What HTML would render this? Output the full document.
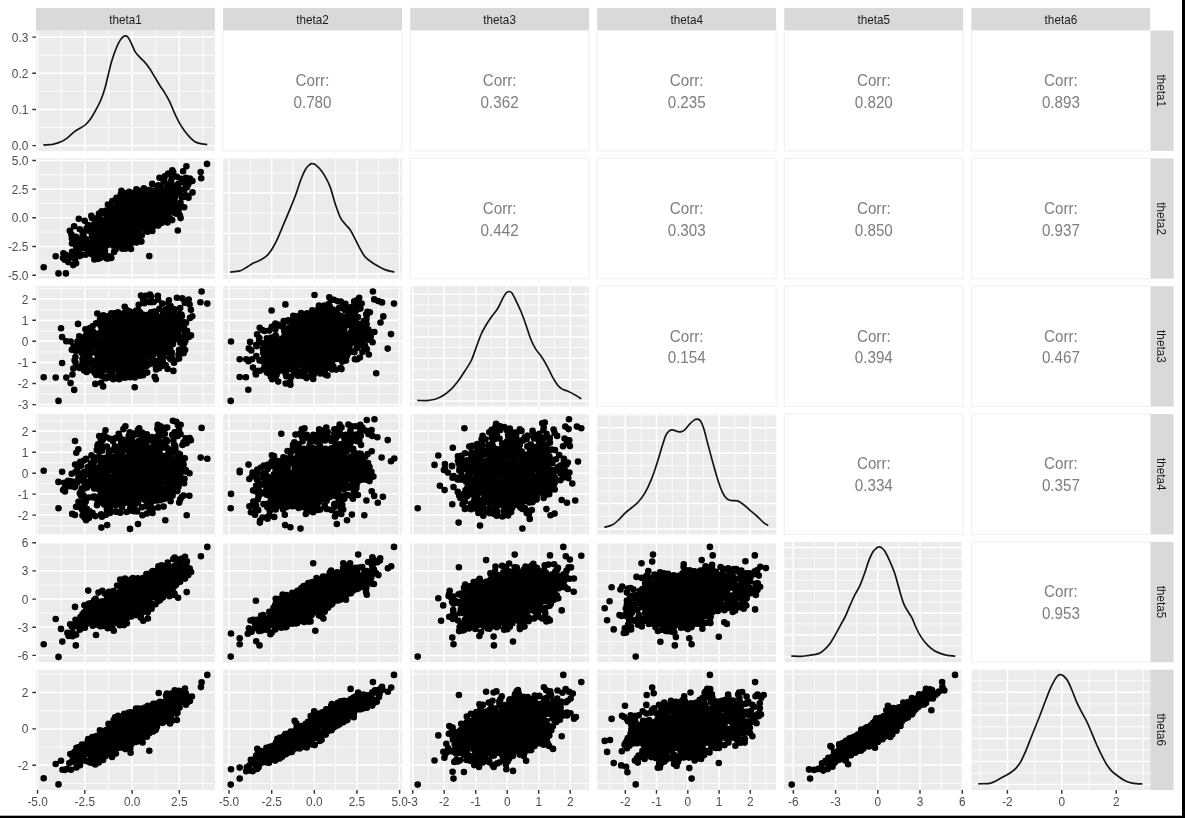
<!DOCTYPE html>
<html><head><meta charset="utf-8"><title>ggpairs theta</title>
<style>html,body{margin:0;padding:0;background:#fff;overflow:hidden}svg{display:block}</style></head>
<body>
<svg width="1185" height="818" viewBox="0 0 1185 818" font-family="'Liberation Sans', sans-serif">
<rect width="1185" height="818" fill="#fff"/>
<defs>
<filter id="soft" x="0" y="0" width="1185" height="818" filterUnits="userSpaceOnUse" color-interpolation-filters="sRGB"><feGaussianBlur stdDeviation="0.5"/></filter>
<clipPath id="c00"><rect x="36" y="30.6" width="178.9" height="120.3"/></clipPath>
<clipPath id="c01"><rect x="223.1" y="30.6" width="178.9" height="120.3"/></clipPath>
<clipPath id="c02"><rect x="410.2" y="30.6" width="178.9" height="120.3"/></clipPath>
<clipPath id="c03"><rect x="597.2" y="30.6" width="178.9" height="120.3"/></clipPath>
<clipPath id="c04"><rect x="784.3" y="30.6" width="178.9" height="120.3"/></clipPath>
<clipPath id="c05"><rect x="971.4" y="30.6" width="178.9" height="120.3"/></clipPath>
<clipPath id="c10"><rect x="36" y="158.4" width="178.9" height="120.3"/></clipPath>
<clipPath id="c11"><rect x="223.1" y="158.4" width="178.9" height="120.3"/></clipPath>
<clipPath id="c12"><rect x="410.2" y="158.4" width="178.9" height="120.3"/></clipPath>
<clipPath id="c13"><rect x="597.2" y="158.4" width="178.9" height="120.3"/></clipPath>
<clipPath id="c14"><rect x="784.3" y="158.4" width="178.9" height="120.3"/></clipPath>
<clipPath id="c15"><rect x="971.4" y="158.4" width="178.9" height="120.3"/></clipPath>
<clipPath id="c20"><rect x="36" y="286.2" width="178.9" height="120.3"/></clipPath>
<clipPath id="c21"><rect x="223.1" y="286.2" width="178.9" height="120.3"/></clipPath>
<clipPath id="c22"><rect x="410.2" y="286.2" width="178.9" height="120.3"/></clipPath>
<clipPath id="c23"><rect x="597.2" y="286.2" width="178.9" height="120.3"/></clipPath>
<clipPath id="c24"><rect x="784.3" y="286.2" width="178.9" height="120.3"/></clipPath>
<clipPath id="c25"><rect x="971.4" y="286.2" width="178.9" height="120.3"/></clipPath>
<clipPath id="c30"><rect x="36" y="414.1" width="178.9" height="120.3"/></clipPath>
<clipPath id="c31"><rect x="223.1" y="414.1" width="178.9" height="120.3"/></clipPath>
<clipPath id="c32"><rect x="410.2" y="414.1" width="178.9" height="120.3"/></clipPath>
<clipPath id="c33"><rect x="597.2" y="414.1" width="178.9" height="120.3"/></clipPath>
<clipPath id="c34"><rect x="784.3" y="414.1" width="178.9" height="120.3"/></clipPath>
<clipPath id="c35"><rect x="971.4" y="414.1" width="178.9" height="120.3"/></clipPath>
<clipPath id="c40"><rect x="36" y="541.9" width="178.9" height="120.3"/></clipPath>
<clipPath id="c41"><rect x="223.1" y="541.9" width="178.9" height="120.3"/></clipPath>
<clipPath id="c42"><rect x="410.2" y="541.9" width="178.9" height="120.3"/></clipPath>
<clipPath id="c43"><rect x="597.2" y="541.9" width="178.9" height="120.3"/></clipPath>
<clipPath id="c44"><rect x="784.3" y="541.9" width="178.9" height="120.3"/></clipPath>
<clipPath id="c45"><rect x="971.4" y="541.9" width="178.9" height="120.3"/></clipPath>
<clipPath id="c50"><rect x="36" y="669.7" width="178.9" height="120.3"/></clipPath>
<clipPath id="c51"><rect x="223.1" y="669.7" width="178.9" height="120.3"/></clipPath>
<clipPath id="c52"><rect x="410.2" y="669.7" width="178.9" height="120.3"/></clipPath>
<clipPath id="c53"><rect x="597.2" y="669.7" width="178.9" height="120.3"/></clipPath>
<clipPath id="c54"><rect x="784.3" y="669.7" width="178.9" height="120.3"/></clipPath>
<clipPath id="c55"><rect x="971.4" y="669.7" width="178.9" height="120.3"/></clipPath>
</defs>
<g filter="url(#soft)">
<rect width="1185" height="818" fill="#fff"/>
<rect x="36" y="7.9" width="178.9" height="22.7" fill="#d9d9d9"/>
<text transform="translate(125.5 23.7) scale(1 1.04)" font-size="11.73" fill="#1a1a1a" text-anchor="middle">theta1</text>
<rect x="223.1" y="7.9" width="178.9" height="22.7" fill="#d9d9d9"/>
<text transform="translate(312.5 23.7) scale(1 1.04)" font-size="11.73" fill="#1a1a1a" text-anchor="middle">theta2</text>
<rect x="410.2" y="7.9" width="178.9" height="22.7" fill="#d9d9d9"/>
<text transform="translate(499.6 23.7) scale(1 1.04)" font-size="11.73" fill="#1a1a1a" text-anchor="middle">theta3</text>
<rect x="597.2" y="7.9" width="178.9" height="22.7" fill="#d9d9d9"/>
<text transform="translate(686.7 23.7) scale(1 1.04)" font-size="11.73" fill="#1a1a1a" text-anchor="middle">theta4</text>
<rect x="784.3" y="7.9" width="178.9" height="22.7" fill="#d9d9d9"/>
<text transform="translate(873.8 23.7) scale(1 1.04)" font-size="11.73" fill="#1a1a1a" text-anchor="middle">theta5</text>
<rect x="971.4" y="7.9" width="178.9" height="22.7" fill="#d9d9d9"/>
<text transform="translate(1060.9 23.7) scale(1 1.04)" font-size="11.73" fill="#1a1a1a" text-anchor="middle">theta6</text>
<rect x="1150.3" y="30.6" width="23.3" height="120.3" fill="#d9d9d9"/>
<text transform="translate(1157 90.8) rotate(90) scale(1 1.04)" font-size="11.73" fill="#1a1a1a" text-anchor="middle">theta1</text>
<rect x="1150.3" y="158.4" width="23.3" height="120.3" fill="#d9d9d9"/>
<text transform="translate(1157 218.6) rotate(90) scale(1 1.04)" font-size="11.73" fill="#1a1a1a" text-anchor="middle">theta2</text>
<rect x="1150.3" y="286.2" width="23.3" height="120.3" fill="#d9d9d9"/>
<text transform="translate(1157 346.4) rotate(90) scale(1 1.04)" font-size="11.73" fill="#1a1a1a" text-anchor="middle">theta3</text>
<rect x="1150.3" y="414.1" width="23.3" height="120.3" fill="#d9d9d9"/>
<text transform="translate(1157 474.2) rotate(90) scale(1 1.04)" font-size="11.73" fill="#1a1a1a" text-anchor="middle">theta4</text>
<rect x="1150.3" y="541.9" width="23.3" height="120.3" fill="#d9d9d9"/>
<text transform="translate(1157 602) rotate(90) scale(1 1.04)" font-size="11.73" fill="#1a1a1a" text-anchor="middle">theta5</text>
<rect x="1150.3" y="669.7" width="23.3" height="120.3" fill="#d9d9d9"/>
<text transform="translate(1157 729.8) rotate(90) scale(1 1.04)" font-size="11.73" fill="#1a1a1a" text-anchor="middle">theta6</text>
<rect x="36" y="30.6" width="178.9" height="120.3" fill="#ebebeb"/>
<g clip-path="url(#c00)">
<path d="M61.2 30.6v120.3M108.5 30.6v120.3M155.7 30.6v120.3M203 30.6v120.3M36 127.5h178.9M36 91.4h178.9M36 55.2h178.9" stroke="#fff" stroke-width="0.8"/>
<path d="M37.6 30.6v120.3M84.8 30.6v120.3M132.1 30.6v120.3M179.3 30.6v120.3M36 145.6h178.9M36 109.5h178.9M36 73.3h178.9M36 37.1h178.9" stroke="#fff" stroke-width="1.5"/>
<path d="M43.3 145.1C44.9 144.9 49.8 144.8 52.7 144.3C55.7 143.7 58.5 142.9 61 141.8C63.5 140.7 65.4 139.3 67.6 137.7C69.8 136 72 133.5 74.2 131.9C76.4 130.2 78.9 129 80.8 127.8C82.7 126.5 84.1 126 85.7 124.5C87.4 122.9 89 121 90.7 118.7C92.3 116.3 94 113.5 95.6 110.4C97.3 107.4 99.1 104.1 100.6 100.5C102.1 97 103.5 93.1 104.7 89C106 84.9 106.9 80.2 108 75.8C109.1 71.4 110.1 66.9 111.3 62.6C112.5 58.3 114.1 53.8 115.4 50.2C116.8 46.6 118.3 43.3 119.6 41.1C120.8 38.9 121.9 37.9 122.9 37C123.8 36.1 124.5 35.9 125.3 35.9C126.2 35.9 126.8 35.9 127.8 37C128.8 38.2 129.9 40.3 131.1 42.8C132.3 45.3 133.7 49.4 135.2 51.9C136.7 54.3 138.5 55.9 140.2 57.6C141.8 59.4 143.5 60.7 145.1 62.6C146.8 64.5 148.4 66.7 150.1 69.2C151.7 71.7 153.4 74.7 155 77.4C156.7 80.2 158.3 83.1 160 85.7C161.6 88.3 163.3 90.4 164.9 93.1C166.6 95.9 168.2 98.8 169.9 102.2C171.5 105.6 173.2 110.2 174.8 113.7C176.5 117.3 178.1 120.7 179.8 123.6C181.4 126.5 183.1 128.8 184.7 131.1C186.4 133.3 188 135.4 189.7 137.2C191.3 138.9 193 140.4 194.6 141.5C196.3 142.5 197.5 142.9 199.6 143.4C201.7 144 206 144.4 207.3 144.6" fill="none" stroke="#141414" stroke-width="1.7" stroke-linejoin="round"/>
</g>
<rect x="223.1" y="30.6" width="178.9" height="120.3" fill="#fff" stroke="#f0f0f0" stroke-width="1.1"/>
<g font-size="15.2" fill="#7d7d7d" text-anchor="middle"><text transform="translate(312.5 85.8) scale(1 1.04)">Corr:</text><text transform="translate(312.5 107.8) scale(1 1.04)">0.780</text></g>
<rect x="410.2" y="30.6" width="178.9" height="120.3" fill="#fff" stroke="#f0f0f0" stroke-width="1.1"/>
<g font-size="15.2" fill="#7d7d7d" text-anchor="middle"><text transform="translate(499.6 85.8) scale(1 1.04)">Corr:</text><text transform="translate(499.6 107.8) scale(1 1.04)">0.362</text></g>
<rect x="597.2" y="30.6" width="178.9" height="120.3" fill="#fff" stroke="#f0f0f0" stroke-width="1.1"/>
<g font-size="15.2" fill="#7d7d7d" text-anchor="middle"><text transform="translate(686.7 85.8) scale(1 1.04)">Corr:</text><text transform="translate(686.7 107.8) scale(1 1.04)">0.235</text></g>
<rect x="784.3" y="30.6" width="178.9" height="120.3" fill="#fff" stroke="#f0f0f0" stroke-width="1.1"/>
<g font-size="15.2" fill="#7d7d7d" text-anchor="middle"><text transform="translate(873.8 85.8) scale(1 1.04)">Corr:</text><text transform="translate(873.8 107.8) scale(1 1.04)">0.820</text></g>
<rect x="971.4" y="30.6" width="178.9" height="120.3" fill="#fff" stroke="#f0f0f0" stroke-width="1.1"/>
<g font-size="15.2" fill="#7d7d7d" text-anchor="middle"><text transform="translate(1060.9 85.8) scale(1 1.04)">Corr:</text><text transform="translate(1060.9 107.8) scale(1 1.04)">0.893</text></g>
<rect x="36" y="158.4" width="178.9" height="120.3" fill="#ebebeb"/>
<g clip-path="url(#c10)">
<path d="M61.2 158.4v120.3M108.5 158.4v120.3M155.7 158.4v120.3M203 158.4v120.3M36 260.8h178.9M36 232.1h178.9M36 203.5h178.9M36 174.8h178.9" stroke="#fff" stroke-width="0.8"/>
<path d="M37.6 158.4v120.3M84.8 158.4v120.3M132.1 158.4v120.3M179.3 158.4v120.3M36 275.2h178.9M36 246.5h178.9M36 217.8h178.9M36 189.1h178.9M36 160.5h178.9" stroke="#fff" stroke-width="1.5"/>
<path d="M43.7 267.3h.01M58.5 273.4h.01M65.9 273.4h.01M55.7 256.3h.01M149.3 256.1h.01M177.8 230.5h.01M180.6 218.1h.01M201.2 178.2h.01M200.7 172.1h.01M207 163.9h.01M186.4 166.2h.01M183.1 171.3h.01M167.5 206.2h.01M151.1 207.5h.01M89.2 230.9h.01M130.3 217.1h.01M148.4 228.4h.01M112.9 227.8h.01M138 214.4h.01M133.5 212.1h.01M130.6 212.3h.01M126.1 230h.01M142.9 212.7h.01M164.4 193.1h.01M106.8 222.4h.01M159.8 214h.01M136.9 222.8h.01M143.3 209.1h.01M102 237.4h.01M134.2 219.1h.01M171.1 186.7h.01M103.7 230.6h.01M75.9 238.5h.01M82.7 234.8h.01M138 225.6h.01M162.4 202.7h.01M175.2 212.7h.01M133.2 213.9h.01M169.1 194.8h.01M123.7 217.6h.01M148.2 215.1h.01M123.8 210.7h.01M117 233.7h.01M134.2 220.2h.01M118.8 212.5h.01M167 193.2h.01M135.9 212.7h.01M142 192h.01M122.1 224.7h.01M165.7 220.8h.01M112.6 225.1h.01M149.5 213.2h.01M121.8 226.1h.01M107.5 240.8h.01M118.5 235.7h.01M110.9 235.7h.01M125.1 216.5h.01M122.1 235.2h.01M139.4 208.2h.01M146.8 216.1h.01M126.7 218.1h.01M129.8 201.2h.01M138.7 219h.01M117.2 222.7h.01M150.9 209.7h.01M154.7 194.1h.01M136.2 231.2h.01M189.9 178.6h.01M156.8 210.8h.01M127.6 234h.01M121.5 232.7h.01M124.6 226.5h.01M118.2 222.7h.01M162.5 198.5h.01M113.5 218.5h.01M128.4 228.2h.01M117.5 225.6h.01M160.3 201.6h.01M93.3 228.7h.01M127.4 221h.01M139.6 229.5h.01M143.8 214.8h.01M158.8 213.7h.01M90.4 247.8h.01M148.4 194.1h.01M104.6 221.8h.01M111 228.9h.01M181.9 197.2h.01M176.8 186.1h.01M79.3 250.3h.01M124.9 222.5h.01M128.8 213.2h.01M72.1 251.9h.01M129.2 243.7h.01M136.6 201.5h.01M75.5 241.8h.01M162 209.8h.01M137.4 195.7h.01M128.9 232.1h.01M112.1 211.1h.01M151 212.6h.01M156.8 220.5h.01M118.6 217.8h.01M132.9 208.2h.01M154.3 202.2h.01M76.5 237.9h.01M133.7 204h.01M77.8 239.5h.01M107.9 217.3h.01M144 206.1h.01M126.8 211.2h.01M120.6 227.7h.01M154.9 217h.01M150.9 199.5h.01M111.3 234.6h.01M138.8 217.3h.01M118.9 226.8h.01M122.7 234.8h.01M121.8 217.9h.01M119.7 243.8h.01M134.4 202.2h.01M138.2 209.1h.01M86.7 247h.01M116.5 226.6h.01M96.4 237.1h.01M165.2 191.9h.01M168.8 184.8h.01M140.4 194.5h.01M159.7 189.8h.01M174.9 188.1h.01M149.8 208.3h.01M124.7 214.4h.01M114.9 244.9h.01M99.3 229h.01M124.9 203.8h.01M167.7 185.8h.01M131.3 223.9h.01M181.9 195.8h.01M170.2 193.7h.01M123.3 220.8h.01M95.2 250.5h.01M129.3 237.2h.01M141.3 202h.01M174 212.8h.01M102.4 233.2h.01M120.9 198h.01M140 220.2h.01M162.7 200.9h.01M145.2 209.3h.01M142.4 194.8h.01M167.8 205.4h.01M144.7 222h.01M124.5 201.6h.01M132.1 211.1h.01M113.2 240.7h.01M146.3 216.3h.01M157.5 214.2h.01M164.8 214.3h.01M129 208.4h.01M143.8 196.8h.01M149.6 202.7h.01M68.3 262.1h.01M100.2 235.9h.01M122.2 203.8h.01M117.8 207.7h.01M83.7 248.1h.01M148.2 198.8h.01M146.8 197.7h.01M146.3 219h.01M147.9 202h.01M159.3 204.7h.01M123.1 240.3h.01M93.2 233h.01M113.9 238h.01M145.9 205.9h.01M186.6 195.6h.01M126 224.4h.01M120.5 211.7h.01M153 196h.01M103.7 243.9h.01M127.3 203.6h.01M165.7 190.4h.01M157.6 208.2h.01M105.3 237.9h.01M163.5 215.4h.01M116.5 229.3h.01M134.2 204h.01M164.4 204.1h.01M105.2 223.8h.01M134.9 192.4h.01M102.2 222.5h.01M76.9 247.3h.01M131.3 222.3h.01M110.5 238.7h.01M87.8 250.2h.01M167.8 207.5h.01M121.2 199h.01M114.1 221.8h.01M89.1 243h.01M167.9 213.8h.01M145 198.9h.01M164.2 179.7h.01M116.7 211.4h.01M155.1 212.4h.01M134.6 207.8h.01M139.5 224.7h.01M105.8 230.6h.01M147.6 214.6h.01M136.9 234.1h.01M137.5 225.5h.01M143.4 194.4h.01M123.3 196.8h.01M109.5 223.8h.01M112.4 218.3h.01M74.9 259.3h.01M92.6 248h.01M87.1 244.6h.01M105.7 219.8h.01M151.6 207.6h.01M84.1 238.7h.01M175.3 208.3h.01M163.4 201.4h.01M107.1 231.5h.01M169.4 185.4h.01M113.7 217.9h.01M109.8 231.5h.01M148.4 223.5h.01M104 229.4h.01M112.9 212h.01M132.8 227.3h.01M116.2 232.8h.01M135.9 202.2h.01M126.3 196.9h.01M101.7 234.2h.01M110.1 208.4h.01M106.7 242.1h.01M164.8 218.3h.01M98 253.1h.01M138 190.2h.01M188.4 197.6h.01M139.3 217.8h.01M156.1 193.1h.01M158.5 191.1h.01M109.6 221.5h.01M161.4 222.9h.01M154.4 222h.01M152.3 191.8h.01M155.8 198.4h.01M113.5 213.6h.01M140.5 223.5h.01M173.9 212.2h.01M103 246.1h.01M178.4 206.5h.01M157.9 206.6h.01M154 192.4h.01M126.3 205.7h.01M129.1 207.5h.01M161.8 197.9h.01M108.9 224.5h.01M163.3 221.4h.01M100 230.8h.01M119.1 217.2h.01M90.2 230.5h.01M117.3 203.7h.01M164.7 204.3h.01M163.7 181.9h.01M179.3 192.3h.01M75.7 236.8h.01M163.2 211.3h.01M148.1 218.3h.01M141.9 202.9h.01M171.1 201.3h.01M164 218.6h.01M86.2 239.8h.01M98.3 234.1h.01M84.3 247h.01M166 190.6h.01M169.1 206.8h.01M131.7 228.4h.01M153.4 218h.01M98.2 227.4h.01M136 197.8h.01M124.1 206.2h.01M71 257.1h.01M106.7 226.2h.01M142.3 215.4h.01M115.2 237.4h.01M121.5 210.1h.01M152.4 228.6h.01M129.6 238.9h.01M141.2 204.9h.01M136.9 238.2h.01M153.6 207.5h.01M105 250.9h.01M95.3 224.5h.01M123.8 241.7h.01M99.5 216.9h.01M86.2 239.4h.01M169.1 190.2h.01M137.1 201.9h.01M105.7 241.9h.01M146 227.7h.01M168.2 173.5h.01M145.3 229.6h.01M189.7 179.6h.01M145.8 231h.01M84.7 240.4h.01M150 190.4h.01M102.9 235.2h.01M125 234.9h.01M109.1 233.1h.01M93.4 245.2h.01M170.6 205.4h.01M115 237.9h.01M162 192h.01M106.1 211.6h.01M113.8 242.9h.01M172 197.7h.01M152.2 219.6h.01M157.5 215.2h.01M172.4 199.5h.01M113.6 210.9h.01M72.9 252.2h.01M159.8 191.9h.01M110.9 240.4h.01M94.8 236.9h.01M114.1 240.8h.01M187 187.2h.01M111.9 216.9h.01M170 218.6h.01M156.9 198.2h.01M166.2 201.9h.01M122.3 248.7h.01M113.3 245.7h.01M100.8 225.3h.01M126.7 239.5h.01M124.8 193.2h.01M143.5 222.7h.01M138.8 199.7h.01M112.2 209.3h.01M118.9 244h.01M92.9 226.9h.01M98.2 258.1h.01M98.9 246.6h.01M102.1 256.8h.01M124 241.7h.01M95.6 241.7h.01M122 245.6h.01M130.6 232.7h.01M134.6 205.5h.01M129.2 200.7h.01M129.6 197.2h.01M131.4 236.8h.01M79.2 243h.01M174.6 209.9h.01M94.6 254.7h.01M100.8 257.8h.01M162.4 217.8h.01M106 210.5h.01M183.7 195.9h.01M167.1 198.3h.01M171.1 181.4h.01M120.8 237.9h.01M118 244.5h.01M134.8 238.3h.01M178.6 183.6h.01M92 235.9h.01M144.2 224.5h.01M131.3 198.8h.01M135 196.1h.01M157.2 188.9h.01M183.5 181h.01M75.7 243h.01M127.7 244.8h.01M178.4 189.3h.01M157.8 192.4h.01M179.5 189.2h.01M88.4 252.8h.01M78.4 248.7h.01M136.4 189.2h.01M161.9 190.2h.01M78 246.8h.01M118.7 237h.01M97.4 229.4h.01M82.6 244.7h.01M166.3 188.1h.01M104.3 248h.01M178.1 185.9h.01M159.1 195.5h.01M159.1 188.8h.01M120.2 241.1h.01M86.5 228.6h.01M92 218h.01M97.4 242.7h.01M171.3 193.9h.01M96.3 222.3h.01M105.2 241h.01M101.4 244.8h.01M76.3 247.2h.01M153 226.4h.01M99 251.8h.01M164.8 176.2h.01M184.4 189.4h.01M185.2 181.4h.01M83 232.6h.01M108.7 256.2h.01M107.2 245.3h.01M102.6 239h.01M101.4 221.5h.01M141.9 227.6h.01M63.4 253.2h.01M186.1 185.9h.01M165.7 188.6h.01M94.2 252.8h.01M94.8 223.1h.01M111.3 258h.01M184.6 183.1h.01M105.8 214h.01M77.4 251.2h.01M104.1 254.9h.01M70.2 255.5h.01M172 206.4h.01M148.8 190h.01M128.8 240.7h.01M104.3 213.2h.01M106.8 258.4h.01M75.1 240.7h.01M175.2 196.7h.01M132.3 197.5h.01M99 213.5h.01M180.5 202.6h.01M117.4 244.6h.01M171.5 202.6h.01M176.3 213.7h.01M147.5 231.8h.01M173.1 201.3h.01M152.7 190.8h.01M92.6 225.2h.01M130.3 242.1h.01M65.1 254.5h.01M117.2 206.4h.01M184.4 195.9h.01M171.7 178.1h.01M163.9 189.9h.01M176.8 189.2h.01M178.5 205.9h.01M84.7 220.7h.01M132.1 193.7h.01M144 193.5h.01M96 218.2h.01M162.6 189h.01M92.9 241h.01M164.3 212.1h.01M92.2 254.5h.01M132.8 242.6h.01M173.2 201.8h.01M79.8 229.3h.01M99.9 239h.01M174.4 199.2h.01M188.4 183.9h.01M158.4 185.2h.01M171.7 209.7h.01M172 192.3h.01M166.7 184.3h.01M106.4 218.2h.01M188.5 197.8h.01M176.7 185.4h.01M89.9 253.3h.01M91.3 215.9h.01M76.8 252.6h.01M127.8 194.9h.01M173 190.4h.01M92.9 238.7h.01M160 186.9h.01M111.4 207.1h.01M177.1 205.9h.01M98.4 258.7h.01M173.5 191h.01M77 254.2h.01M181.6 180.1h.01M79.6 256.1h.01M81.7 255h.01M183.4 196.9h.01M88 225h.01M83.5 235.5h.01M74.1 226.2h.01M181.4 178.9h.01M178.6 211.4h.01M174.1 200.6h.01M107.8 258.6h.01M109.4 213.9h.01M71.4 234.4h.01M71.9 238.6h.01M72 243.5h.01M64.7 259.8h.01M73.2 265.1h.01M115.7 249.3h.01M131 249h.01M136.7 242.4h.01M141.7 235.5h.01M158.2 225.6h.01M184.2 207.3h.01M192.5 192.4h.01M192.4 180.9h.01M177 176.8h.01M173.2 172.3h.01M152.2 183.9h.01M120.8 194.3h.01M116.5 197.7h.01M112.4 201h.01M107.9 204.5h.01M69.8 230.8h.01M78.8 218.8h.01M101.6 211.3h.01M121.4 190.9h.01M129.1 191.7h.01M143.9 188.4h.01M159.5 177.8h.01M172.3 170.2h.01M186 177.8h.01M179.9 215.5h.01M172.2 220.1h.01M167.5 222.5h.01M152.3 230.9h.01M141.4 241.6h.01M125.3 248.7h.01M114.1 251.9h.01M94.4 259.4h.01M85.6 254.8h.01M76.1 263.3h.01M63 258.1h.01" stroke="#000" stroke-width="6.6" stroke-linecap="round" fill="none"/>
</g>
<rect x="223.1" y="158.4" width="178.9" height="120.3" fill="#ebebeb"/>
<g clip-path="url(#c11)">
<path d="M250.3 158.4v120.3M293 158.4v120.3M335.6 158.4v120.3M378.3 158.4v120.3M223.1 253.6h178.9M223.1 213.3h178.9M223.1 173h178.9" stroke="#fff" stroke-width="0.8"/>
<path d="M229 158.4v120.3M271.7 158.4v120.3M314.3 158.4v120.3M356.9 158.4v120.3M399.6 158.4v120.3M223.1 273.8h178.9M223.1 233.4h178.9M223.1 193.1h178.9" stroke="#fff" stroke-width="1.5"/>
<path d="M230.2 272.1C231.8 271.9 237.1 271.7 239.7 270.9C242.4 270.2 244.1 268.7 246.3 267.5C248.5 266.2 250.7 264.5 252.9 263.3C255.1 262.2 257.3 261.7 259.5 260.5C261.7 259.4 264.1 258.2 266.1 256.4C268.1 254.6 269.7 252.8 271.6 249.8C273.5 246.8 275.6 242.8 277.7 238.3C279.8 233.7 282.1 227.8 284.3 222.6C286.5 217.4 289 211.6 290.9 206.9C292.8 202.2 294.2 199.1 295.8 194.5C297.5 190 299.1 184 300.8 179.7C302.4 175.4 304.2 171.5 305.7 169C307.2 166.4 308.8 165.4 309.9 164.5C311 163.6 311.4 163.6 312.3 163.7C313.3 163.7 314.3 163.8 315.6 164.8C317 165.9 318.9 167.7 320.6 169.8C322.2 171.9 323.9 174.2 325.5 177.2C327.2 180.2 328.8 183.4 330.5 187.9C332.1 192.5 333.8 199.5 335.4 204.4C337.1 209.4 338.7 214.3 340.4 217.6C342 220.9 343.7 222.2 345.3 224.2C347 226.3 348.6 227.5 350.3 230C351.9 232.5 353.6 235.9 355.2 239.1C356.9 242.2 358.5 246 360.2 249C361.8 252 363.2 254.7 365.1 256.9C367.1 259.1 369.5 260.6 371.7 262.2C373.9 263.8 376.1 265.1 378.3 266.3C380.5 267.5 382.3 268.6 384.9 269.6C387.6 270.6 392.8 271.7 394.3 272.1" fill="none" stroke="#141414" stroke-width="1.7" stroke-linejoin="round"/>
</g>
<rect x="410.2" y="158.4" width="178.9" height="120.3" fill="#fff" stroke="#f0f0f0" stroke-width="1.1"/>
<g font-size="15.2" fill="#7d7d7d" text-anchor="middle"><text transform="translate(499.6 213.7) scale(1 1.04)">Corr:</text><text transform="translate(499.6 235.6) scale(1 1.04)">0.442</text></g>
<rect x="597.2" y="158.4" width="178.9" height="120.3" fill="#fff" stroke="#f0f0f0" stroke-width="1.1"/>
<g font-size="15.2" fill="#7d7d7d" text-anchor="middle"><text transform="translate(686.7 213.7) scale(1 1.04)">Corr:</text><text transform="translate(686.7 235.6) scale(1 1.04)">0.303</text></g>
<rect x="784.3" y="158.4" width="178.9" height="120.3" fill="#fff" stroke="#f0f0f0" stroke-width="1.1"/>
<g font-size="15.2" fill="#7d7d7d" text-anchor="middle"><text transform="translate(873.8 213.7) scale(1 1.04)">Corr:</text><text transform="translate(873.8 235.6) scale(1 1.04)">0.850</text></g>
<rect x="971.4" y="158.4" width="178.9" height="120.3" fill="#fff" stroke="#f0f0f0" stroke-width="1.1"/>
<g font-size="15.2" fill="#7d7d7d" text-anchor="middle"><text transform="translate(1060.9 213.7) scale(1 1.04)">Corr:</text><text transform="translate(1060.9 235.6) scale(1 1.04)">0.937</text></g>
<rect x="36" y="286.2" width="178.9" height="120.3" fill="#ebebeb"/>
<g clip-path="url(#c20)">
<path d="M61.2 286.2v120.3M108.5 286.2v120.3M155.7 286.2v120.3M203 286.2v120.3M36 394.1h178.9M36 372.9h178.9M36 351.9h178.9M36 330.8h178.9M36 309.7h178.9M36 288.6h178.9" stroke="#fff" stroke-width="0.8"/>
<path d="M37.6 286.2v120.3M84.8 286.2v120.3M132.1 286.2v120.3M179.3 286.2v120.3M36 404.6h178.9M36 383.5h178.9M36 362.4h178.9M36 341.3h178.9M36 320.2h178.9M36 299.1h178.9" stroke="#fff" stroke-width="1.5"/>
<path d="M43.7 377.3h.01M55.7 377.6h.01M66.3 377.6h.01M70.6 383.1h.01M74.2 389.9h.01M58.5 400.9h.01M61 328.3h.01M62.1 337.1h.01M66.3 341.2h.01M70.6 341.5h.01M78 323.9h.01M62.1 363h.01M97.3 313.5h.01M201.6 291.5h.01M200.4 302.3h.01M207.3 303.6h.01M134.7 387.2h.01M95.3 383.9h.01M101.1 382.8h.01M103.1 386.4h.01M82.4 363.5h.01M86.6 372h.01M72.5 374.5h.01M155.9 313.2h.01M136 336.8h.01M140.7 352.2h.01M103.5 342.2h.01M146.6 317.5h.01M157.4 337.1h.01M106.5 336.6h.01M145 332.1h.01M142.2 354.8h.01M139.7 375.8h.01M118.4 335.1h.01M111.2 360.8h.01M110 368h.01M97.7 348.1h.01M137.4 346.7h.01M129.4 347.5h.01M172.9 319.2h.01M160.5 327.4h.01M142.2 327.5h.01M126.2 350.8h.01M167.6 324.5h.01M124.4 342.1h.01M127.7 343.1h.01M172.7 317.7h.01M134 351h.01M108.9 365.9h.01M102.9 359.4h.01M157.2 362.4h.01M183.4 347.9h.01M107.6 360.2h.01M86.9 363.6h.01M145.7 321h.01M89 364.3h.01M139.9 333.8h.01M102 348.6h.01M122.1 360.1h.01M139.6 333.5h.01M115.8 355.1h.01M172.4 328.1h.01M149.2 317.1h.01M147.6 355.9h.01M143.1 325.4h.01M168.2 310.2h.01M164.4 329.9h.01M144.7 329.6h.01M116.9 332.9h.01M130.6 373.4h.01M171 328.2h.01M125 347.2h.01M171.5 355.7h.01M91.2 362.1h.01M109.6 361h.01M110.3 334.1h.01M133.6 345.9h.01M145.7 358.3h.01M134.8 364.9h.01M166.8 325.3h.01M106 328.2h.01M184.1 325.5h.01M140.8 352.3h.01M150.4 315h.01M91.1 343.9h.01M133.2 333.6h.01M124.7 352.6h.01M109.6 346.8h.01M117.9 335.8h.01M106.9 325.7h.01M118.6 373.6h.01M124.5 336.4h.01M143.7 348.7h.01M149.1 340.2h.01M144.5 354.1h.01M131.5 361h.01M158.8 320.6h.01M134.5 312.8h.01M152.1 324.6h.01M120.4 328.4h.01M170.2 347.6h.01M120.5 336.1h.01M163 313.5h.01M107.5 346.4h.01M78 367h.01M161.6 350.4h.01M122.2 327.7h.01M92.6 326.2h.01M93.4 361.2h.01M86.4 339.7h.01M104.3 352.5h.01M146.5 326.8h.01M107.2 357.4h.01M155.2 333.1h.01M117.4 361.8h.01M162.4 338.5h.01M136.6 342.4h.01M120.8 345.7h.01M124.7 336.7h.01M88.1 333h.01M153.2 325.3h.01M76.3 350.2h.01M79.4 368h.01M161.5 318.8h.01M157.3 342.3h.01M113.1 344.7h.01M170.1 317.8h.01M152.2 341.9h.01M96 371.3h.01M150 331.6h.01M154.4 324.8h.01M121.4 321.6h.01M138.7 367.7h.01M118.9 351.8h.01M173.8 321.9h.01M126.6 310h.01M81.3 343.5h.01M127.6 361.1h.01M172.3 313.7h.01M105 338.2h.01M127.8 332.2h.01M130.8 348h.01M103.4 348.6h.01M90.2 344.1h.01M116.8 337.2h.01M154.7 351.6h.01M137.6 343.1h.01M154.2 336h.01M178.5 355h.01M140.1 312.2h.01M133.5 327.7h.01M140.4 328.3h.01M143.4 345.6h.01M102.7 353.5h.01M107.9 341.5h.01M131.1 333h.01M147.6 351.6h.01M178.6 331.5h.01M103.5 376.5h.01M160.7 357.2h.01M152 346.3h.01M148.1 314.9h.01M128.5 330.6h.01M140.2 327.6h.01M179.3 339.7h.01M123.1 346.1h.01M144.3 358h.01M113.1 377.3h.01M165.3 333.6h.01M154.7 376.8h.01M151.4 341.4h.01M125.9 354.4h.01M134.7 319.9h.01M165.1 335.2h.01M138.2 334.6h.01M132.5 327.6h.01M132.9 340.7h.01M179.1 353.5h.01M126 327.7h.01M156.4 329.2h.01M89.2 360.1h.01M170.1 317.4h.01M138.1 374.1h.01M142.8 315.2h.01M143 346.9h.01M119.7 355.8h.01M169.6 358h.01M181.3 325.6h.01M120.8 348.7h.01M133.8 359.6h.01M142.4 345h.01M168.4 303.3h.01M95.1 370.7h.01M130.9 341.1h.01M156.5 345.5h.01M110.8 343.7h.01M113.3 379.2h.01M160.5 322.8h.01M128.1 323.3h.01M92.7 343.9h.01M153.7 302h.01M130.2 357.5h.01M123.9 333.7h.01M108.8 366.6h.01M86.8 356h.01M109.7 373.4h.01M123.7 355.1h.01M90.5 331.2h.01M167.1 345h.01M129.7 356.2h.01M148.8 323.7h.01M145 338.8h.01M163.4 345.1h.01M122.9 377.5h.01M176.1 327.7h.01M163.6 326.5h.01M123.6 359.7h.01M126.8 324h.01M144.1 318h.01M113.2 369.5h.01M169.5 330.6h.01M118.4 358.5h.01M92 335.2h.01M118 321h.01M118.3 337.3h.01M152.4 359.9h.01M108.8 335.7h.01M140.6 318h.01M117.3 365.5h.01M147.6 330.7h.01M121.5 332.5h.01M104 366.6h.01M156.1 328.3h.01M137.1 336.7h.01M128.1 336.2h.01M117.9 325.3h.01M147.6 325.1h.01M111.6 330.4h.01M103.9 339.2h.01M115.2 331.9h.01M140.4 313.2h.01M136.6 318.8h.01M134.5 370.2h.01M169.9 349.6h.01M160.6 333.1h.01M162.2 303.6h.01M178 323.2h.01M110 356.8h.01M101.7 338.1h.01M110.2 359.4h.01M114.1 316.3h.01M149.8 336.6h.01M101.7 324.6h.01M123.8 325.9h.01M107.2 348h.01M88.4 333.3h.01M158.7 350.9h.01M157 316.5h.01M87.3 343.3h.01M164.1 342.7h.01M184.6 322.4h.01M113.6 341h.01M141.8 359.8h.01M104.8 343.6h.01M144.7 335h.01M159.2 327.4h.01M104.8 332.1h.01M126.3 326.4h.01M141.8 342.8h.01M120.9 361.4h.01M113.1 339.4h.01M139.7 349.6h.01M101.2 365.7h.01M152.4 331.3h.01M170.2 324.3h.01M121.1 339.1h.01M127.4 320.1h.01M136.3 349.3h.01M159.6 348.2h.01M181.6 343.6h.01M162.8 361.9h.01M183 337.7h.01M142.4 355.4h.01M170.8 311.9h.01M104.6 334h.01M89.3 347.4h.01M172 331.2h.01M164.5 311.5h.01M161.6 353.2h.01M143.1 375.2h.01M131.5 326.3h.01M153.6 326.7h.01M169.2 349h.01M112.4 338.1h.01M107.9 318.3h.01M114.4 358.8h.01M112.1 334.2h.01M132.9 329h.01M114.5 340.8h.01M135.2 329.1h.01M169.5 352h.01M87 361.1h.01M165.6 365h.01M161.4 341.9h.01M163 325.3h.01M145.7 295.8h.01M127.7 374.4h.01M180.4 342.7h.01M125.6 356h.01M140.7 334.9h.01M167.5 350h.01M105.4 332.3h.01M140.6 321.1h.01M108.5 351.4h.01M115 352.8h.01M121.6 367.5h.01M148.9 319.3h.01M87 343.9h.01M168.9 319.4h.01M172.3 335.8h.01M106.4 361.2h.01M94.7 343.6h.01M73.6 346.4h.01M167.6 320.3h.01M135.9 352.7h.01M109.9 353.9h.01M166.9 341.1h.01M149.2 363.4h.01M157.5 340.9h.01M155.8 341.7h.01M133.8 313.1h.01M156.9 318.3h.01M95.7 333.7h.01M95.8 339.9h.01M122.7 318.8h.01M130.1 324.5h.01M162.4 322.2h.01M186 322.7h.01M134.8 325.7h.01M128.8 318.2h.01M107.6 331.3h.01M174.7 360.6h.01M120.4 363.8h.01M99.2 346.1h.01M138.9 324.2h.01M120.3 345.1h.01M181.1 336.8h.01M149.2 356.1h.01M134.5 363.8h.01M167.7 343h.01M110.5 351.1h.01M117.6 322.7h.01M83.5 349.1h.01M165.1 336.3h.01M97.3 365.6h.01M90.4 353h.01M143.3 345.4h.01M134 324.3h.01M117.4 340.8h.01M111.8 375.4h.01M100.8 358.6h.01M119.1 343.9h.01M86.5 367.4h.01M114.6 331.1h.01M138.8 342.7h.01M128.6 365.4h.01M130.2 335.7h.01M92.1 370.3h.01M141 372.9h.01M127.7 342h.01M180.6 340.5h.01M105.5 362.1h.01M165.8 310h.01M114.1 344.7h.01M108.6 330.2h.01M140.1 352.8h.01M110.9 377.8h.01M101.5 332.4h.01M127.8 366.2h.01M89.4 352.5h.01M151.8 352.4h.01M119.5 370.4h.01M148.7 329.3h.01M93.1 347.3h.01M180.2 308h.01M157.8 322.4h.01M119.8 317.1h.01M103.3 364h.01M111.9 362.6h.01M174.4 309.3h.01M122.1 360.7h.01M166.5 339.5h.01M82.1 341.8h.01M159.3 342.5h.01M163.5 354.1h.01M151.8 324.3h.01M82.5 359.1h.01M89.2 353.4h.01M120.3 349.2h.01M133.7 354.1h.01M129.3 312.6h.01M101 359.5h.01M152.4 346.9h.01M126.5 310.1h.01M145.2 360.8h.01M108.4 327.5h.01M107.9 324.6h.01M159.8 355.1h.01M96.3 364.9h.01M140 365h.01M179.7 352.2h.01M96.4 353.2h.01M116.8 324.5h.01M179.4 319.5h.01M75.9 351h.01M123.1 373.3h.01M123.1 367.9h.01M172.7 316.4h.01M154.7 311.6h.01M117.3 328.9h.01M139.2 340.5h.01M99 366.7h.01M154.4 322.2h.01M150.8 350.6h.01M133 353.3h.01M185.2 333h.01M158.1 299.5h.01M143.1 299.5h.01M169.9 335.1h.01M128.5 351.2h.01M112.6 368.8h.01M151 312.2h.01M188.9 337h.01M143.7 343.4h.01M136.3 310.5h.01M100.9 361.4h.01M127.2 315.7h.01M138.7 304.8h.01M174.4 330.3h.01M135.4 355.7h.01M112.3 326.5h.01M94.6 369.2h.01M119.1 379.3h.01M96.2 345.3h.01M111.9 374h.01M87.6 342.6h.01M148.3 341.1h.01M150.2 316.8h.01M145.7 363.6h.01M173.1 314h.01M94 362.8h.01M156 314.2h.01M98.8 355.2h.01M166 309.4h.01M92.5 343.5h.01M119 351.4h.01M85.5 357.1h.01M184.8 302.7h.01M86.4 366h.01M149 341.9h.01M171.9 352.5h.01M125.5 313.8h.01M118.6 377h.01M126.4 364.4h.01M101.5 354.6h.01M119.1 369.8h.01M133.8 316.8h.01M140.2 356.3h.01M111 351.1h.01M75.6 348.3h.01M149.3 364.3h.01M101.5 350.1h.01M126.6 369.7h.01M119.6 349.5h.01M137 357.7h.01M141.4 369.6h.01M135.2 316.8h.01M117.9 350.2h.01M114.6 367.4h.01M150.3 320h.01M168.9 300.2h.01M170.9 339.4h.01M84.1 344.5h.01M183.6 326.4h.01M168.1 318.2h.01M146.7 350.3h.01M100.8 344.8h.01M124 313.1h.01M134.8 362.4h.01M145.6 346.3h.01M130 311.5h.01M116.3 345.8h.01M117.1 350.7h.01M96.5 371.3h.01M122.9 316h.01M92.7 347.5h.01M113.5 320.6h.01M92.2 341.6h.01M170.9 312.1h.01M86.5 351.5h.01M176.8 338.5h.01M147.2 372.6h.01M93 331.6h.01M146.8 365.8h.01M179.1 349.8h.01M159.7 317.5h.01M80.1 344.3h.01M98.2 333.6h.01M145.9 345.8h.01M114.1 347.5h.01M174.9 338.4h.01M89.2 355.7h.01M144.3 303.3h.01M107.4 316.2h.01M110.9 370.7h.01M84.4 353.5h.01M141.5 364.9h.01M94.4 336.7h.01M93 360.7h.01M187 330.8h.01M86.5 338.3h.01M159.4 308.8h.01M103.7 376.3h.01M128.4 371.1h.01M174.1 333.1h.01M153.2 355.1h.01M154.8 317.5h.01M172.2 343.1h.01M81.7 352.8h.01M156.5 361.1h.01M101.6 330.9h.01M131.5 323.3h.01M84 365.1h.01M182.8 328.4h.01M174.4 336.6h.01M167.8 351.9h.01M102.1 367.5h.01M151.9 363h.01M96.6 360.8h.01M174.9 316.8h.01M138 310h.01M170 309.6h.01M117.9 312.2h.01M168.6 314.2h.01M100.9 326.3h.01M103.2 321.4h.01M117.7 377.7h.01M171.1 359.5h.01M149.5 346.5h.01M111.2 313.3h.01M164 345.7h.01M135.6 371.6h.01M162.3 319h.01M146.2 366.2h.01M110.1 369.5h.01M130.1 366.7h.01M183.8 328.1h.01M104.8 369.7h.01M175.8 339.1h.01M139.8 365.1h.01M90.9 363.9h.01M82.4 337.5h.01M99.8 341.9h.01M171.9 344.6h.01M92 340.8h.01M89.8 328.1h.01M143.6 314.7h.01M173 343.9h.01M77.4 341.5h.01M163.4 357h.01M90.5 350.6h.01M89.8 340.9h.01M80.1 349.3h.01M114.5 323.6h.01M86.4 334.7h.01M181.4 314.6h.01M101.1 371.1h.01M179.2 314h.01M176.2 332.7h.01M134.9 372.6h.01M140.9 361.4h.01M190 317.9h.01M82.6 353.6h.01M100.2 370.9h.01M97.8 356.2h.01M113.5 321.5h.01M180.9 350h.01M181.9 316.1h.01M141.9 368h.01M151.7 302.1h.01M155.7 366h.01M110.9 322.3h.01M170.6 306.1h.01M113.7 313.2h.01M98 358h.01M148.9 301.9h.01M181 322.1h.01M151.2 296.5h.01M71.8 349.7h.01M75.4 357.1h.01M75.5 362.5h.01M84.1 370.5h.01M86.8 371.9h.01M94.6 372.8h.01M100.9 375.6h.01M125.1 377.7h.01M130.3 377.2h.01M156.1 369.5h.01M162.6 365.7h.01M167.6 368.9h.01M173.4 370.9h.01M179.1 358.6h.01M183.6 353.2h.01M184.4 343.1h.01M189.6 304.5h.01M182.3 298.4h.01M176.9 297.8h.01M100 319.3h.01M79.2 336.2h.01M85.4 329.2h.01M96 323.4h.01M103.4 315.3h.01M124.7 306.7h.01M141 295.6h.01M150 294.6h.01M157.9 295.7h.01M188.7 299.6h.01M190.9 309.8h.01M192.3 316.2h.01M191 335.4h.01M185.4 340.7h.01M185.1 350.1h.01M174 362.8h.01M159.1 368.2h.01M155.9 379.3h.01M134.8 377.4h.01M106 378.2h.01M96.2 375h.01M73.3 368.5h.01M74.6 360.4h.01" stroke="#000" stroke-width="6.6" stroke-linecap="round" fill="none"/>
</g>
<rect x="223.1" y="286.2" width="178.9" height="120.3" fill="#ebebeb"/>
<g clip-path="url(#c21)">
<path d="M250.3 286.2v120.3M293 286.2v120.3M335.6 286.2v120.3M378.3 286.2v120.3M223.1 394.1h178.9M223.1 372.9h178.9M223.1 351.9h178.9M223.1 330.8h178.9M223.1 309.7h178.9M223.1 288.6h178.9" stroke="#fff" stroke-width="0.8"/>
<path d="M229 286.2v120.3M271.7 286.2v120.3M314.3 286.2v120.3M356.9 286.2v120.3M399.6 286.2v120.3M223.1 404.6h178.9M223.1 383.5h178.9M223.1 362.4h178.9M223.1 341.3h178.9M223.1 320.2h178.9M223.1 299.1h178.9" stroke="#fff" stroke-width="1.5"/>
<path d="M231 341.5h.01M239.7 359.3h.01M239.7 377h.01M245.9 377.3h.01M248.3 389.7h.01M230.7 400.9h.01M271.6 310.5h.01M285.4 304.4h.01M314.5 295h.01M372.9 291.5h.01M374.2 299.4h.01M378.3 301.1h.01M382 302.4h.01M394 303.6h.01M383.3 316.4h.01M380.5 322.5h.01M391 334.1h.01M387.7 348.6h.01M376.2 373.2h.01M341.5 369.1h.01M246.3 359.2h.01M313 357.4h.01M311.5 359.8h.01M342.7 320.9h.01M281.3 348.3h.01M333.8 353.4h.01M309.1 350.8h.01M308.4 337h.01M345.3 307.6h.01M314 349.8h.01M352.1 307.6h.01M296.8 334h.01M332.3 360.3h.01M303.1 326.6h.01M318.4 337.7h.01M320.9 331.8h.01M280.7 363.8h.01M315.9 366.2h.01M286.7 362.1h.01M288.7 357.2h.01M302.8 340.6h.01M274.7 376.5h.01M320.2 343.2h.01M331.1 328.9h.01M336.9 328.7h.01M302.7 355.9h.01M332.5 337.6h.01M357.3 325h.01M346.7 337.4h.01M265.7 354.1h.01M324.7 337.9h.01M348.6 335.1h.01M313.7 336.3h.01M339.9 330.9h.01M320.6 338.8h.01M320 318.9h.01M321.9 352.6h.01M319.9 335.5h.01M303.7 355.4h.01M365 345.6h.01M339 317.1h.01M300.3 341.3h.01M307.1 336.8h.01M287.3 333h.01M326.7 320.2h.01M276.2 362.6h.01M333.9 337.6h.01M328.8 349.4h.01M329.2 347.5h.01M283.4 323.8h.01M334.4 342.2h.01M310.9 348.5h.01M350.8 318.7h.01M307.4 344.4h.01M360.3 340.8h.01M325 305.8h.01M333.9 353.9h.01M304.5 336.6h.01M304.1 338.7h.01M304.6 320.8h.01M341.4 349.7h.01M303.1 343.1h.01M311.4 346.7h.01M346.5 356.1h.01M327.6 339.3h.01M307.8 349.2h.01M321.6 334.5h.01M276.9 359.5h.01M273.7 358.5h.01M325.5 317.7h.01M329.1 358.4h.01M301.1 357.7h.01M343.5 318.3h.01M283 338.6h.01M325.2 320.2h.01M342.4 348.9h.01M332.7 353.2h.01M356.8 347.9h.01M334.4 326.2h.01M323.2 340.8h.01M286.9 349h.01M311 334.3h.01M283.4 341.7h.01M305.1 371.1h.01M366.6 324h.01M319.7 320.4h.01M324 336.5h.01M296.7 345h.01M257.8 371h.01M290.4 350h.01M339.7 339.9h.01M295.2 342.1h.01M294 358.3h.01M327.4 338.2h.01M333.9 341.8h.01M332.1 320h.01M292.4 338h.01M334.1 312.2h.01M282.6 342.7h.01M290.7 359.9h.01M288.5 348.8h.01M305.5 353.1h.01M289.7 329.3h.01M315.1 353.6h.01M287.8 352.9h.01M301.6 347.7h.01M306.5 378.1h.01M300 345.8h.01M288.2 320.3h.01M281.5 339.4h.01M344.4 337.4h.01M321.9 345.6h.01M293.7 322.2h.01M296.4 353.7h.01M264.4 367.5h.01M313.5 364.1h.01M300.3 347.6h.01M343.2 338.8h.01M300.1 331.5h.01M285.9 354.2h.01M282.8 338.4h.01M340.1 345h.01M329 310.7h.01M305.5 316.9h.01M359.7 340h.01M306.9 319.9h.01M327.7 331.3h.01M285.6 334.7h.01M316.8 337.6h.01M284.8 367h.01M329.2 336.5h.01M330.8 316.8h.01M343.7 307.7h.01M296.5 339.6h.01M328.3 323.3h.01M311.2 329.1h.01M284.1 328.6h.01M332.2 328.7h.01M316.6 331.7h.01M326.7 327.4h.01M361.1 332.2h.01M287 346.3h.01M355.9 323.8h.01M268.7 342.7h.01M284.1 357.1h.01M308.7 338.8h.01M304.7 349.8h.01M340.4 347.3h.01M286.5 321.3h.01M311.1 352.8h.01M305.5 329.2h.01M318.4 348.3h.01M330.2 337h.01M339.3 345.3h.01M322.5 350.8h.01M324.2 345.7h.01M315.6 337.5h.01M272 378.6h.01M262.9 348.9h.01M277.4 372.2h.01M294.1 369h.01M319.9 355.7h.01M305.5 342.8h.01M293.9 340.3h.01M291.1 353.9h.01M315.2 362.7h.01M354.6 341h.01M267.4 339.4h.01M308.1 354.3h.01M340.2 348.2h.01M321.1 356h.01M324.8 350.1h.01M341.9 321.4h.01M270.8 376.5h.01M292.2 344.8h.01M321.4 354.7h.01M320.5 342.3h.01M324.9 370h.01M337.8 314.4h.01M326.2 332.8h.01M297.2 358.4h.01M275.5 356.8h.01M329.8 338.6h.01M320.5 328.6h.01M310.3 333h.01M284.4 350.4h.01M368.4 339.6h.01M325.1 364.3h.01M336.2 358.9h.01M278.7 324.7h.01M322.9 333.1h.01M327.2 322.6h.01M361.5 342.5h.01M343.5 333.1h.01M272.2 346.5h.01M309.1 360.3h.01M316.5 340.7h.01M311.9 373.1h.01M306.4 336.2h.01M350.2 337.6h.01M333.7 343.7h.01M332.4 317.9h.01M317.9 358.4h.01M299 331.2h.01M344.3 329h.01M298.4 352.6h.01M255.6 373.1h.01M340.5 329.1h.01M280.1 356.2h.01M351.5 326.7h.01M313.4 347.9h.01M280 361.2h.01M296.8 363.6h.01M357.1 329.2h.01M319 305.5h.01M312.1 342.9h.01M318.3 350.3h.01M298 331.3h.01M330.5 344.9h.01M354.6 305.5h.01M316.5 313.1h.01M357.7 337.2h.01M344.7 309.9h.01M273.4 355.7h.01M332.6 345.7h.01M351.2 310.9h.01M300 336.4h.01M326 350.9h.01M291.3 331h.01M314 337.1h.01M288.6 339.2h.01M309.1 370.4h.01M310.7 363.4h.01M293.9 372.4h.01M295.5 366.7h.01M323.6 353.2h.01M284.4 360.6h.01M347.9 314.9h.01M287.8 363.6h.01M362.6 327.1h.01M305.1 358.8h.01M297.6 360.8h.01M323.4 332.1h.01M315.6 326h.01M287.8 342.7h.01M316.1 326.2h.01M347.8 324.8h.01M296.3 327.6h.01M324.4 305.6h.01M365.6 332.7h.01M275.7 375.9h.01M291.3 336.3h.01M338.5 331.9h.01M341.7 339.7h.01M295.3 323.4h.01M336.3 332.3h.01M312.4 314h.01M341.8 353h.01M291.9 350.9h.01M290.3 360.9h.01M327.1 311.1h.01M326.5 350.8h.01M331.2 365h.01M329 334h.01M298.1 330.1h.01M340.5 338.3h.01M318.5 343.3h.01M307.2 360h.01M357.6 335.5h.01M356.4 310.3h.01M330.1 341.3h.01M328.4 343h.01M336.7 327.6h.01M370.6 332.3h.01M349.4 346.5h.01M350.8 315.8h.01M297.6 345.9h.01M365.5 328.5h.01M348.8 351.9h.01M328.4 353.4h.01M331.7 360.3h.01M298.2 350.9h.01M296.1 364.5h.01M270.7 370.3h.01M338 328.2h.01M351.5 332h.01M348.7 341.8h.01M268.1 340.1h.01M296.7 351.7h.01M341.1 346.7h.01M282.2 354.3h.01M351.4 316.8h.01M274.3 345.6h.01M276.5 367.7h.01M351.8 338.7h.01M286.1 368.4h.01M299 351.5h.01M327.4 311.7h.01M272.5 350.7h.01M259 341.4h.01M285 336.4h.01M325 360h.01M303.3 325.6h.01M291 327.6h.01M336.9 339.8h.01M313 322h.01M318.4 309.5h.01M271.6 360h.01M324.7 358.4h.01M356 323.2h.01M328.4 367.8h.01M315.4 314.7h.01M342.9 356.5h.01M297.9 375.5h.01M315.2 343h.01M334.8 334.6h.01M339.6 315.9h.01M331 358.1h.01M363.7 336.8h.01M263.8 362h.01M344.4 320.6h.01M324.9 325.4h.01M329.3 327.8h.01M266.9 338.2h.01M324.6 364.2h.01M336.6 325.4h.01M321 361.7h.01M265.4 344.5h.01M348 324.7h.01M354.4 352.3h.01M337 335.3h.01M264.6 357h.01M298.1 319.7h.01M331.9 324.3h.01M335.1 345.4h.01M285 330.1h.01M344.5 338.3h.01M332.1 310.5h.01M310.1 368.2h.01M290.5 367.6h.01M343.8 331.1h.01M303.3 332.8h.01M340.1 307.7h.01M362 342.1h.01M363.2 326.2h.01M359.1 326.8h.01M307.4 360.7h.01M344.8 338.5h.01M293.6 364h.01M316 367.3h.01M343 341h.01M311.3 316.2h.01M316.9 364.7h.01M340.5 333.2h.01M303.3 316.2h.01M335 331.2h.01M344.3 352.8h.01M300.4 364.7h.01M318 318.9h.01M282.3 370.6h.01M271.5 341.9h.01M320.2 364h.01M300.2 364.1h.01M285 331.6h.01M275.7 354.5h.01M304.3 334.7h.01M347.2 341.6h.01M307.1 314.9h.01M281.2 344.2h.01M365.2 333.4h.01M268.5 346.1h.01M307.4 362.2h.01M303.2 363.6h.01M297.4 323h.01M272.8 337.2h.01M307.4 333.9h.01M333 324.5h.01M263.1 352.7h.01M353.8 342.4h.01M309.2 362.5h.01M300.5 372.6h.01M303.3 319.9h.01M352.3 334.3h.01M295.6 334h.01M276.5 339.5h.01M272.2 379.3h.01M346.9 356.1h.01M270.9 355.8h.01M273.9 360.3h.01M307.7 364.4h.01M256.7 346.1h.01M296 316.4h.01M344.5 347.1h.01M334.8 345.7h.01M337.7 347.3h.01M256 374.5h.01M314 311.7h.01M297 347.9h.01M275.4 329.2h.01M364.2 347.9h.01M295.8 369.4h.01M332.3 309.4h.01M278.8 325.4h.01M311.5 328.8h.01M280.9 340.4h.01M270.1 364h.01M302.8 315.5h.01M267.4 364h.01M297.6 317.3h.01M259.5 360.5h.01M329.1 358.8h.01M294 344.8h.01M323.1 313.8h.01M332.3 333.3h.01M273.6 371.4h.01M270.6 338.8h.01M273.7 348.2h.01M359.5 325.3h.01M316.2 326h.01M298 375.7h.01M268.4 364.4h.01M305.2 321h.01M280.6 345.3h.01M332.6 319.5h.01M276.3 337.1h.01M282.2 349.4h.01M343.2 322.8h.01M274.3 365.2h.01M324.1 319.4h.01M325.7 362.2h.01M312 326.5h.01M364.1 323.1h.01M335.6 318.6h.01M284.6 335.8h.01M271.6 373h.01M322.5 324.7h.01M305.2 326.4h.01M276.2 351.9h.01M350.8 324.3h.01M368.4 329.6h.01M341.6 326.4h.01M297.2 326.8h.01M279.7 368.6h.01M286.4 330.1h.01M366.2 314.2h.01M321.6 365.1h.01M319.8 308.3h.01M358.1 324.5h.01M298.3 320.1h.01M307.2 328.8h.01M325.7 317h.01M340.5 359.6h.01M365.8 338.8h.01M305.1 314.9h.01M271.4 337.6h.01M350.5 332.8h.01M341.8 321.3h.01M303.2 365.9h.01M350.6 321.3h.01M319.1 364.5h.01M342.8 355.1h.01M312.2 317.4h.01M357.1 305.1h.01M343.9 332.8h.01M340.1 353.5h.01M286.3 376.2h.01M292.5 369h.01M313.2 368.6h.01M289.8 327.2h.01M340.4 319.3h.01M319.1 369.1h.01M307.5 369.4h.01M345.4 303.9h.01M268 357.7h.01M279.8 354.8h.01M311.2 320.9h.01M352 312.2h.01M284.2 330.9h.01M366.8 349h.01M351.3 307h.01M262.6 343.2h.01M332.1 364.2h.01M352.3 322.4h.01M317.7 322.8h.01M344.7 320.6h.01M302 323.9h.01M293 323.7h.01M351.9 327.2h.01M292.2 323.2h.01M350.9 318.5h.01M350 317.3h.01M347.9 353.5h.01M279 349.4h.01M282.1 326.5h.01M333.3 366.3h.01M361.1 323.7h.01M335.8 357.9h.01M341.3 325h.01M297.3 370.8h.01M333.7 320.3h.01M352.4 351.4h.01M352.2 321.7h.01M342 316.2h.01M355.8 329h.01M358.8 323.9h.01M268.3 350.4h.01M336.8 322.9h.01M293.3 329.9h.01M266.8 368.4h.01M314.6 370.8h.01M356.6 348.3h.01M342.3 361.6h.01M359.9 357.6h.01M278 343.3h.01M263.6 358.3h.01M256.2 345.1h.01M264.1 368.7h.01M313.8 374.6h.01M360.4 308.6h.01M357.9 317.1h.01M358.8 344.3h.01M343.8 331.5h.01M366.7 315.4h.01M354.2 316.3h.01M292.9 319.5h.01M367.8 339.5h.01M330.4 349.1h.01M362.4 352h.01M350.5 312h.01M338.7 308.3h.01M291.2 376.9h.01M324.5 312.6h.01M333.2 347.6h.01M276.5 375h.01M308.3 327.9h.01M332.1 369.4h.01M366.6 337.1h.01M307 313.3h.01M354.7 313.5h.01M319.9 311.3h.01M322.8 309.1h.01M266.9 372.6h.01M357.8 346.5h.01M284.8 334.4h.01M299.6 374.6h.01M356.8 300.3h.01M363.8 321.1h.01M331 299.3h.01M317.8 315.8h.01M307.4 377.1h.01M329.7 306.4h.01M318.5 308.3h.01M264.8 363.9h.01M308 325h.01M329 303.9h.01M259.3 338h.01M303.4 369.5h.01M335.7 351.4h.01M333.4 310.4h.01M260 370.7h.01M293.3 315.8h.01M275.6 335.3h.01M265.7 369.7h.01M356.1 318h.01M287.9 369.4h.01M352.8 351.7h.01M352.5 332.7h.01M291.4 376.6h.01M285.8 374.1h.01M248.8 348.4h.01M251.3 350.4h.01M256.3 356.1h.01M252 359.3h.01M253 367.6h.01M285.7 383.5h.01M290.1 382.1h.01M325.3 374.6h.01M336.2 369.6h.01M354.9 359.2h.01M337.8 301.3h.01M271.8 326.7h.01M269.2 330.6h.01M262.4 330.1h.01M250.1 341.9h.01M257.1 334.4h.01M259.7 327.8h.01M264.5 331h.01M275.4 323.6h.01M283.7 321.1h.01M301.1 313.1h.01M312.3 310.4h.01M329.3 297.2h.01M333.8 299.7h.01M340.8 301.5h.01M354.2 301.4h.01M359.2 297.8h.01M361.6 303.6h.01M367.4 311.9h.01M369.8 312.3h.01M366.4 319.2h.01M374.4 332h.01M370.7 337.1h.01M372.6 342.2h.01M368.8 354.5h.01M357.2 359.2h.01M346 360.4h.01M340.6 367.9h.01M327.5 375.4h.01M320.2 373.4h.01M313.2 379h.01M301.9 375.8h.01M290.4 384.8h.01M278.2 381.6h.01M248.4 361.3h.01" stroke="#000" stroke-width="6.6" stroke-linecap="round" fill="none"/>
</g>
<rect x="410.2" y="286.2" width="178.9" height="120.3" fill="#ebebeb"/>
<g clip-path="url(#c22)">
<path d="M428.4 286.2v120.3M459.9 286.2v120.3M491.4 286.2v120.3M523 286.2v120.3M554.5 286.2v120.3M586 286.2v120.3M410.2 390.4h178.9M410.2 369h178.9M410.2 347.6h178.9M410.2 326.2h178.9M410.2 304.9h178.9" stroke="#fff" stroke-width="0.8"/>
<path d="M412.7 286.2v120.3M444.2 286.2v120.3M475.7 286.2v120.3M507.2 286.2v120.3M538.7 286.2v120.3M570.2 286.2v120.3M410.2 401.1h178.9M410.2 379.7h178.9M410.2 358.3h178.9M410.2 336.9h178.9M410.2 315.6h178.9M410.2 294.2h178.9" stroke="#fff" stroke-width="1.5"/>
<path d="M417.3 400.4C418.9 400.4 423.8 400.8 426.7 400.6C429.7 400.4 432.2 400.1 435 399.3C437.7 398.4 440.5 397.2 443.2 395.5C446 393.7 449 391.3 451.5 388.9C454 386.5 455.9 384.1 458.1 381.1C460.3 378.2 462.5 374.6 464.7 371.2C466.9 367.8 469.4 364.5 471.3 360.5C473.2 356.5 474.6 351.7 476.2 347.3C477.9 342.9 479.5 337.8 481.2 334.1C482.8 330.4 484.3 328 486.1 325C487.9 322 490 319 491.9 316.3C493.8 313.5 495.9 311.5 497.7 308.5C499.5 305.6 501.3 301.2 502.6 298.6C504 296.1 504.9 294.4 505.9 293.2C507 292 507.9 291.6 508.9 291.5C509.9 291.5 510.6 291.4 511.7 292.8C512.9 294.3 514.3 297.2 515.8 300.3C517.3 303.3 519.1 307 520.8 311C522.4 315 524.1 319.5 525.7 324.2C527.4 328.9 529 334.9 530.7 339C532.3 343.2 533.7 345.8 535.6 348.9C537.6 352 540.3 354.8 542.2 357.7C544.2 360.6 545.5 363.2 547.2 366.3C548.8 369.3 550.5 373.1 552.1 376.2C553.8 379.2 555.4 382.3 557.1 384.4C558.7 386.5 560.1 387.7 562 388.9C564 390 566.4 390.5 568.6 391.5C570.8 392.5 573.1 393.9 575.2 395.1C577.3 396.3 580.3 398.2 581.3 398.8" fill="none" stroke="#141414" stroke-width="1.7" stroke-linejoin="round"/>
</g>
<rect x="597.2" y="286.2" width="178.9" height="120.3" fill="#fff" stroke="#f0f0f0" stroke-width="1.1"/>
<g font-size="15.2" fill="#7d7d7d" text-anchor="middle"><text transform="translate(686.7 341.5) scale(1 1.04)">Corr:</text><text transform="translate(686.7 363.4) scale(1 1.04)">0.154</text></g>
<rect x="784.3" y="286.2" width="178.9" height="120.3" fill="#fff" stroke="#f0f0f0" stroke-width="1.1"/>
<g font-size="15.2" fill="#7d7d7d" text-anchor="middle"><text transform="translate(873.8 341.5) scale(1 1.04)">Corr:</text><text transform="translate(873.8 363.4) scale(1 1.04)">0.394</text></g>
<rect x="971.4" y="286.2" width="178.9" height="120.3" fill="#fff" stroke="#f0f0f0" stroke-width="1.1"/>
<g font-size="15.2" fill="#7d7d7d" text-anchor="middle"><text transform="translate(1060.9 341.5) scale(1 1.04)">Corr:</text><text transform="translate(1060.9 363.4) scale(1 1.04)">0.467</text></g>
<rect x="36" y="414.1" width="178.9" height="120.3" fill="#ebebeb"/>
<g clip-path="url(#c30)">
<path d="M61.2 414.1v120.3M108.5 414.1v120.3M155.7 414.1v120.3M203 414.1v120.3M36 525.6h178.9M36 504.6h178.9M36 483.7h178.9M36 462.7h178.9M36 441.8h178.9M36 420.8h178.9" stroke="#fff" stroke-width="0.8"/>
<path d="M37.6 414.1v120.3M84.8 414.1v120.3M132.1 414.1v120.3M179.3 414.1v120.3M36 515.1h178.9M36 494.1h178.9M36 473.2h178.9M36 452.2h178.9M36 431.3h178.9" stroke="#fff" stroke-width="1.5"/>
<path d="M43.7 470.7h.01M62.1 471.7h.01M75 441h.01M78.3 449.2h.01M76.3 452.7h.01M58.5 508.3h.01M101.4 527.6h.01M107.2 525.1h.01M130 528.9h.01M138 524h.01M165.3 520.2h.01M186.7 515.2h.01M201.6 427.9h.01M200.7 457.6h.01M207.3 458.8h.01M98.2 468.8h.01M172 463.5h.01M106.7 484.8h.01M144 492.8h.01M127.9 464.1h.01M139.1 457.9h.01M83.2 502h.01M173.3 440.3h.01M134.2 484.5h.01M102.9 486.6h.01M173.2 435h.01M133.4 501.6h.01M111.9 467.3h.01M111.6 478.3h.01M168.8 464.6h.01M152.4 456.5h.01M123.3 484.5h.01M146 444.3h.01M157.4 449.2h.01M130.4 492.7h.01M119 456.1h.01M120 480.2h.01M160.8 493h.01M174 444.1h.01M169.7 481.3h.01M114.3 476.2h.01M158.7 430.4h.01M84 460.6h.01M103.1 476.2h.01M96.6 477.4h.01M153.8 464.3h.01M104.6 458.2h.01M113.7 468.3h.01M109.7 451.2h.01M162.1 472.4h.01M77.4 482.5h.01M113.4 481.6h.01M154.9 500.5h.01M160.4 487h.01M117.3 473.2h.01M129.7 480.9h.01M169 498.4h.01M120.6 474.1h.01M159.6 453.2h.01M180.1 463.8h.01M121.7 470.8h.01M120.9 460.3h.01M146.4 474.3h.01M157.8 465.4h.01M153 464.1h.01M81.1 465.8h.01M165.4 470h.01M176 463.1h.01M139.7 454.9h.01M106.1 483.6h.01M101.2 514.4h.01M130 461.1h.01M88 483.2h.01M98.8 489h.01M120.3 474.7h.01M104.4 474.8h.01M104.3 461.2h.01M97.6 502.2h.01M156.7 457.3h.01M94.3 486.6h.01M131.3 437.2h.01M119.4 496.5h.01M136.3 452.1h.01M119.2 491.4h.01M126.1 497.1h.01M125 463.8h.01M124 472.8h.01M146.8 476h.01M158.8 477.4h.01M115.9 480.6h.01M140.3 487.5h.01M130.1 462h.01M128.8 460.4h.01M127.2 480.7h.01M108.6 481.7h.01M147.1 466.9h.01M118.2 465.3h.01M156.4 479.2h.01M155.7 458.4h.01M122.9 439.8h.01M104.1 435.3h.01M175.9 469.2h.01M155.7 488.4h.01M159.2 489.6h.01M104.7 488h.01M166 482.1h.01M123.4 481.2h.01M140 462.5h.01M143.1 463.1h.01M143.6 484.1h.01M121.1 467h.01M153.1 465.1h.01M157.2 455.1h.01M94.2 488.5h.01M114.4 462.9h.01M150.8 501.3h.01M106.9 446.6h.01M157.8 435.9h.01M159.7 448.4h.01M151.8 508h.01M120.4 459.7h.01M147.2 484.7h.01M142.5 490.4h.01M145.5 461.9h.01M91.5 455.4h.01M115.9 477.7h.01M116.5 461.6h.01M110.6 486.9h.01M147.8 482.3h.01M121.2 440.8h.01M143.1 458h.01M145.3 500.2h.01M152.3 464.9h.01M142.1 452.1h.01M78.5 477.1h.01M141.5 454.3h.01M153.9 456.7h.01M147.2 492.2h.01M115.7 460.5h.01M136.9 510.6h.01M177.5 455.9h.01M142.1 432.6h.01M134.9 484.3h.01M134.8 458.9h.01M141.4 465.1h.01M107.1 510.3h.01M102.7 473.1h.01M120 500.5h.01M126.1 473.5h.01M171.8 475.7h.01M165.3 455.7h.01M127.8 483.1h.01M136.9 434.2h.01M180.8 477.5h.01M107.9 506.7h.01M147.7 456.8h.01M128.8 497.5h.01M145 472h.01M114.9 501.1h.01M141.9 446h.01M118.3 512h.01M125.7 487.6h.01M111.3 467.1h.01M124.4 490.5h.01M93.6 497.4h.01M120.5 466h.01M159.9 489.1h.01M109.9 489.9h.01M91.4 481.4h.01M132.1 478.1h.01M182.1 471.7h.01M147.4 481.4h.01M114.2 490.8h.01M130.7 490.6h.01M83.4 495.2h.01M175.2 473.6h.01M129.3 454.9h.01M115.3 458.3h.01M141 490.1h.01M117.2 481.1h.01M112.1 465.1h.01M94.1 486.5h.01M132.7 493.9h.01M111.4 470.3h.01M122.7 469.1h.01M99 475.6h.01M87 471.1h.01M171.6 486.4h.01M151.9 474.1h.01M140.9 451.7h.01M161 460.7h.01M112.7 470.8h.01M145.5 461.2h.01M145 486.1h.01M75.5 472h.01M137.9 471.4h.01M142.3 445.5h.01M110.5 484.9h.01M118.4 468.9h.01M133.6 473.2h.01M138.7 462.9h.01M129.8 496.4h.01M154.5 471.6h.01M109.5 499.4h.01M165.7 479.8h.01M142.8 486h.01M120.7 481.6h.01M105.1 488.4h.01M143.5 469.5h.01M138.1 462.9h.01M145 488.5h.01M130.9 507.4h.01M130.1 463.6h.01M120.8 494.6h.01M107 504.9h.01M130.4 445.8h.01M123.2 471.3h.01M121.5 480.8h.01M98.1 487h.01M135 504.4h.01M156 472h.01M106.5 458.4h.01M144 453.6h.01M137.5 476h.01M93.8 468.4h.01M135.6 466.6h.01M142.4 492.7h.01M172 476.9h.01M127.4 443.1h.01M101.4 489.6h.01M132.9 507.6h.01M125.3 500.3h.01M132.4 478.5h.01M163.6 495.5h.01M165.9 439.7h.01M127.1 473.1h.01M106.5 478.2h.01M95.9 473.5h.01M166.9 459h.01M155.2 464.8h.01M115.1 495.8h.01M140.7 498.6h.01M134.5 477.7h.01M154.3 489.9h.01M167 456.2h.01M108.1 468.4h.01M151.1 471.9h.01M177.9 453.2h.01M146.7 482.3h.01M137.3 488h.01M156.2 491.7h.01M98.4 485.8h.01M102.1 450.7h.01M115.8 499.8h.01M110.7 498.8h.01M105 499.3h.01M130.5 468.9h.01M145.7 475h.01M150.9 458.8h.01M126.8 485.5h.01M134 481.8h.01M178.5 487.1h.01M102.7 440.1h.01M185.7 438.4h.01M123.8 479.9h.01M134 496.5h.01M134.9 471.2h.01M83.8 479.7h.01M171.5 468.5h.01M130.4 483.1h.01M153.7 474.2h.01M126.9 479.9h.01M80.5 477.6h.01M125.3 472.2h.01M122.1 457.6h.01M176.9 465.5h.01M103.6 469.8h.01M68.9 486.1h.01M175.2 445.9h.01M121.8 474.8h.01M185.9 470.3h.01M129.6 499.1h.01M98.7 467.8h.01M135.3 484.1h.01M85 475h.01M183.5 442.4h.01M136.7 461.9h.01M163.9 444.7h.01M127.8 479.1h.01M114 456.7h.01M179.6 479.7h.01M139.4 433.1h.01M165.2 480.1h.01M134.6 458.1h.01M121 445h.01M134.3 463.2h.01M126.5 472.2h.01M117 485.7h.01M108.7 454.4h.01M126.2 472h.01M85.6 483h.01M94 475.5h.01M145.4 443.6h.01M79.2 480.8h.01M97.5 470.8h.01M95.6 473.5h.01M184.1 483.3h.01M146 467.5h.01M74.8 487.1h.01M124.9 460.2h.01M142.7 493.4h.01M182 468h.01M132.6 441.3h.01M160.6 459.1h.01M109.6 476.7h.01M105.3 488.8h.01M92.7 514.9h.01M142.1 485.1h.01M146.7 470.3h.01M109.5 466.2h.01M113.1 484.7h.01M111.7 498.4h.01M157.5 482.7h.01M94.3 481.1h.01M164.8 460.7h.01M105.1 464.1h.01M137.5 492.1h.01M111.2 501.1h.01M92.7 485.4h.01M128.8 465.1h.01M108.2 469.7h.01M105.9 477.7h.01M89.2 474.1h.01M97 505.2h.01M99.9 466.9h.01M163.7 473.2h.01M143.6 471.5h.01M81.7 488.6h.01M123.7 502.3h.01M126 491.3h.01M164 476.5h.01M122.4 497.7h.01M181.7 458.5h.01M185.8 471.5h.01M101.5 502.2h.01M131.9 459.1h.01M98.1 444.3h.01M158 440.4h.01M116.9 488.4h.01M102 479.7h.01M153.3 481.5h.01M169.6 474.7h.01M100.7 439h.01M155.3 482.1h.01M133.5 474.4h.01M104.2 504.6h.01M80.3 461.8h.01M147.3 451.3h.01M97.8 467.9h.01M156 466.2h.01M75.3 481.7h.01M111.3 450.5h.01M157.6 476.1h.01M159.5 441.3h.01M144 493.1h.01M119.7 486.3h.01M108.3 490.8h.01M100.2 458h.01M127.9 473.4h.01M98.4 489h.01M150.3 467.7h.01M173 461.7h.01M146.7 478.8h.01M185.4 469.8h.01M132.3 448.4h.01M167.1 491.2h.01M152.9 508.8h.01M129.1 466.7h.01M154.7 469.9h.01M152.1 496.6h.01M156.4 472.2h.01M158.1 437.2h.01M165.2 442.9h.01M138.6 464.4h.01M123.6 445.8h.01M114.5 495h.01M146 464.4h.01M170.8 497.1h.01M136 496h.01M128.9 470.5h.01M174.6 432.3h.01M158.3 507.4h.01M166.9 441.6h.01M134.5 498.4h.01M122.1 451.2h.01M124.3 468h.01M175.4 448.4h.01M104.7 471.8h.01M136.9 485.6h.01M127 479.5h.01M137.6 469.1h.01M134.9 488.9h.01M151.6 501.9h.01M140.6 477.9h.01M136.6 484h.01M97.1 499h.01M110.1 498.1h.01M158.8 471.5h.01M128.7 436h.01M149.5 474.8h.01M149.9 510.8h.01M139 473.1h.01M110.9 495.9h.01M108 462.2h.01M161.3 455.5h.01M127.3 502.5h.01M146.4 481.7h.01M127.2 485.1h.01M138.3 446.7h.01M164.8 465.9h.01M179.8 457.1h.01M107.2 471.9h.01M167.5 473.9h.01M167.3 448.1h.01M162.9 462.4h.01M130.2 508.1h.01M156.2 443.7h.01M161.6 482.1h.01M165.2 490h.01M102.2 492.2h.01M173.9 488.1h.01M144.3 475h.01M149.4 501h.01M126.4 446.3h.01M145.8 450h.01M156.1 460.9h.01M147.6 500.7h.01M172.2 434.9h.01M141.3 494.6h.01M76.5 464.5h.01M126.3 474.1h.01M133.4 486.5h.01M125.8 457.9h.01M99.5 451.9h.01M109 492h.01M98.6 485.3h.01M145.8 463.2h.01M160 466.5h.01M139.1 440.7h.01M133.4 446.9h.01M78.4 506.9h.01M174.6 459.2h.01M165 498.2h.01M164.8 433.7h.01M163.9 499h.01M153.6 445.2h.01M115.1 438.4h.01M93.5 460.8h.01M84.6 483.2h.01M145.8 499.6h.01M152.4 452.4h.01M147.9 448.1h.01M145 478.4h.01M166.3 495.1h.01M157.8 500.4h.01M166.7 477.6h.01M163.6 443.5h.01M115.8 511.7h.01M96.2 457.6h.01M121.5 495.9h.01M174 487.9h.01M139.2 480h.01M173.1 449.5h.01M148.2 447.5h.01M117.7 456.6h.01M157.4 428.9h.01M156.6 449.3h.01M151.9 448.6h.01M146.3 486.3h.01M134.8 456.7h.01M152.6 439.6h.01M99.6 483.2h.01M160.9 435.4h.01M171.1 467.1h.01M142 507.3h.01M153.6 480.2h.01M146.8 434.3h.01M114.9 446.3h.01M125.2 457.4h.01M146.3 506.3h.01M157.9 447.8h.01M171.7 452.9h.01M82.2 509.7h.01M142.9 443.3h.01M131.8 457.2h.01M148.1 482.7h.01M182.4 445h.01M105.6 457.8h.01M169.9 481.8h.01M146.9 513.5h.01M136.3 446.2h.01M125.4 447.3h.01M147.6 461.4h.01M130.9 449.4h.01M170.6 501.2h.01M81.4 490.6h.01M71.3 486.2h.01M139.3 441.4h.01M163.7 488.6h.01M151.9 488.3h.01M116.2 450.4h.01M156.9 496.4h.01M169.4 491.2h.01M151.7 474.8h.01M131.8 489.4h.01M160.6 500.1h.01M142.5 498.6h.01M154 443.4h.01M124.8 457.3h.01M167.6 488.4h.01M129.3 451.3h.01M152.8 480.3h.01M137.1 511.4h.01M146.9 435.5h.01M108.5 461.4h.01M124.8 502.5h.01M119.2 448.1h.01M150.8 480.3h.01M84.3 513.4h.01M87 487.5h.01M75.1 464.5h.01M163.5 431.2h.01M126.5 449.9h.01M114.5 459.4h.01M161.2 443.5h.01M150.3 499.1h.01M147.5 493.4h.01M121.1 452.1h.01M100.7 494h.01M106 514.7h.01M106.5 496.2h.01M109.1 451.8h.01M102.8 446.2h.01M156.5 493h.01M124.9 456.7h.01M116.5 437.8h.01M131.8 451.7h.01M92.5 513.1h.01M169.3 452.2h.01M174.7 480.8h.01M144.1 439.1h.01M130.9 503.1h.01M159.1 433.1h.01M178.5 460.5h.01M133.6 433.8h.01M119.4 436.5h.01M133.9 434.9h.01M159.2 452.1h.01M84.5 517.8h.01M134.5 504.9h.01M152.2 437.5h.01M97.5 445.8h.01M113.1 457.3h.01M98 500.3h.01M171.8 473h.01M137.8 430.1h.01M100.5 497.1h.01M151.1 482.7h.01M102.7 447.5h.01M161.5 486.4h.01M167.8 469.2h.01M89.9 474h.01M171.4 449.7h.01M89.1 513.6h.01M153.1 491h.01M80.9 505.4h.01M85.7 501.8h.01M183.1 482h.01M168.6 485.3h.01M71 481.3h.01M170.8 458.4h.01M138 502.6h.01M143.2 494h.01M173.4 484h.01M106.5 490.9h.01M179.1 472.4h.01M151.6 484.6h.01M93.6 462.8h.01M166.7 440.2h.01M102.7 458.4h.01M93.2 469.2h.01M77.4 467.9h.01M149.9 495.8h.01M142.4 481.9h.01M146.7 490.7h.01M173.6 489.5h.01M83.9 472.1h.01M151.9 437.1h.01M89.6 511.2h.01M128 440.1h.01M172.3 477h.01M115.9 450.4h.01M88.7 497.5h.01M87.6 482.3h.01M180.5 434h.01M90.8 478h.01M132.8 435.8h.01M112.9 440.9h.01M90.8 463.2h.01M64.4 488.2h.01M90.2 465.9h.01M149.9 440.1h.01M168.5 452.3h.01M117.4 502.4h.01M149.9 507.9h.01M106.9 509.3h.01M172.6 495.6h.01M133.1 433.5h.01M182.5 467.8h.01M179.3 482.5h.01M80.3 473.6h.01M110.3 506.5h.01M142.3 436.8h.01M94.5 496.6h.01M123.4 429.1h.01M84.3 488.6h.01M98.1 460.2h.01M86.9 509.1h.01M118.7 433.8h.01M80.1 505.9h.01M87.8 467h.01M66.1 485.5h.01M101.2 463.1h.01M121.2 443.1h.01M177.7 435.9h.01M115.6 505.4h.01M76.5 483.5h.01M136.7 444.3h.01M84.5 504.7h.01M160.6 494.8h.01M162.3 447.7h.01M93 496.9h.01M178.7 476.8h.01M110 508.5h.01M84.7 500.3h.01M122.1 506.9h.01M96.8 449.9h.01M79.8 493.2h.01M78.5 501.9h.01M75 515h.01M126.6 512h.01M131 510.4h.01M142.4 515.2h.01M180.2 499.4h.01M183.6 495.6h.01M184.5 478.7h.01M189.5 473.2h.01M182.1 460.2h.01M190.9 440.2h.01M179 429.7h.01M178 425.2h.01M167.2 427.6h.01M160.5 426.4h.01M106.4 437.2h.01M71.7 473.8h.01M64.3 482.8h.01M86 458.9h.01M99.2 436h.01M105.5 430.2h.01M110.1 438.7h.01M125.4 426.2h.01M129.7 432.3h.01M139.2 428.2h.01M157.8 424.9h.01M165.2 427.7h.01M172.9 420.8h.01M176.4 421.9h.01M180.6 424.7h.01M189.7 438h.01M186.6 443.3h.01M179.9 454.2h.01M184.8 458.2h.01M183.6 464.2h.01M177.3 491.1h.01M181.7 497h.01M179.2 502.6h.01M163.6 506.6h.01M152.5 513h.01M134 511.2h.01M120.3 512.8h.01M110 512.9h.01M101.9 516.8h.01M95.4 516.1h.01M88.9 518h.01M86.1 520.3h.01M82.5 515.6h.01M72.2 513.9h.01M76.1 506.8h.01M80.9 495.6h.01M65 491.4h.01M63.1 490h.01M68.1 480.8h.01M58.4 481.9h.01M189.4 495.8h.01" stroke="#000" stroke-width="6.6" stroke-linecap="round" fill="none"/>
</g>
<rect x="223.1" y="414.1" width="178.9" height="120.3" fill="#ebebeb"/>
<g clip-path="url(#c31)">
<path d="M250.3 414.1v120.3M293 414.1v120.3M335.6 414.1v120.3M378.3 414.1v120.3M223.1 525.6h178.9M223.1 504.6h178.9M223.1 483.7h178.9M223.1 462.7h178.9M223.1 441.8h178.9M223.1 420.8h178.9" stroke="#fff" stroke-width="0.8"/>
<path d="M229 414.1v120.3M271.7 414.1v120.3M314.3 414.1v120.3M356.9 414.1v120.3M399.6 414.1v120.3M223.1 515.1h178.9M223.1 494.1h178.9M223.1 473.2h178.9M223.1 452.2h178.9M223.1 431.3h178.9" stroke="#fff" stroke-width="1.5"/>
<path d="M239.7 470.7h.01M239.7 472.3h.01M248.5 464.6h.01M231 493.9h.01M230.7 508.3h.01M281.3 433.7h.01M366.8 420h.01M374.5 419.2h.01M387.7 440.1h.01M381.6 457.5h.01M391 461.3h.01M394.3 458.5h.01M371.7 491.3h.01M374.2 495.9h.01M382.9 496.7h.01M377.8 502.8h.01M366.4 500.5h.01M364.3 515.2h.01M351.9 514.6h.01M347 520.3h.01M336.8 524h.01M300.5 528.6h.01M285.1 525.1h.01M290.4 527.3h.01M270.3 506.1h.01M267.5 518.7h.01M259.9 522.6h.01M303.9 470.2h.01M305.9 490.9h.01M316.4 459.4h.01M294.1 505.9h.01M308.8 458.5h.01M294.9 469.6h.01M294.5 496h.01M296.4 486.1h.01M312.1 499.4h.01M321.7 483h.01M311 460.5h.01M288.9 480.5h.01M347.3 469.8h.01M305.7 479h.01M265.3 485.4h.01M315.6 467.2h.01M299.9 467.9h.01M296.5 458h.01M290.2 489.9h.01M356.4 487.9h.01M303.4 481h.01M310.9 498.1h.01M309 450.8h.01M294.8 469.6h.01M315.3 470.2h.01M330.2 483.3h.01M307.7 437.3h.01M327.7 479.1h.01M332.2 478.9h.01M344.4 472.5h.01M312 462.4h.01M303.8 496.4h.01M308.8 488.9h.01M283.1 509.5h.01M286.1 494.5h.01M286.3 478.1h.01M314.7 478.3h.01M312 460.4h.01M357.9 476.6h.01M303.1 494.5h.01M301.2 497.3h.01M296.7 459.3h.01M352.8 485.9h.01M298.6 487.8h.01M324.3 494.2h.01M329.1 461.8h.01M276.2 506h.01M272.2 466h.01M320.2 461h.01M320.9 482.7h.01M308.8 497.1h.01M301.3 495.5h.01M364 466.1h.01M291.3 502h.01M321.1 470.9h.01M304.8 499.7h.01M305.1 459.5h.01M282.4 480.1h.01M308.4 489.8h.01M349.1 477.4h.01M306 462.4h.01M315 465.9h.01M280.6 496.5h.01M341.5 427.4h.01M273.1 466.2h.01M300.1 458h.01M303.3 483.7h.01M354.5 479.3h.01M277.9 467.9h.01M334.4 462.5h.01M255.5 509.4h.01M332.1 455.6h.01M343.2 457.8h.01M318.9 485.9h.01M317.1 488.5h.01M337.9 428.5h.01M297 480.7h.01M299.5 478.9h.01M308.4 487.8h.01M306.3 483.2h.01M310.5 481.9h.01M291.6 503.2h.01M301.6 467.5h.01M258.1 473.5h.01M270.5 502h.01M315.9 505.5h.01M262.8 484h.01M306.4 478h.01M329.6 457h.01M301.3 471.4h.01M345.7 470.4h.01M305.1 473.7h.01M304.7 462.9h.01M327.5 458.3h.01M282.4 473.5h.01M334.2 470.6h.01M298.6 487.6h.01M329.6 449.8h.01M330.8 465.4h.01M295.5 460.9h.01M312.8 461.5h.01M296.6 485.3h.01M325.2 474.6h.01M321.4 471.5h.01M305.5 479.1h.01M331.7 484.2h.01M312.9 486.7h.01M297.6 472.9h.01M336.2 436.6h.01M308.2 511.5h.01M334.3 433.7h.01M296.9 489.3h.01M299.4 482.5h.01M301 505.7h.01M319.8 464.9h.01M305.8 514h.01M275.7 509.4h.01M313.6 487.1h.01M317.2 503h.01M331.9 474h.01M308.1 503.6h.01M324.5 432.5h.01M326.3 462.3h.01M314.5 483.2h.01M262.9 477.8h.01M279.3 505.6h.01M319.6 481.4h.01M320.6 459.7h.01M305.8 489.9h.01M313 459.3h.01M347.5 449.6h.01M281 464h.01M322.1 457.3h.01M258 509.8h.01M294.4 476.3h.01M324.1 466h.01M311 494.5h.01M284.5 465.9h.01M280.6 461.3h.01M270.2 486.8h.01M316 465.5h.01M288.7 498.7h.01M332.9 486.7h.01M311.1 478.2h.01M318.3 469h.01M342.7 471.2h.01M315.6 473.5h.01M304.1 450.8h.01M294.8 465h.01M310 476.1h.01M327.7 432h.01M325 440.5h.01M284.5 486.5h.01M292.3 506.3h.01M300.6 499.5h.01M297.1 474h.01M353 481.2h.01M295.7 475.2h.01M343.9 489.6h.01M312.3 497.2h.01M328.2 486.2h.01M302 489.7h.01M297.9 494.6h.01M296.7 502.7h.01M354.5 467h.01M338.8 485.3h.01M317.3 506.6h.01M305.5 470.3h.01M368.4 434.1h.01M320.8 488.1h.01M357.1 464.9h.01M347.7 479.2h.01M296.4 444.7h.01M295.9 482.5h.01M301.1 461.1h.01M293.5 479.9h.01M331.7 489h.01M287.7 476.9h.01M310.8 506.1h.01M313.3 470.9h.01M331.4 477.8h.01M286.6 479.8h.01M350.4 431.4h.01M334.4 473.5h.01M271.6 478h.01M336 458.3h.01M294 474.3h.01M269.4 486.7h.01M326.3 464.8h.01M258.2 510.2h.01M362 461.5h.01M298.7 499.4h.01M327.9 466.5h.01M331.5 473.2h.01M254.5 505.5h.01M326.4 476.9h.01M315.4 475h.01M343.5 443.5h.01M341.2 470.7h.01M330.5 452.2h.01M307.4 467.3h.01M347.1 464.1h.01M335.7 450h.01M337.1 481.5h.01M322.4 491.1h.01M308.8 504.1h.01M283.4 457.2h.01M325.9 456.3h.01M326.7 509h.01M309.7 490h.01M356.1 437.6h.01M283.9 459.9h.01M339.4 485.9h.01M317.6 456.8h.01M300.6 449.9h.01M265.4 479.2h.01M288.6 494.3h.01M303.9 448.7h.01M348.9 439.8h.01M305 484.6h.01M352.6 468h.01M285.8 467.6h.01M329.8 467.3h.01M336.3 436.8h.01M299.3 434.1h.01M273.9 509.1h.01M256 491.5h.01M267.9 478h.01M329.6 482.3h.01M348.8 435h.01M319.5 478h.01M340.4 449.8h.01M283.8 481.4h.01M270.6 502.4h.01M343.9 479.1h.01M331.4 441h.01M311.5 474.7h.01M264.1 473.2h.01M307.8 476.2h.01M353.2 448.8h.01M335.3 435.8h.01M288 481.5h.01M327.9 482.6h.01M353.6 451.5h.01M336.5 481.1h.01M281.8 477.9h.01M308.6 463.8h.01M348.5 475.3h.01M261 493.8h.01M266.7 480.1h.01M335.2 450.1h.01M350 471.5h.01M355.6 460.3h.01M280.1 479.3h.01M355.1 435.9h.01M279.5 493.5h.01M337.5 465.9h.01M292.4 458.6h.01M259.4 491.8h.01M333 464.6h.01M325.6 469.7h.01M269.2 489.9h.01M333.8 485.4h.01M278.8 461.3h.01M345.5 484.1h.01M284.6 468.6h.01M308.7 465.3h.01M339.2 505.2h.01M343.8 483.9h.01M324.2 455h.01M340.3 460.3h.01M289.8 482h.01M346.7 451.2h.01M295.6 485.9h.01M281.9 496.9h.01M335.6 474.4h.01M344 453.5h.01M296.6 450.7h.01M294.5 463h.01M263.5 504.1h.01M311.8 469h.01M317.6 474.5h.01M314.9 450.2h.01M304.8 492.1h.01M321.6 486.1h.01M292 478.8h.01M273.9 488.9h.01M316.3 494.2h.01M309.9 475.4h.01M296.7 491.1h.01M340.7 474.5h.01M360.4 467.2h.01M298.7 444.4h.01M275.7 470.5h.01M306.7 472.2h.01M290.2 485.1h.01M287 489.8h.01M324.5 490.5h.01M323.9 480.9h.01M342.2 475.9h.01M291.4 475h.01M330.9 461.9h.01M313.8 438.7h.01M342.1 454h.01M282.1 506.8h.01M307.2 503.4h.01M310.5 491.3h.01M296.6 489.5h.01M355.5 437.1h.01M281 502.7h.01M282.5 505.5h.01M317.3 449.9h.01M325.5 499.4h.01M355.3 492.9h.01M317.3 489.4h.01M339.5 459.5h.01M318.7 495.2h.01M279 472h.01M366 472.1h.01M306.4 504.1h.01M263.7 484.3h.01M349.7 443h.01M354.5 456.8h.01M325.1 489.2h.01M288.5 464h.01M323.6 497.7h.01M324.7 505.7h.01M360.1 432h.01M306.8 506.9h.01M304.6 434.9h.01M343.5 480.8h.01M323 432.6h.01M348.1 436.8h.01M287.5 451h.01M294.8 462.9h.01M340.6 472.7h.01M336.1 434.3h.01M297.4 451.2h.01M319.2 435h.01M257.6 479.7h.01M357.1 462.6h.01M290.9 474.2h.01M308 497.3h.01M284.2 502.5h.01M313.2 448.2h.01M317.1 502.8h.01M356.4 485.6h.01M351.6 477.4h.01M351.6 457h.01M326.7 451.1h.01M299.6 460.6h.01M268.6 485.1h.01M299.9 475h.01M315.9 456.7h.01M276.8 486.8h.01M328 484.4h.01M354.5 472.4h.01M283.7 496.3h.01M320.6 479.9h.01M323.1 478.7h.01M339.8 499h.01M326.1 470.8h.01M301.2 466h.01M318.1 496.5h.01M338.2 453.7h.01M346.9 437.8h.01M326.1 495.8h.01M287.9 459.4h.01M267.4 480.2h.01M344.5 449.1h.01M344.2 496.2h.01M284.8 457.9h.01M324.1 439.2h.01M288.5 476.6h.01M304.8 479.7h.01M305.8 477.8h.01M338 471.5h.01M320.2 478.3h.01M342.2 504.9h.01M294.1 485.4h.01M356.6 453.8h.01M365.7 474.3h.01M279.5 492.4h.01M324.7 490.2h.01M324.7 485.6h.01M337 490.8h.01M343.2 476.8h.01M272.3 495.3h.01M294.6 494.8h.01M343.5 470.9h.01M345.3 463.4h.01M359.9 474.2h.01M256.5 474.7h.01M311.6 489.4h.01M334.8 478.9h.01M281.3 472.7h.01M357.4 482.2h.01M320 446.1h.01M327 493.6h.01M334.8 503.7h.01M257.1 479.6h.01M282.1 490.5h.01M349.5 436.1h.01M348.3 462.3h.01M299.5 467.3h.01M272.4 498.9h.01M308.9 447.7h.01M309.2 439.1h.01M292.9 447.4h.01M284.9 503.3h.01M293.9 464.1h.01M315.9 498.1h.01M349.8 443.7h.01M321.4 435.3h.01M277 481.4h.01M321.7 455.5h.01M357.3 441.3h.01M319.6 455.2h.01M307.8 457.2h.01M276.5 493.9h.01M360.7 453.8h.01M289.6 491.3h.01M356 435.6h.01M315.4 441.5h.01M360.8 435.7h.01M330.6 487.9h.01M325.4 448.7h.01M277.8 497.7h.01M319.7 446.7h.01M354.8 461.8h.01M287.7 467.3h.01M343.9 469.7h.01M319.6 474.3h.01M283.2 475.3h.01M271.8 504.7h.01M280.2 474h.01M265.5 491.3h.01M340.8 509.7h.01M323.3 453h.01M340.7 476.7h.01M335.8 462.4h.01M289 502.1h.01M268 477h.01M338.7 448.1h.01M307.1 453.5h.01M356.9 461.6h.01M274.9 492.1h.01M294.9 487.4h.01M345.2 460.6h.01M316.9 504.2h.01M348.9 487.6h.01M345.6 434.8h.01M344.7 467.2h.01M260.3 492.5h.01M323.8 499.3h.01M321.8 449.1h.01M295.4 467.9h.01M280.6 465h.01M281.8 490.2h.01M359.3 440.1h.01M326.6 500.8h.01M300.6 465h.01M274.7 460.4h.01M277.6 477h.01M359.7 476.7h.01M305.9 456.9h.01M315 454.1h.01M361 461.5h.01M280.9 483.1h.01M330.6 438.9h.01M341.3 462.6h.01M327.4 490.3h.01M312.8 438.1h.01M335.5 451.7h.01M283.5 488.2h.01M290.4 453.2h.01M256.1 505.6h.01M273.8 483.7h.01M267.5 469.3h.01M340.5 447.7h.01M279 470.4h.01M297.8 455.9h.01M329.7 496.9h.01M335.5 444.1h.01M302.6 441.3h.01M311.1 456.6h.01M256.2 485.5h.01M324 434.5h.01M289.8 505.5h.01M355.1 469.4h.01M334.7 436.3h.01M334.7 495.8h.01M291.7 451.3h.01M329 492.3h.01M363.3 463.8h.01M294.5 498.5h.01M314.3 451h.01M334.1 507.3h.01M350.4 430.5h.01M319.2 501.7h.01M303.1 453.7h.01M314.1 453.8h.01M362.9 466.7h.01M325.1 429.5h.01M269.7 510.9h.01M371.6 475h.01M278.1 461.1h.01M284.3 506.1h.01M345.4 482.9h.01M299.8 501.4h.01M362.8 460.6h.01M351.6 441.6h.01M338.9 428.4h.01M266.3 475.4h.01M312.4 500.8h.01M270.6 497.4h.01M266.3 504.1h.01M271.2 483h.01M313.3 434.7h.01M284.6 473.4h.01M350.7 485.6h.01M300.5 504.7h.01M317.9 510h.01M283.6 497.4h.01M354.8 493.2h.01M331.4 448.4h.01M357.8 454.5h.01M286.9 469.8h.01M293 444.7h.01M313.7 490.4h.01M310.7 509.1h.01M305.1 507.8h.01M359.5 453.5h.01M275.3 461.3h.01M349.9 443.9h.01M369.6 476h.01M295.2 489h.01M338.6 494.4h.01M316.1 436.6h.01M350.8 456.7h.01M300.1 507.3h.01M360.5 459.4h.01M288 462.9h.01M273.2 503.7h.01M294.7 467h.01M338.4 468h.01M267.4 507.2h.01M341 488.8h.01M309.7 444.8h.01M293.7 490.3h.01M349.2 463h.01M368.9 472.5h.01M299.8 502.2h.01M334.3 504.2h.01M342 468.1h.01M339.8 444.3h.01M363.5 468.1h.01M319.1 438.1h.01M349 459.9h.01M268.1 464.5h.01M273.9 477.7h.01M357.3 472.3h.01M279.1 487.1h.01M354.8 452.8h.01M287.5 472.6h.01M353.3 464.7h.01M258.5 487.8h.01M353.8 491.8h.01M319.2 439.6h.01M333.1 488.9h.01M317 509.7h.01M346.9 447.8h.01M306.7 434.7h.01M342 496.5h.01M356.7 478.2h.01M318.1 440.1h.01M349 458.2h.01M347.7 466.4h.01M310.1 439.8h.01M275.1 462.8h.01M346.4 443.6h.01M335.8 491.5h.01M297.2 505.9h.01M326.2 430.6h.01M318.4 434h.01M337 436.2h.01M360.7 473.4h.01M273.9 474.2h.01M275.6 502h.01M338.6 498.5h.01M347.7 495h.01M344.3 455.1h.01M343.3 436.2h.01M289.3 472.6h.01M298.7 507.9h.01M331.4 440.2h.01M266.7 494.8h.01M344.8 439.4h.01M339.9 433h.01M356.1 434.6h.01M313.1 512.2h.01M335.8 438.3h.01M319.4 443.2h.01M302.2 437.5h.01M328.4 437.5h.01M295.5 434.6h.01M259.8 484.9h.01M345.8 488h.01M315.7 448.8h.01M331.6 492.9h.01M251.9 476.4h.01M257.8 499.5h.01M253.3 501.6h.01M250.9 512.2h.01M262.5 517.5h.01M269.2 515.8h.01M336.1 513.9h.01M341.5 500.5h.01M351.9 496.8h.01M361.9 479.7h.01M367 479.9h.01M369.5 467h.01M368 463h.01M367.6 454h.01M371.7 451.3h.01M372.3 435.9h.01M362.4 427.5h.01M359.4 427.1h.01M350.4 425.8h.01M274 456.1h.01M261 467.5h.01M252.6 472.6h.01M257.4 469.6h.01M263.8 465.6h.01M271.9 461.4h.01M271.9 455.3h.01M294.4 442.3h.01M301.8 429.3h.01M304.5 428.2h.01M319.1 429.4h.01M326.3 427.6h.01M334.3 429.3h.01M339.6 424.6h.01M348.4 424.6h.01M355.3 426.2h.01M360.3 424.9h.01M366.2 430.9h.01M371.6 430.1h.01M361 444.9h.01M365.3 456.7h.01M371.4 471.9h.01M373.4 476.6h.01M369.5 481.1h.01M357.9 495h.01M353 498.7h.01M344.3 498.8h.01M343.2 509.5h.01M341.3 514h.01M334.9 516.4h.01M331.4 509.9h.01M320.1 509.6h.01M286.6 507h.01M284.8 514.8h.01M274.2 516.9h.01M267.3 517h.01M260.1 520.5h.01M255 514.8h.01M249.4 506.3h.01M258.5 496.8h.01M253.1 490.4h.01M249.3 479h.01M377.4 437.2h.01" stroke="#000" stroke-width="6.6" stroke-linecap="round" fill="none"/>
</g>
<rect x="410.2" y="414.1" width="178.9" height="120.3" fill="#ebebeb"/>
<g clip-path="url(#c32)">
<path d="M428.4 414.1v120.3M459.9 414.1v120.3M491.4 414.1v120.3M523 414.1v120.3M554.5 414.1v120.3M586 414.1v120.3M410.2 525.6h178.9M410.2 504.6h178.9M410.2 483.7h178.9M410.2 462.7h178.9M410.2 441.8h178.9M410.2 420.8h178.9" stroke="#fff" stroke-width="0.8"/>
<path d="M412.7 414.1v120.3M444.2 414.1v120.3M475.7 414.1v120.3M507.2 414.1v120.3M538.7 414.1v120.3M570.2 414.1v120.3M410.2 515.1h178.9M410.2 494.1h178.9M410.2 473.2h178.9M410.2 452.2h178.9M410.2 431.3h178.9" stroke="#fff" stroke-width="1.5"/>
<path d="M417.7 508.3h.01M434.5 464.9h.01M438.3 455.5h.01M452.8 447.7h.01M464.4 428.3h.01M439.9 485.7h.01M444.6 490.1h.01M452.3 504.2h.01M458.6 522.6h.01M480 525.6h.01M522.4 528.6h.01M546.4 509.1h.01M550.5 515.2h.01M554.6 513.6h.01M561.7 500h.01M567 502.8h.01M575.2 500.5h.01M578 461.6h.01M569 419.2h.01M565.3 426.6h.01M568.6 429.1h.01M576.9 426.6h.01M581.3 428.3h.01M542.2 423.3h.01M544.7 422.5h.01M569.9 446.1h.01M497.8 476.7h.01M533.1 469.4h.01M521.8 478.2h.01M508.7 483.3h.01M527.1 473.9h.01M521.8 474.6h.01M551.8 477.5h.01M500.2 466.2h.01M488.4 464h.01M488.2 467h.01M518.5 464.3h.01M491.5 476.2h.01M509.8 490.3h.01M547.9 467.5h.01M515.8 468.7h.01M504.7 492h.01M531.1 469.9h.01M519.8 444.9h.01M485 487.8h.01M516.8 450.1h.01M495.6 461.4h.01M508 442.7h.01M492.8 472.1h.01M493.3 481.9h.01M483 503.4h.01M536.2 477.8h.01M524.3 463.1h.01M478.4 469.7h.01M539.9 479.9h.01M484.5 486h.01M498 481.7h.01M457.6 479.5h.01M507 430.5h.01M515.8 493.9h.01M548.1 466.8h.01M488.6 479.8h.01M531.7 495.1h.01M488.6 480.9h.01M501.8 467.8h.01M506.5 464.3h.01M459.3 470.6h.01M484 509.8h.01M532.6 453h.01M508.3 507.7h.01M514.2 504.3h.01M508.5 464.8h.01M477.6 483.1h.01M510.2 491.4h.01M502.2 443.4h.01M471.1 509.2h.01M498.4 474.5h.01M547.1 451.5h.01M542.5 478.1h.01M489.9 496.7h.01M496.6 486.5h.01M491 482.9h.01M461.2 476.2h.01M518.4 489.2h.01M459.5 477.7h.01M545.5 466.1h.01M497.8 466.6h.01M525.7 467.8h.01M482 463.3h.01M488.6 445.4h.01M477.2 505h.01M507.3 478h.01M492.8 493.7h.01M488.6 485.6h.01M546.5 433.9h.01M544 456.9h.01M553 471.1h.01M513 464.3h.01M494.7 509.6h.01M538.2 484.4h.01M513.3 477.5h.01M512.1 478.2h.01M554.8 477.8h.01M533.2 481.4h.01M485.1 480h.01M466.2 469.1h.01M499.1 481.5h.01M496.6 506.5h.01M518.8 464.6h.01M547.9 456.6h.01M517.7 486.1h.01M510 462.1h.01M469.8 480.3h.01M541.5 488.5h.01M510 456.3h.01M474.5 464h.01M517.1 489.2h.01M467.5 490.5h.01M485.2 509.1h.01M479.3 454.4h.01M529.2 458.3h.01M485.5 439.4h.01M531.6 487.5h.01M499.6 457.7h.01M476 489.8h.01M561.6 467.8h.01M506.8 489h.01M522.1 474.1h.01M509.2 443.9h.01M498.8 488.5h.01M516.7 496.3h.01M491.2 492.7h.01M505.4 488h.01M507.1 481.2h.01M500.9 470.5h.01M542.6 461.4h.01M457.4 478h.01M516.8 471.9h.01M546.4 469.4h.01M497.4 479.9h.01M494.9 459.7h.01M544.2 489.3h.01M503.2 455h.01M466.9 481.9h.01M546.2 463.9h.01M480 507.6h.01M541.1 476.8h.01M493.2 513.4h.01M516 488.8h.01M547.8 458.6h.01M491.2 510h.01M499.1 464.8h.01M497.8 494.9h.01M522 482.4h.01M485.3 467.9h.01M520.3 483h.01M539.8 441h.01M535 458.2h.01M510.6 460.7h.01M527.7 470.2h.01M495.4 489.7h.01M483.9 476.7h.01M542.5 461.5h.01M539.7 467.5h.01M500.2 487.6h.01M519.2 487.8h.01M494.9 439.1h.01M493.7 488.4h.01M502 481.2h.01M509.4 443.9h.01M509.3 484.2h.01M528.9 493.6h.01M496.6 502.2h.01M482.8 506h.01M478.3 463.3h.01M493.3 463.9h.01M465.5 490.3h.01M521.2 457.8h.01M511.4 490.8h.01M503.6 485.4h.01M532.9 460.9h.01M523.1 465.8h.01M509.3 484.9h.01M509.2 477.3h.01M514.5 491.6h.01M496.7 515.8h.01M515.3 467.9h.01M506.9 491h.01M513.1 482.9h.01M538.1 469.9h.01M514.9 473.6h.01M514.2 467.7h.01M485.7 511.5h.01M485.9 470.8h.01M513.2 474.2h.01M514.7 499.5h.01M536.8 450.8h.01M469.1 491.1h.01M524.6 461.9h.01M526 482.7h.01M477 469.4h.01M508.4 453h.01M509.1 472.8h.01M460.2 479.4h.01M505.4 445.8h.01M509.9 469.7h.01M516.9 458h.01M533 455.6h.01M517.6 485.6h.01M514.2 446.4h.01M483 476.7h.01M530.2 485.8h.01M500.3 461.7h.01M481.4 501.1h.01M554.4 471.7h.01M503.6 469.3h.01M474 486.1h.01M531.1 488.5h.01M503.4 475.3h.01M494.7 494.3h.01M551.2 469.9h.01M539 474.9h.01M518.4 452.9h.01M523.4 439.9h.01M544.5 490h.01M534.7 494.7h.01M546.2 483.8h.01M508.8 471.4h.01M543.2 454.9h.01M519.9 475.9h.01M543.2 493.7h.01M493.7 496.9h.01M478.4 501.5h.01M460.6 463.3h.01M536.6 499.5h.01M476 506.2h.01M516.7 476.1h.01M532.6 481.9h.01M555.6 469.7h.01M482.6 475.7h.01M505 492.5h.01M475.6 480.2h.01M501.9 464.8h.01M477.6 466.8h.01M481.9 455.8h.01M474.1 501.4h.01M527.5 474.2h.01M526.5 474.3h.01M481.2 471.8h.01M503.5 495.7h.01M528.1 457.4h.01M493.2 466.3h.01M489.9 458.8h.01M535.6 463.3h.01M528 460.1h.01M503.5 473.7h.01M528.1 474.3h.01M504 510.2h.01M515.3 487.8h.01M546.9 448.3h.01M480.2 500.6h.01M459.3 495.8h.01M469.2 474.9h.01M486.8 501.3h.01M482.4 477.6h.01M526.3 473.8h.01M519.4 451.5h.01M472.7 492.1h.01M483.9 475.9h.01M502.5 443.9h.01M512.1 449.5h.01M519.5 491.8h.01M535.9 455.8h.01M540.2 473.4h.01M509.8 428.5h.01M468.9 466.6h.01M504 511.4h.01M506.7 496.4h.01M490.6 473.4h.01M505.7 470.4h.01M502.1 488.7h.01M487.1 469.4h.01M481.4 482.6h.01M491.2 478.1h.01M525.6 460.1h.01M542.6 455h.01M560.8 465.8h.01M505.5 462.5h.01M487.9 496.4h.01M550 442.6h.01M508.1 512.5h.01M513.7 486.5h.01M511.2 501.6h.01M545.6 484.9h.01M508.9 433h.01M512.8 457.7h.01M462.5 465.3h.01M493.8 458.9h.01M480.2 468.4h.01M551.7 449.6h.01M477.5 450.2h.01M521.6 462.1h.01M531.2 490.8h.01M467.9 475.1h.01M514.7 479.2h.01M519.7 485.1h.01M545.2 474.7h.01M459.7 469.5h.01M498.2 496.9h.01M518.5 450h.01M548.1 488.5h.01M519.9 442.1h.01M515.4 483.9h.01M491.1 508.6h.01M458 460.7h.01M555 450.1h.01M506.8 462.7h.01M470.9 466.5h.01M457.8 491.9h.01M459.8 463.3h.01M460 467h.01M548.1 486.4h.01M514.2 481.1h.01M489.6 456.6h.01M518.9 469.4h.01M513.2 464.1h.01M510.6 435.1h.01M524 492.7h.01M514.2 462h.01M497.8 457.7h.01M503.1 460.1h.01M493 429.8h.01M467.3 508.3h.01M500.9 490.5h.01M523.7 490h.01M470 469.9h.01M481 475.8h.01M479.3 507.7h.01M502.2 457.4h.01M481.2 472.2h.01M475.7 473.5h.01M476.2 508.8h.01M492 500.3h.01M472.5 503.3h.01M544.9 480.7h.01M474.6 498.7h.01M524.5 501.3h.01M536.7 463.1h.01M522.1 486.4h.01M522.5 509h.01M519.8 481.8h.01M533.9 482.6h.01M453.7 476h.01M529.7 455.9h.01M493 470.6h.01M486.6 493.9h.01M544.6 444.2h.01M499.8 475h.01M532.3 451.2h.01M481.6 439.3h.01M463.9 461.9h.01M491 449.4h.01M521.5 454.5h.01M562.4 475.3h.01M490.9 490.4h.01M530.9 444.6h.01M564.8 470.4h.01M479.7 489.7h.01M485.1 498.4h.01M509.5 506.7h.01M531.9 486h.01M491.7 429.9h.01M544.3 469.1h.01M502.1 448.2h.01M471.1 503.7h.01M509.7 504.9h.01M483 462.1h.01M477.2 495.6h.01M470.9 494.3h.01M484.1 472.9h.01M549 489.7h.01M498.9 497h.01M540.5 481.3h.01M485.5 497.4h.01M531.9 470.3h.01M530.2 479.6h.01M526.4 472.3h.01M480.3 477.3h.01M464 460.8h.01M497.8 449.3h.01M531.6 500.2h.01M534.1 438.5h.01M535.4 467.4h.01M537.5 458.6h.01M528.7 486.6h.01M499.1 468.7h.01M526.9 496.7h.01M519.1 497.7h.01M529.9 464.2h.01M465.4 494.6h.01M523 473.5h.01M525.9 490.3h.01M560.1 465.9h.01M527.7 435.8h.01M511 500h.01M538.2 461.8h.01M507.3 495.6h.01M525.2 467.3h.01M451.9 465.7h.01M537.7 470h.01M498.4 498.7h.01M508.1 435.1h.01M548.6 460.2h.01M452.1 466.2h.01M537.1 476.4h.01M500.4 500.3h.01M543.2 438.4h.01M524.8 508.1h.01M512.8 492.5h.01M478.4 513h.01M553.6 487h.01M504.4 449h.01M510.9 452.8h.01M495.5 452.7h.01M525.1 437.4h.01M552.3 463.1h.01M471.7 452.3h.01M543.1 447.3h.01M492.7 512.5h.01M495 457.2h.01M523.7 456.3h.01M525.8 454.7h.01M560.6 465.6h.01M468.5 483.8h.01M498.4 469h.01M534.4 447.3h.01M476.5 470.7h.01M476.9 488.1h.01M515.2 496.3h.01M466.9 496.5h.01M465 465.5h.01M494.2 449.3h.01M484.8 497h.01M507.2 447.1h.01M518.7 492.4h.01M498.4 470.4h.01M540.2 487.4h.01M531.5 476.9h.01M516 433.9h.01M475.2 478.6h.01M543.7 444.8h.01M516.3 439.7h.01M512.3 495.8h.01M470.1 481.4h.01M532 451.8h.01M548.3 481.6h.01M544 482.9h.01M533.6 436.7h.01M549.7 457.8h.01M493.1 449.5h.01M505.1 454.1h.01M461.2 471.7h.01M491.7 476.3h.01M497.3 511.6h.01M551.3 474.2h.01M464.3 479.2h.01M550.7 478.7h.01M554.7 482.9h.01M489.4 513.1h.01M484.4 490.4h.01M526.7 513h.01M520.6 507.7h.01M484.4 493.5h.01M521.4 453.6h.01M537.7 448h.01M514.7 456.1h.01M495.3 481.2h.01M488.9 473.2h.01M560.5 473.5h.01M482.5 450.7h.01M485.8 478.9h.01M525.7 470.9h.01M506.9 507.9h.01M539.8 438.6h.01M519.9 467.4h.01M496.8 454.6h.01M470.9 454.5h.01M510.3 510.9h.01M514.2 451.6h.01M525.2 493.7h.01M551.2 484.9h.01M549.3 456.4h.01M492.1 443.3h.01M516.3 438h.01M524.7 437.2h.01M514.7 436.4h.01M544.1 466.3h.01M530 451.6h.01M507.8 512.9h.01M523.8 468.3h.01M509 498.9h.01M557.6 467.4h.01M524.1 485h.01M508 456h.01M487.3 450.4h.01M492.6 476.2h.01M499.5 438.5h.01M461.7 459.1h.01M512.2 507.8h.01M529.7 447.1h.01M472.6 479.1h.01M536.1 483.8h.01M473.2 460.4h.01M482.8 483.4h.01M515.5 443h.01M494.8 430.1h.01M505.2 452.4h.01M502.9 499.9h.01M514.5 436.8h.01M520.5 493.4h.01M482.8 455h.01M483.9 498.6h.01M484.3 454.1h.01M537.6 446.6h.01M477.7 448.4h.01M557.1 435.9h.01M487.5 460.4h.01M545.6 437.8h.01M494.4 502.1h.01M537.1 434.7h.01M478.7 459h.01M528.6 482h.01M549.8 438h.01M507.1 441.3h.01M503.8 457.7h.01M525.2 479.2h.01M532.9 475.2h.01M467.6 475.4h.01M544.5 478h.01M514.1 443.2h.01M516.4 433.1h.01M536.8 496.2h.01M548.8 450.4h.01M465.9 480.2h.01M519.4 503.8h.01M498 456h.01M492.6 432.2h.01M527.4 446.4h.01M493.6 513.8h.01M507.8 462.5h.01M539.1 459.7h.01M467.4 460.2h.01M540.4 461.1h.01M563.4 477.5h.01M479.1 447.6h.01M542.3 490.2h.01M467.3 487.8h.01M459.5 468.6h.01M500.3 430h.01M516 435.1h.01M501.5 504.1h.01M458.7 463.5h.01M517.5 505h.01M495.5 426.8h.01M513 438.9h.01M478 485h.01M496.1 507.8h.01M493.5 447.5h.01M544.9 495.6h.01M496.8 435.4h.01M542.6 449h.01M473.7 491h.01M521.8 451.6h.01M482.3 445.2h.01M507.9 507.1h.01M554.6 432.9h.01M545.7 473.4h.01M546.5 444.8h.01M532.2 488.6h.01M526.5 439.3h.01M476.4 453.2h.01M539.3 453.6h.01M509 430.8h.01M539.9 443.5h.01M535.3 489.4h.01M511.1 512h.01M560.4 480.2h.01M507.3 441.2h.01M522.2 440.2h.01M498.6 451.9h.01M522.5 440.8h.01M463 479.7h.01M491.9 437.4h.01M468.2 488.1h.01M474.4 480.3h.01M520.1 507h.01M472.5 458h.01M530 498.7h.01M548.3 478.9h.01M466.1 481.8h.01M520.4 499h.01M470.3 465.6h.01M493 501.4h.01M476.4 475.8h.01M511.7 432.6h.01M477 493.2h.01M495.6 507.3h.01M461.2 494.6h.01M538.8 440.8h.01M522.3 497h.01M512.1 440.5h.01M502.7 445.8h.01M478.5 454.9h.01M502.2 505h.01M529.5 502.4h.01M489.4 503.6h.01M563.3 475.5h.01M505.9 503.5h.01M508.3 439h.01M474.2 471.4h.01M556 459.2h.01M492.6 445.9h.01M503.2 449.9h.01M483.8 461.7h.01M558.2 468.9h.01M464.8 501.8h.01M493.2 453h.01M480.2 489.4h.01M514.4 432.5h.01M482.9 492.7h.01M527.9 510.7h.01M475.8 469.5h.01M538.9 488.5h.01M538.6 491.3h.01M486.6 450.7h.01M521.3 506.2h.01M478.9 492.9h.01M447.9 472.6h.01M496 426.3h.01M527.3 435.7h.01M460.4 498h.01M464.9 509h.01M483.3 515.7h.01M502.4 516.5h.01M529.7 518.9h.01M528.9 514.2h.01M531.8 510h.01M543.6 498h.01M549.4 491.7h.01M567.9 473.9h.01M566.6 464.4h.01M563.9 461.1h.01M559.2 455.1h.01M563 446.3h.01M567.9 443.7h.01M566.4 440.8h.01M543.4 429.8h.01M521.5 430.9h.01M504.3 427h.01M500.1 426.4h.01M496.1 423.8h.01M477.1 444.1h.01M472.2 445.9h.01M465 453.3h.01M461.2 455.8h.01M444.9 468.2h.01M443.9 470h.01M444.9 464h.01M457.9 456.3h.01M469.3 446.6h.01M482.6 435.7h.01M489.2 432.3h.01M519.8 429.4h.01M532.6 430.9h.01M539.4 433.9h.01M543.7 427.6h.01M553.6 429.6h.01M564.6 438.5h.01M569.3 440.3h.01M563.9 458.7h.01M567.8 462.6h.01M569.4 472.5h.01M568.3 478.1h.01M572.3 483.5h.01M554.7 489.5h.01M549.2 494.3h.01M532.6 502.1h.01M508.1 515.5h.01M462.5 504.3h.01M453.5 487h.01M452.5 477.8h.01" stroke="#000" stroke-width="6.6" stroke-linecap="round" fill="none"/>
</g>
<rect x="597.2" y="414.1" width="178.9" height="120.3" fill="#ebebeb"/>
<g clip-path="url(#c33)">
<path d="M609.6 414.1v120.3M640.9 414.1v120.3M672.2 414.1v120.3M703.4 414.1v120.3M734.7 414.1v120.3M766 414.1v120.3M597.2 516.3h178.9M597.2 491h178.9M597.2 465.7h178.9M597.2 440.4h178.9M597.2 415.1h178.9" stroke="#fff" stroke-width="0.8"/>
<path d="M625.3 414.1v120.3M656.5 414.1v120.3M687.8 414.1v120.3M719.1 414.1v120.3M750.3 414.1v120.3M597.2 528.9h178.9M597.2 503.6h178.9M597.2 478.3h178.9M597.2 453h178.9M597.2 427.7h178.9" stroke="#fff" stroke-width="1.5"/>
<path d="M604.3 527.3C605.6 526.9 609.7 526.3 612.1 525.1C614.5 523.9 616.5 521.9 618.7 519.8C620.9 517.8 623.1 515 625.3 512.9C627.5 510.8 629.7 509.3 631.9 507.5C634.1 505.6 636.3 504.2 638.5 501.7C640.7 499.2 642.9 496.5 645.1 492.6C647.3 488.8 649.8 483.3 651.7 478.6C653.6 473.9 655 469.7 656.6 464.6C658.3 459.5 660.1 452.9 661.6 448.1C663.1 443.3 664.5 438.5 665.7 435.7C667 432.9 667.9 432 669 431.1C670.1 430.1 671.1 429.9 672.3 429.9C673.5 429.9 675.1 430.7 676.4 431.1C677.8 431.4 679.2 432.1 680.6 431.9C681.9 431.7 683.2 431.2 684.7 429.9C686.2 428.6 688.1 425.7 689.6 424.1C691.1 422.6 692.5 421.2 693.8 420.4C695 419.5 696 419.1 697.1 419.2C698.2 419.3 699.3 419.3 700.4 420.8C701.5 422.4 702.4 424.4 703.7 428.3C704.9 432.1 706.3 438.3 707.8 443.9C709.3 449.6 711.1 456.2 712.7 462.1C714.4 468 716 474.3 717.7 479.4C719.3 484.5 721.1 489.4 722.6 492.6C724.1 495.8 725.4 497.4 726.8 498.7C728.1 500 729.1 500.2 730.9 500.5C732.7 500.9 735.3 500.1 737.5 500.9C739.7 501.6 741.9 503.3 744.1 505C746.3 506.6 748.5 508.8 750.7 510.8C752.9 512.7 755.1 514.5 757.3 516.5C759.5 518.5 762 521.3 763.9 522.8C765.7 524.3 767.6 525.1 768.3 525.6" fill="none" stroke="#141414" stroke-width="1.7" stroke-linejoin="round"/>
</g>
<rect x="784.3" y="414.1" width="178.9" height="120.3" fill="#fff" stroke="#f0f0f0" stroke-width="1.1"/>
<g font-size="15.2" fill="#7d7d7d" text-anchor="middle"><text transform="translate(873.8 469.3) scale(1 1.04)">Corr:</text><text transform="translate(873.8 491.2) scale(1 1.04)">0.334</text></g>
<rect x="971.4" y="414.1" width="178.9" height="120.3" fill="#fff" stroke="#f0f0f0" stroke-width="1.1"/>
<g font-size="15.2" fill="#7d7d7d" text-anchor="middle"><text transform="translate(1060.9 469.3) scale(1 1.04)">Corr:</text><text transform="translate(1060.9 491.2) scale(1 1.04)">0.357</text></g>
<rect x="36" y="541.9" width="178.9" height="120.3" fill="#ebebeb"/>
<g clip-path="url(#c40)">
<path d="M61.2 541.9v120.3M108.5 541.9v120.3M155.7 541.9v120.3M203 541.9v120.3M36 641.4h178.9M36 613.2h178.9M36 585h178.9M36 556.8h178.9" stroke="#fff" stroke-width="0.8"/>
<path d="M37.6 541.9v120.3M84.8 541.9v120.3M132.1 541.9v120.3M179.3 541.9v120.3M36 655.4h178.9M36 627.3h178.9M36 599.1h178.9M36 570.9h178.9M36 542.8h178.9" stroke="#fff" stroke-width="1.5"/>
<path d="M43.7 644.2h.01M58.5 656.9h.01M55.7 619h.01M61 628.9h.01M62.3 641.6h.01M75.8 645.4h.01M75 606.9h.01M88.2 590.6h.01M96 635h.01M186.7 592.1h.01M200.9 556.3h.01M207.3 546.9h.01M178.1 597.8h.01M115.6 611.1h.01M127.3 598.9h.01M113.8 614.7h.01M79.6 629.7h.01M119 592.4h.01M187.9 570.8h.01M144.6 610.3h.01M151 586.2h.01M160.6 583.9h.01M132 589.5h.01M137.8 613.1h.01M147.5 588.3h.01M155.9 577.6h.01M105.4 606.1h.01M127.1 591.3h.01M119.7 625.2h.01M144.7 594.7h.01M125.5 603.4h.01M97.8 616.9h.01M138.8 590.8h.01M133.5 598.8h.01M131.4 608.4h.01M166.1 583.3h.01M161 579.9h.01M142.4 591.8h.01M122.7 594.3h.01M94.6 624.4h.01M168.5 566.8h.01M131.3 581h.01M122.5 605h.01M119.8 607.6h.01M95.9 619.3h.01M93.1 603.1h.01M116.9 618.8h.01M132.5 589.7h.01M118.1 602.1h.01M160.5 594h.01M158.3 572.3h.01M132.6 586.9h.01M119.7 606.3h.01M146.4 574.1h.01M138 602.4h.01M130.8 609.3h.01M149 591.3h.01M126 596.7h.01M150.6 590.9h.01M100.5 622.6h.01M122.2 600.2h.01M131.3 601h.01M102.8 626h.01M117 613.5h.01M74.5 625.7h.01M169.3 575.9h.01M148.8 573.8h.01M186.4 563.6h.01M117.6 612.3h.01M146.2 589.2h.01M128.3 592.7h.01M166.6 572.5h.01M126 586.3h.01M175.6 572.4h.01M104.6 613.8h.01M149 576.2h.01M126.1 596.3h.01M102.7 611.1h.01M130 595.8h.01M80.5 617.1h.01M136.2 600.8h.01M145.8 593.4h.01M105.4 601.5h.01M135.3 600.7h.01M153.1 583.2h.01M128.7 602.4h.01M154.5 579.3h.01M125.5 622.4h.01M155.5 591.6h.01M110 616h.01M154.2 579.3h.01M150.7 598h.01M147.8 580.3h.01M118 596.1h.01M134.3 596.7h.01M90.9 612h.01M148.1 577.5h.01M168.4 585.1h.01M84 612.5h.01M117.7 602.4h.01M99.1 619.5h.01M130.1 583.2h.01M84.3 612.2h.01M115.3 603.6h.01M155.6 596.5h.01M176.3 570.2h.01M131.4 584.9h.01M138.1 586.4h.01M82.7 621.5h.01M153.7 592.7h.01M108.7 600.5h.01M167.3 569.6h.01M88.4 610.3h.01M116.3 593.2h.01M143 601h.01M112.1 610.2h.01M107.8 625.5h.01M116.9 619.3h.01M112.6 620.5h.01M141.1 603.6h.01M159.9 600.3h.01M139.1 593h.01M147 593.2h.01M99.6 619.9h.01M111.7 607.6h.01M121.7 610.5h.01M140.7 599.9h.01M136.8 589.4h.01M125.1 607.7h.01M174.3 578.5h.01M135.3 603.5h.01M133.6 606h.01M108.8 597.4h.01M156 590.1h.01M152.6 571.1h.01M147.9 599.6h.01M137.8 578.3h.01M76.6 625.8h.01M137 594.4h.01M174 568.6h.01M90.1 619.8h.01M143.6 599.1h.01M109.5 601.7h.01M104.2 606h.01M112.4 595.7h.01M125.8 590h.01M122.4 593.7h.01M153.6 596.2h.01M136.3 585.9h.01M129.5 608.1h.01M156.9 582.8h.01M117.2 609.4h.01M179.5 577.1h.01M177.3 562.8h.01M95.8 616h.01M172 594.8h.01M94.1 602.6h.01M143.3 607.8h.01M83.9 621.5h.01M124.9 586.2h.01M146.2 599.8h.01M154.1 589.1h.01M176.7 567.3h.01M155.7 576.9h.01M153.4 594.3h.01M102.3 612.5h.01M177.2 564.7h.01M159.1 588.7h.01M72.4 632.2h.01M180.3 568.7h.01M104.4 621.1h.01M157.6 594.2h.01M92.7 625.8h.01M159.4 587.1h.01M139.2 599.7h.01M164.1 578.7h.01M144.4 584.9h.01M154.5 589.2h.01M165 591.7h.01M176.3 577.3h.01M99.6 609.1h.01M98.7 612h.01M131.4 583.8h.01M146.5 605.8h.01M172.7 587.3h.01M166.4 571.4h.01M117.6 606.7h.01M83.9 618.4h.01M143.4 577.8h.01M104.7 612.2h.01M91.4 606.1h.01M130.1 594.9h.01M141 593.8h.01M106.5 621.1h.01M140.6 584.1h.01M124.3 608.8h.01M117.9 596.8h.01M92.3 623.8h.01M80.1 628.1h.01M164.6 590.2h.01M149.7 584.3h.01M142.4 582.7h.01M101.8 614.7h.01M127.4 617.4h.01M86.3 623.9h.01M109.1 619.2h.01M140.5 585h.01M161.1 593.4h.01M126.7 607.9h.01M181.3 576.6h.01M90.6 614h.01M84.9 617.8h.01M156.2 585.2h.01M119 599.2h.01M154.6 577.5h.01M111.9 599.4h.01M130.5 595.1h.01M105.4 610h.01M123.1 592.1h.01M170.2 588.9h.01M171.2 589h.01M110.5 602.5h.01M133.9 611.9h.01M85.2 625h.01M124.6 621.1h.01M127.3 610.3h.01M133.3 594.1h.01M105.8 607.4h.01M135.6 583.5h.01M170.2 575.4h.01M139 589.5h.01M180 579.5h.01M117.2 621.9h.01M125.1 585.8h.01M132.4 609h.01M137.5 604.4h.01M102.9 620.8h.01M140.1 590h.01M112.6 611.3h.01M113.7 597.9h.01M103.3 614.7h.01M106.3 613.3h.01M109 591.8h.01M144 587.3h.01M130 589h.01M176.1 579.9h.01M114.5 620.9h.01M172.6 594.3h.01M161.7 588.4h.01M163.2 589.6h.01M87.7 615.8h.01M131.3 616.4h.01M147.7 612.3h.01M107.8 600.5h.01M116.9 614.3h.01M108.6 618.6h.01M110.9 627.7h.01M167.7 577.2h.01M94.4 624.8h.01M161.7 578.9h.01M105.5 606.3h.01M162.8 597.6h.01M152.1 571.7h.01M85.9 610.9h.01M102.8 601.4h.01M158.5 601.1h.01M90.6 603.3h.01M167 583.8h.01M167.2 584.1h.01M157 574.7h.01M127 610.4h.01M126.7 585.3h.01M185 569.2h.01M123.9 584.3h.01M97.5 615h.01M165.8 580.3h.01M136.7 605.5h.01M110.8 612.2h.01M125.3 589.7h.01M168.1 590.5h.01M78.4 625h.01M180.1 581.8h.01M96.2 624.5h.01M172.7 592.3h.01M76.6 623.1h.01M124.5 611.8h.01M187.9 568.9h.01M106.9 611.7h.01M170.6 582.4h.01M152.8 575.5h.01M147.3 610.7h.01M135.9 580.3h.01M131 611.7h.01M162.9 585.7h.01M119.1 617.2h.01M172.6 590.7h.01M122.7 588.2h.01M137.6 606.9h.01M123.9 615.6h.01M95 602.2h.01M169.1 579.2h.01M186.1 574.8h.01M176.3 584.4h.01M160.2 578.8h.01M170.1 593.3h.01M120.5 620.3h.01M174.8 573.7h.01M93.3 620.3h.01M94.1 600.2h.01M184.3 560.1h.01M111.4 607.7h.01M108.4 606.4h.01M178.7 567.6h.01M165.3 577h.01M113.3 591h.01M98 624.4h.01M99.4 609.6h.01M176.5 573.1h.01M106 618.6h.01M174.2 572.3h.01M147.1 607.7h.01M100.3 626.3h.01M157.5 570.2h.01M169.1 569.7h.01M71.7 626.4h.01M123.5 614.1h.01M95.1 617.8h.01M184.2 574.6h.01M180.2 565.5h.01M155.5 604.3h.01M108.3 620.8h.01M125.9 611.4h.01M140.9 617.8h.01M157.4 576h.01M140 605.9h.01M171.1 567.9h.01M84.3 623.1h.01M95.5 607.3h.01M88.5 603.9h.01M96.9 615.3h.01M80.1 629.6h.01M147.6 604h.01M138.7 615.5h.01M181.1 571.2h.01M109.4 621.3h.01M137.7 610.9h.01M92.3 608.9h.01M129.6 612.2h.01M82.3 618.9h.01M156.1 597.2h.01M112.3 627.2h.01M139.7 611.9h.01M133.5 580.7h.01M92 613.2h.01M139.3 612.5h.01M155.4 597.6h.01M111.8 622h.01M115 622.4h.01M177.6 559.9h.01M126.9 623.3h.01M120.7 624.7h.01M128.7 580.9h.01M189.7 568.5h.01M96.6 608.4h.01M181.2 577h.01M107.2 598.5h.01M107.7 628.3h.01M166.2 575.4h.01M98.1 606.3h.01M152 604.1h.01M147.3 607.7h.01M98.8 601.8h.01M160.2 578.1h.01M164 572.1h.01M165.2 575.2h.01M141.9 612.8h.01M180.7 567.5h.01M151.5 604.2h.01M159.7 575.2h.01M101.1 605.4h.01M131.6 613.9h.01M164.3 594.3h.01M96.9 609.7h.01M149.5 606.1h.01M175.3 559.7h.01M142.4 578.6h.01M79.1 620.2h.01M81.2 623.8h.01M120.1 591.6h.01M180.5 562.8h.01M74.2 626.3h.01M174.5 593.6h.01M151.9 604.8h.01M174.5 595h.01M174.1 566h.01M188.3 575h.01M105 593.8h.01M180.1 580.1h.01M120 586h.01M152.3 597.3h.01M163.6 570h.01M166.4 566.1h.01M131.2 579.3h.01M72.5 636.3h.01M124 625.1h.01M147.9 618.5h.01M181.1 558.9h.01M173.3 559h.01M161.5 565.4h.01M125 578.6h.01M120.2 579.6h.01M102.4 590.8h.01M98.5 592.6h.01M68.6 635.9h.01M67.4 632.9h.01M70.2 624.3h.01M75.5 619.8h.01M82.5 614.3h.01M84.4 605.3h.01M95.6 598.7h.01M117.1 585.5h.01M132.9 578.1h.01M158.4 566.4h.01M167.7 562.5h.01M174.7 557.5h.01M185 556.8h.01M186.9 561.2h.01M191.1 572h.01M185 578.6h.01M174.7 586.1h.01M169.4 596.3h.01M151.6 608.8h.01M143.2 620.8h.01M135.1 615h.01M113.8 630.7h.01M84.9 627.8h.01M76.1 634.7h.01" stroke="#000" stroke-width="6.6" stroke-linecap="round" fill="none"/>
</g>
<rect x="223.1" y="541.9" width="178.9" height="120.3" fill="#ebebeb"/>
<g clip-path="url(#c41)">
<path d="M250.3 541.9v120.3M293 541.9v120.3M335.6 541.9v120.3M378.3 541.9v120.3M223.1 641.4h178.9M223.1 613.2h178.9M223.1 585h178.9M223.1 556.8h178.9" stroke="#fff" stroke-width="0.8"/>
<path d="M229 541.9v120.3M271.7 541.9v120.3M314.3 541.9v120.3M356.9 541.9v120.3M399.6 541.9v120.3M223.1 655.4h178.9M223.1 627.3h178.9M223.1 599.1h178.9M223.1 570.9h178.9M223.1 542.8h178.9" stroke="#fff" stroke-width="1.5"/>
<path d="M231 633.5h.01M239.7 638.3h.01M239.7 644.2h.01M230.7 656.6h.01M256.2 641.2h.01M259.5 645.4h.01M255.9 600.8h.01M313.2 563.2h.01M358.2 554.6h.01M394 546.9h.01M387.9 568.3h.01M391.2 566.2h.01M315.3 630.8h.01M323.4 618.6h.01M373.9 584h.01M366.8 594.7h.01M307.5 606.7h.01M317 591.7h.01M320.7 598.4h.01M290.5 606.2h.01M329 588h.01M287.3 607.2h.01M335.1 578.1h.01M289.8 605h.01M289 616.6h.01M294.7 619.1h.01M313.4 592.9h.01M345.7 589.9h.01M298.9 599h.01M354.7 585.2h.01M355.3 576.6h.01M332.8 590.4h.01M277.9 621.7h.01M306 589.3h.01M273.5 612.6h.01M347.4 575.4h.01M263.1 615h.01M321.2 595.7h.01M303.1 610.3h.01M344.9 576.9h.01M341.9 590.7h.01M320 589.1h.01M298 595.8h.01M331.5 596.2h.01M350 583.1h.01M291.3 596.6h.01M300 604.2h.01M293.4 608.3h.01M289.4 608.9h.01M317.5 583.9h.01M317.1 599.6h.01M303.3 603.9h.01M296.2 623.4h.01M339.4 587h.01M315.8 602.3h.01M358.4 579.5h.01M337.1 572.2h.01M288.8 606.2h.01M289.6 610.8h.01M325.9 594.7h.01M290 601.6h.01M318.3 598.5h.01M324.3 593.7h.01M325.6 588.5h.01M325.1 603h.01M295.7 597h.01M276.2 603.9h.01M308.4 583h.01M363.8 577.2h.01M258.9 624.8h.01M352 573.9h.01M261.8 623.1h.01M281.9 606.8h.01M301.5 600.2h.01M353 578.8h.01M290 600.2h.01M337.6 573.5h.01M345.5 589.4h.01M346.4 586.6h.01M315.5 601.2h.01M327.5 586.2h.01M330.7 591.8h.01M338 586h.01M306 616.3h.01M283.4 622.8h.01M312.9 593.9h.01M310 612.6h.01M302.8 603.3h.01M278.9 601.8h.01M350.7 580.9h.01M276.8 606.8h.01M285.7 627.2h.01M288.4 615h.01M328.7 586.5h.01M300.5 595.8h.01M343.8 583.3h.01M295.2 598.1h.01M346.2 583.3h.01M334 597.4h.01M281.1 623.5h.01M294.1 622.1h.01M310 597.1h.01M270.1 624.1h.01M331 589.3h.01M298.3 590.5h.01M300.2 603.4h.01M287.7 612.7h.01M307.9 592h.01M324.5 585.1h.01M327.7 588.4h.01M334 598.1h.01M345.9 590.1h.01M320.4 603.4h.01M295.2 608.1h.01M322.3 612.7h.01M286.2 596.3h.01M315.2 605.2h.01M306.9 611h.01M307.5 597.6h.01M311 601.5h.01M287.9 605.3h.01M273.9 624.5h.01M314 588.8h.01M334.3 575.2h.01M327.1 577.3h.01M305.9 593.1h.01M330.1 592.3h.01M344.7 577.3h.01M339.2 589h.01M321.9 591h.01M350.1 563.4h.01M321.6 603.5h.01M309.5 599.4h.01M294.2 602.4h.01M325.4 597.3h.01M354.7 587.3h.01M272.2 617.3h.01M300.1 615.3h.01M332.7 593.7h.01M337.6 600.4h.01M342.8 586.5h.01M313.7 585.6h.01M283.6 614.6h.01M310.6 602h.01M330.4 596.5h.01M297.3 622.9h.01M301.9 599.5h.01M331.7 600.2h.01M311.9 598.4h.01M313.3 594.2h.01M314.6 607.9h.01M290.5 595.6h.01M308.1 604.2h.01M304.8 600.5h.01M274.5 624.5h.01M285.5 616.3h.01M343.6 582.1h.01M334 580.8h.01M312.1 593.3h.01M347.8 576.8h.01M294.9 607.1h.01M326.2 585.5h.01M281.9 614.1h.01M354.7 571.2h.01M324.6 600h.01M333.5 585.7h.01M289.3 616.3h.01M331 604.8h.01M315.9 593.5h.01M295.2 609.1h.01M282.7 619.4h.01M283.1 619.8h.01M259.4 630.2h.01M339.1 592.2h.01M340.6 579.1h.01M275.5 624.7h.01M313 603h.01M318.1 586.9h.01M345.3 573.5h.01M338.1 587.8h.01M322.8 584.5h.01M307.1 590.3h.01M309.1 607.1h.01M284.4 610.7h.01M302 613.5h.01M274.1 618.2h.01M338.2 592.7h.01M285.3 604.5h.01M335.8 581.2h.01M379.8 560.5h.01M327.5 598.5h.01M309 607.4h.01M265.7 621.1h.01M303.6 595.1h.01M344 577.8h.01M319.9 608.5h.01M319.2 580.6h.01M277.3 626.6h.01M330.3 600.9h.01M352.2 587.5h.01M347.5 565.3h.01M275 605.2h.01M339.7 592h.01M285.5 622.4h.01M347.7 577.7h.01M363.6 577.8h.01M280.5 605.5h.01M312.5 607h.01M254.6 620.9h.01M285.9 624.9h.01M281.7 620h.01M300.3 609h.01M274.4 615.1h.01M317.2 582.9h.01M275.5 619.4h.01M292.1 613.6h.01M334.4 597.2h.01M310.8 591.5h.01M282.7 596.8h.01M368.1 562h.01M296.4 610.7h.01M323.5 603.6h.01M289.7 623.1h.01M316.1 610.8h.01M327.8 603.1h.01M338.6 576.1h.01M340.9 580.6h.01M307.4 587.4h.01M294.7 593.4h.01M344.9 576.4h.01M301.5 618.7h.01M306.4 585.5h.01M355.9 582.5h.01M301.6 592.4h.01M276.4 618.3h.01M342.8 594.3h.01M335.5 599.5h.01M295.8 620h.01M279.5 617.4h.01M312.4 584.8h.01M288.2 621.4h.01M332.5 581h.01M330.7 578.4h.01M373.8 563.1h.01M256.6 628.3h.01M372.5 573.6h.01M360.3 585.7h.01M344.2 591.1h.01M366.9 574.6h.01M263.3 624.9h.01M343.4 594.7h.01M348.3 593.3h.01M259 623.3h.01M290.8 622.9h.01M312.4 612.7h.01M285.7 600.3h.01M350.9 593.3h.01M347.4 574.5h.01M293.7 620.3h.01M338 600.4h.01M309.8 588.4h.01M344.2 576.3h.01M261.1 620.4h.01M341.7 596.1h.01M301.4 588.1h.01M273.5 607.9h.01M293.2 622.5h.01M311.5 615.2h.01M256.8 619.8h.01M298.9 615.2h.01M267.6 627.7h.01M255.1 623.7h.01M286.4 595.1h.01M321.6 608.8h.01M342.6 571.8h.01M261.2 615.6h.01M323 576.6h.01M332.3 603.8h.01M259 630.9h.01M346.6 591.5h.01M355.5 567.7h.01M312.2 582h.01M358.8 586.3h.01M284 601.3h.01M328.7 584.4h.01M275.9 615.3h.01M353.1 588h.01M305 587.7h.01M328.7 606.3h.01M293.6 616.8h.01M303.9 617.3h.01M269 623.3h.01M347.6 591.5h.01M361.7 576.1h.01M307.9 614.6h.01M370 572.1h.01M323.6 611.6h.01M323.6 604.9h.01M372.1 565.2h.01M278.6 611.9h.01M337.5 598.5h.01M357.9 578h.01M341.1 597.9h.01M359 579.3h.01M321.7 580.4h.01M328.1 582.3h.01M373.7 570h.01M340.2 599.8h.01M272.5 617.6h.01M335.9 573.5h.01M316.7 582.4h.01M370.7 571.2h.01M297.1 614.2h.01M353.2 572.7h.01M347.3 565.4h.01M331.5 573.7h.01M349.9 573.8h.01M263.4 618.3h.01M344.5 593.7h.01M325.2 576.7h.01M323.8 605.1h.01M286.5 625h.01M325.8 582.9h.01M275.9 603.2h.01M326.7 577.1h.01M372.5 566.6h.01M275.9 625.6h.01M273 622.4h.01M326.1 605.2h.01M318.9 615.3h.01M265.8 619.8h.01M286.5 626.8h.01M369.8 582.7h.01M319.3 615.6h.01M281.3 624.7h.01M367.7 578.2h.01M298.5 621.6h.01M343.5 571.7h.01M373.4 559.3h.01M336.9 600.5h.01M276.6 626.1h.01M375 572.8h.01M364.7 584.4h.01M359.3 567.5h.01M293.4 623.1h.01M361.6 580h.01M258.3 626.1h.01M365.8 575h.01M351.2 592.8h.01M317.3 579.9h.01M253.1 619.7h.01M369 575.3h.01M308.1 616.7h.01M318.3 613.3h.01M357.4 573.1h.01M351.6 569.3h.01M366.3 587.7h.01M364 581h.01M279.8 626.7h.01M308 619.8h.01M271 612.6h.01M269.3 617.6h.01M291 623.6h.01M351 568.1h.01M272.5 625.3h.01M318.7 579.5h.01M282.1 626.8h.01M270.2 613h.01M345.8 595.8h.01M373.9 569.5h.01M341.6 572.2h.01M358.3 588.3h.01M248.9 628.4h.01M354.8 588.1h.01M301.8 619.5h.01M271.8 632.5h.01M347.4 571.8h.01M281.4 627.8h.01M353.2 590.5h.01M328 607.8h.01M366.6 571h.01M357.2 589h.01M304.2 621.9h.01M324.7 611.7h.01M347.8 566.3h.01M357.1 572.5h.01M252.5 629h.01M308.8 616.9h.01M315.6 611.6h.01M293.2 623.6h.01M313 612.7h.01M372 574.9h.01M281.7 600h.01M297.5 590.7h.01M261.1 630.7h.01M363.6 587.3h.01M375.3 561.1h.01M376 573.1h.01M364.4 572h.01M308.4 621.6h.01M329.8 572.6h.01M265.8 629.8h.01M348.2 593.8h.01M269.3 611.9h.01M275.3 629.4h.01M345.3 597.6h.01M371.1 578.1h.01M377.3 562.3h.01M362.2 567.1h.01M343.1 568h.01M278.3 599h.01M247.8 633.8h.01M250.5 620.5h.01M275.7 598.7h.01M282.6 594.6h.01M292.3 592.9h.01M303.6 586.1h.01M316.5 578h.01M331.1 570.5h.01M343.3 563.3h.01M372.4 557.3h.01M380.2 558.2h.01M378.4 575.1h.01M372 583.8h.01M366.1 592.3h.01M346 599.7h.01M322.2 616.5h.01M310.6 621.4h.01M270.4 634.2h.01M251.6 631.8h.01" stroke="#000" stroke-width="6.6" stroke-linecap="round" fill="none"/>
</g>
<rect x="410.2" y="541.9" width="178.9" height="120.3" fill="#ebebeb"/>
<g clip-path="url(#c42)">
<path d="M428.4 541.9v120.3M459.9 541.9v120.3M491.4 541.9v120.3M523 541.9v120.3M554.5 541.9v120.3M586 541.9v120.3M410.2 641.4h178.9M410.2 613.2h178.9M410.2 585h178.9M410.2 556.8h178.9" stroke="#fff" stroke-width="0.8"/>
<path d="M412.7 541.9v120.3M444.2 541.9v120.3M475.7 541.9v120.3M507.2 541.9v120.3M538.7 541.9v120.3M570.2 541.9v120.3M410.2 655.4h178.9M410.2 627.3h178.9M410.2 599.1h178.9M410.2 570.9h178.9M410.2 542.8h178.9" stroke="#fff" stroke-width="1.5"/>
<path d="M417.7 656.6h.01M438.3 598.3h.01M443.2 605.4h.01M458.9 567.3h.01M486.1 560.1h.01M514.7 554.6h.01M563.3 546.9h.01M550 555.4h.01M565.8 556.3h.01M569.9 559.6h.01M581.3 555.8h.01M561.7 610.4h.01M452.3 637.6h.01M453.5 644.2h.01M493.6 636.6h.01M493.9 645.4h.01M513 641.6h.01M573.9 578.5h.01M519.6 605.1h.01M503.4 585.7h.01M523.6 597.3h.01M548.1 600.1h.01M500.9 592.7h.01M500.9 613.4h.01M549.6 588.9h.01M526.8 594.3h.01M494.4 586.4h.01M520.8 588.9h.01M494.6 601.8h.01M494.5 590.1h.01M513 577.2h.01M456.2 602.3h.01M460.9 609.2h.01M491.8 621.6h.01M479.8 620.8h.01M514.9 601.1h.01M482.5 613.4h.01M469.2 610.2h.01M546.6 589.2h.01M501.1 592.7h.01M508.7 599.3h.01M468.8 600.4h.01M492.3 601h.01M509.8 626.7h.01M476.2 619.8h.01M516.4 598.5h.01M490.8 620.3h.01M499.3 592.1h.01M490.7 580.5h.01M557.1 569.8h.01M506.6 601.7h.01M478.6 584.1h.01M528.4 591.8h.01M474.4 611.2h.01M512.2 606.1h.01M455.1 615.6h.01M471.5 612.7h.01M511.9 595.2h.01M526 592.1h.01M511.3 597.6h.01M504 593.4h.01M499.1 583.8h.01M467.4 594.3h.01M487.5 624.9h.01M535.3 578.7h.01M515.6 616.7h.01M460 613.1h.01M515.1 613.9h.01M496.7 627.2h.01M488.7 595.2h.01M522.6 584.4h.01M534.5 600.6h.01M484.3 611.9h.01M498.9 595.1h.01M515.3 618.4h.01M532.8 590.4h.01M494.1 601.8h.01M502.2 591.8h.01M477.4 603.7h.01M475 620.6h.01M528.1 576.4h.01M543.7 592.9h.01M505.2 599.5h.01M533.7 605.8h.01M516.1 602.7h.01M489.5 615.8h.01M548.5 564.6h.01M506.1 619.2h.01M528.4 596.7h.01M509.2 607.7h.01M499.1 586h.01M509.3 606.7h.01M501.3 590.6h.01M516 603.4h.01M493 610.7h.01M485.1 593.2h.01M493.5 597.5h.01M531.1 574.3h.01M515.2 574.2h.01M492.7 601.4h.01M520 606.2h.01M509.4 591.8h.01M532.6 602.3h.01M498.3 598.7h.01M496.6 606.2h.01M467.8 604.9h.01M514.4 616.7h.01M513.5 611.2h.01M507.1 581.6h.01M500.9 609.6h.01M469.1 623h.01M495.8 593.8h.01M497.9 584.1h.01M485.3 593.5h.01M517.2 607h.01M511.3 576h.01M513.4 601.6h.01M505.1 602.6h.01M506.3 591.2h.01M508.5 592h.01M502 609.1h.01M514.5 583.8h.01M506.1 598.1h.01M475.7 601.9h.01M537.8 569.7h.01M526.4 587.2h.01M527.5 586.5h.01M482.5 589.2h.01M544.9 595.4h.01M469.4 619.9h.01M521.9 610.2h.01M491.7 618.6h.01M509.5 601.2h.01M493.5 605.6h.01M465.5 603.7h.01M508.7 586.9h.01M478.5 593.1h.01M519 604h.01M482.2 606.6h.01M548.8 585.5h.01M485.8 607h.01M498.5 577.5h.01M528.1 587h.01M474.1 595.8h.01M512.7 588.1h.01M542.4 573.8h.01M464 605.9h.01M511.6 616.7h.01M513.5 591.6h.01M527.2 603.1h.01M473.9 614.3h.01M471.7 598.4h.01M520.2 577.6h.01M514.4 596.6h.01M513.2 593h.01M515.7 572.1h.01M488.6 599.4h.01M514.3 589.1h.01M487.7 628.5h.01M557.5 576.3h.01M519 590.6h.01M475.1 587.9h.01M523.8 585.4h.01M480.8 606.6h.01M527.4 611.6h.01M538.2 594.7h.01M484.8 616.4h.01M532.5 601h.01M517.4 588.1h.01M528.4 569.6h.01M558.4 581.5h.01M500.6 617.9h.01M486.6 597h.01M483 587.4h.01M484.9 612.8h.01M505 601h.01M515.5 596.5h.01M528.5 584.7h.01M546.3 584.1h.01M500.1 613.4h.01M483.9 609.4h.01M478.3 580.6h.01M519.2 601.4h.01M501.2 596.9h.01M525.4 581h.01M519 616.6h.01M505.1 624.9h.01M484.1 626.2h.01M466.4 590.2h.01M495 609.4h.01M473.7 603.6h.01M511.3 575.4h.01M516.7 567.5h.01M510.8 580.5h.01M508.4 584h.01M476.4 597.3h.01M516 585.7h.01M521.3 603h.01M536 603.6h.01M535.2 592.5h.01M470.1 609.7h.01M481.7 611.2h.01M520 585.9h.01M520 582h.01M520 594.4h.01M521.5 611.8h.01M537.6 594.7h.01M532.2 603h.01M523.7 622.1h.01M498.7 601.7h.01M486.1 581.9h.01M494 616.9h.01M509 571.6h.01M457.3 601.7h.01M524.6 597.8h.01M463.8 623h.01M536.2 576.3h.01M508.6 571.2h.01M478.1 583.5h.01M487.6 610.2h.01M524.4 610.7h.01M487.2 601.1h.01M512.4 623.3h.01M508.1 594h.01M489.4 604.7h.01M523.2 618.2h.01M453.5 603.7h.01M489.1 620.1h.01M485.6 603.8h.01M504.1 573.9h.01M519.8 571.7h.01M529.6 599.9h.01M474.9 615.2h.01M494.2 616.4h.01M554.6 576.8h.01M517.2 578.6h.01M473.3 607.8h.01M531.1 596.1h.01M466.3 611.5h.01M494 596.5h.01M541.3 577.7h.01M482 604.6h.01M505.5 609.9h.01M479.5 592.6h.01M500.4 590h.01M551 588h.01M468.7 600h.01M495.2 624.3h.01M546 578.4h.01M468.5 625.9h.01M538.4 587.7h.01M507.2 618.7h.01M480.6 598.1h.01M518.7 596.5h.01M512 621.2h.01M490.8 586h.01M508.7 608.8h.01M496.7 613h.01M524 578.1h.01M549.7 603.4h.01M473.9 605.3h.01M565.1 579.4h.01M455.2 600.7h.01M522 600.3h.01M514 608.9h.01M501.6 615.8h.01M491.1 596.2h.01M529.2 580.6h.01M488.2 618h.01M530.6 584.6h.01M514.7 567.2h.01M523.1 605.1h.01M491.9 582.7h.01M526.3 603.2h.01M522.6 606.3h.01M506.5 605.6h.01M509.9 611.9h.01M541.6 589.4h.01M491 579h.01M520.9 591h.01M501.8 603.4h.01M501.3 604.1h.01M536.5 614.8h.01M542.3 593.5h.01M503.6 583.3h.01M522.2 616.2h.01M484.9 590.8h.01M474.5 591h.01M538.2 598h.01M527.5 575.4h.01M482.8 616.9h.01M488.7 588.4h.01M532.8 597.5h.01M484.7 618h.01M484.8 603.3h.01M493.4 595.5h.01M494.4 617.4h.01M468.2 610.4h.01M469.3 593.4h.01M487.6 586.5h.01M546.9 585.3h.01M480.1 609.1h.01M499.4 581.7h.01M515.1 611.4h.01M520.2 576.5h.01M548.4 591.2h.01M504.2 629.8h.01M524.7 575.8h.01M546.2 595.5h.01M532.4 605.9h.01M529.8 575.8h.01M566.5 570.9h.01M484.3 598.1h.01M486.5 620.9h.01M557.8 584.6h.01M532.1 589.1h.01M491.4 605.8h.01M482.8 595.9h.01M538.8 589.9h.01M494.4 573.7h.01M461.2 624.1h.01M543.6 600h.01M540.5 588.8h.01M464.3 603.3h.01M490.8 595.5h.01M503.3 572.3h.01M520 609.6h.01M476.9 607.3h.01M541.6 578.6h.01M548.8 584.7h.01M538.8 581.4h.01M563.1 578.6h.01M554.3 591.9h.01M532.7 584.2h.01M523.5 608.1h.01M544 574.7h.01M481 612.6h.01M535.3 587.3h.01M453.1 616.8h.01M547.6 577.9h.01M508.8 622h.01M550.9 603.7h.01M470 623.1h.01M461.5 595.7h.01M505.6 574.5h.01M504.7 582.8h.01M472.1 620.6h.01M516.2 582.7h.01M478.6 591.1h.01M532.2 583.4h.01M480.5 614.6h.01M519.8 622.5h.01M492.7 594.8h.01M485.6 584.2h.01M492.1 578.9h.01M475 587.6h.01M512.3 621h.01M501.3 612.4h.01M491.5 594.5h.01M466.4 617.5h.01M544 587.9h.01M551.3 599.2h.01M500.5 619.7h.01M537.1 601.6h.01M503.7 620.2h.01M464 630.1h.01M468.9 628.5h.01M478 616.6h.01M552.4 584.1h.01M479.2 609.7h.01M502.1 611.5h.01M531.4 565.7h.01M558.8 588.2h.01M469.5 618h.01M489.4 628.7h.01M493.9 624.9h.01M500.8 576.9h.01M526.5 606.7h.01M519.7 626.8h.01M526.4 608.2h.01M462.4 611h.01M458.9 603.3h.01M463.4 624.8h.01M508.2 578.1h.01M482.6 603.9h.01M489.4 611.7h.01M483.8 621h.01M501.7 612.7h.01M503 574.1h.01M538.5 608.6h.01M493.9 581.9h.01M516.9 592.4h.01M563.5 574.3h.01M498.4 626.2h.01M539.5 572.6h.01M453.2 596.5h.01M479.9 589.1h.01M507.4 614.9h.01M552.2 591.7h.01M537.8 603.1h.01M495.9 578h.01M523.2 612.8h.01M480.7 582h.01M529.7 576.4h.01M543.7 585.4h.01M557.8 580.8h.01M473.7 623.1h.01M459.6 627.1h.01M523.7 569.8h.01M505.6 567h.01M548.3 582.4h.01M462.7 630.4h.01M472.5 591.3h.01M552 594.2h.01M466.7 613.2h.01M537.3 573.6h.01M477.4 615.3h.01M573.7 591.7h.01M507.3 629.3h.01M492.3 593h.01M540.7 582.8h.01M554.2 574.3h.01M476.8 625.8h.01M538.3 580.8h.01M554.3 599.6h.01M452.1 601.9h.01M552.7 574.8h.01M461.3 605.1h.01M470.9 587.8h.01M526.2 613.2h.01M461.5 601.8h.01M551.9 589.1h.01M534 618.4h.01M458 620.6h.01M481.4 624.4h.01M491.5 590.3h.01M554.7 590h.01M555.9 574.2h.01M464.9 613.2h.01M487.3 594.5h.01M536 609.6h.01M472.9 623.5h.01M495.4 619h.01M498.9 576.9h.01M541 595.8h.01M534.5 581.9h.01M530.3 607.4h.01M545.1 578.7h.01M549.6 605.8h.01M482.2 603.9h.01M533.1 610.6h.01M501.4 621.7h.01M514.2 620.5h.01M492.7 625.9h.01M492 578.2h.01M545.4 608h.01M548.7 582.2h.01M555.4 571.3h.01M490.4 579.8h.01M496.7 616.1h.01M561.7 579.7h.01M506.6 569.7h.01M534.9 572.5h.01M524.5 626.6h.01M536.8 583.7h.01M528.3 617.1h.01M538.5 611.3h.01M539.6 600.4h.01M541.6 609.4h.01M470.6 586.1h.01M498.9 619.1h.01M549.5 595.6h.01M495 571.3h.01M466.2 589.4h.01M557.9 575.7h.01M518.1 613.7h.01M479.6 604.6h.01M466.1 621.6h.01M473.5 627.5h.01M545.9 572.7h.01M555.6 583.3h.01M464.6 598.9h.01M527.3 619.2h.01M547.6 578.1h.01M507.7 578.1h.01M512.2 572.4h.01M453.1 597.3h.01M555.5 581.8h.01M511.9 571.7h.01M563.5 582.9h.01M553.8 578.4h.01M553.5 588.5h.01M464.8 621.4h.01M538 613.9h.01M460.6 593.6h.01M477 583.9h.01M538.3 616.6h.01M465.3 613.8h.01M495.6 621h.01M563.6 587h.01M505.2 626h.01M536.8 567.8h.01M535.1 611.5h.01M499.2 575.4h.01M544.2 570.4h.01M533.9 571.1h.01M544.5 601.1h.01M461.8 612.7h.01M504.5 578.4h.01M480.4 624.5h.01M544.7 565.4h.01M464.9 619.9h.01M481 632h.01M552.2 574.3h.01M528.7 621.1h.01M540.2 603.5h.01M498.9 575.3h.01M542.3 618.4h.01M546.4 621.4h.01M556.7 595.3h.01M565.5 587.4h.01M568.6 567.4h.01M554.1 564.2h.01M490.4 573.4h.01M464 587.8h.01M449.1 594.1h.01M450.8 597.2h.01M453.2 610h.01M448.6 596.1h.01M449.7 590.7h.01M458.6 594.2h.01M465.2 584.5h.01M473.7 582.1h.01M479.7 578.8h.01M495.5 566.5h.01M502.1 565.8h.01M509.1 563.5h.01M525.5 566.5h.01M533.3 563.7h.01M557.9 567.9h.01M571 567.4h.01M565.6 575.6h.01M569.5 578.7h.01M567.8 589h.01M558.3 598.2h.01M545.3 613.2h.01M547.9 618.5h.01M549.8 620.4h.01M519.9 629.1h.01M479.4 636h.01M475.3 628.9h.01M459.1 631.1h.01M452.9 619h.01M449.2 616.7h.01M453.3 613.1h.01M441.1 620.7h.01" stroke="#000" stroke-width="6.6" stroke-linecap="round" fill="none"/>
</g>
<rect x="597.2" y="541.9" width="178.9" height="120.3" fill="#ebebeb"/>
<g clip-path="url(#c43)">
<path d="M609.6 541.9v120.3M640.9 541.9v120.3M672.2 541.9v120.3M703.4 541.9v120.3M734.7 541.9v120.3M766 541.9v120.3M597.2 641.4h178.9M597.2 613.2h178.9M597.2 585h178.9M597.2 556.8h178.9" stroke="#fff" stroke-width="0.8"/>
<path d="M625.3 541.9v120.3M656.5 541.9v120.3M687.8 541.9v120.3M719.1 541.9v120.3M750.3 541.9v120.3M597.2 655.4h178.9M597.2 627.3h178.9M597.2 599.1h178.9M597.2 570.9h178.9M597.2 542.8h178.9" stroke="#fff" stroke-width="1.5"/>
<path d="M604.7 608.2h.01M609.6 601.3h.01M611.6 587.3h.01M607.1 620.3h.01M613.7 629.4h.01M635.7 656.6h.01M660.4 641.7h.01M674.8 645.4h.01M675.9 637.1h.01M689.3 638.3h.01M691.6 644.2h.01M718.8 636.8h.01M724.3 622.3h.01M726.8 623.9h.01M755.1 609.4h.01M754.8 555.4h.01M745.4 561.2h.01M709.9 546.9h.01M712.7 555.4h.01M701.7 560.1h.01M653 554.6h.01M652.2 561.6h.01M641.5 563.2h.01M636.5 576.9h.01M694.4 603.4h.01M660 603h.01M674.8 603.6h.01M670.2 600.7h.01M710.9 589.2h.01M673.7 597.6h.01M701 597.5h.01M725.9 605.3h.01M673 605.5h.01M675.7 623.3h.01M699.9 581.4h.01M636.5 603.5h.01M661.3 576.8h.01M700.8 582.8h.01M682.8 595h.01M749.1 578.7h.01M667.9 583.1h.01M656.1 610.6h.01M660.6 599h.01M687.2 599.3h.01M681.6 597h.01M755.6 583.9h.01M674.2 596.2h.01M688.4 584.9h.01M711.7 568.2h.01M683.3 603.4h.01M702.5 609.6h.01M698.2 602.8h.01M710.3 581.1h.01M644.9 607.2h.01M709.4 614.9h.01M682.3 592.8h.01M692.4 602.6h.01M674.5 607h.01M741.4 593.5h.01M732 595.6h.01M666.3 593h.01M710 594.6h.01M756.3 574.1h.01M668.6 587.9h.01M668.9 607h.01M666.9 610.6h.01M713 572.8h.01M648.4 588.3h.01M715.8 603h.01M677.5 593.2h.01M655.5 600.2h.01M655.2 604.9h.01M663.1 591h.01M642.4 600.2h.01M701.4 612.7h.01M710.7 616.5h.01M714.1 578.8h.01M667.7 610.2h.01M695.9 587.9h.01M686.9 594.7h.01M699.6 601h.01M689.5 590h.01M631 597.2h.01M681.4 600.9h.01M690.2 594.9h.01M665.9 607.7h.01M678.1 604.3h.01M648.4 606.4h.01M676.5 592.9h.01M701.2 581.4h.01M657.1 590.8h.01M686 591.7h.01M658.6 590.3h.01M683.8 612.8h.01M679.6 615.9h.01M710.2 596h.01M714.6 604.9h.01M691.7 602.5h.01M722.5 568.5h.01M692.2 585h.01M736.6 585.8h.01M667.9 631.1h.01M654.9 612h.01M685.3 589.3h.01M702.9 586.9h.01M672.3 606.9h.01M695.3 612.2h.01M658.1 578.2h.01M679.6 606.5h.01M689.7 570.3h.01M680.7 589h.01M739.2 587.4h.01M703.3 586.4h.01M692.9 580.4h.01M631.1 598.4h.01M697.8 623.8h.01M724.7 576h.01M680.4 597.3h.01M650.1 615.1h.01M690 605.1h.01M683.4 607.4h.01M673 593.9h.01M716.1 600.5h.01M684.4 622.1h.01M703.6 607.8h.01M681 610.4h.01M683.9 613.6h.01M662.3 612h.01M706.9 596.1h.01M626.9 592.4h.01M668.9 619.2h.01M744.8 590.1h.01M672.7 588h.01M735.6 597.6h.01M719 576.4h.01M687.7 619.1h.01M689.4 603.8h.01M692.3 596.2h.01M704.4 583.8h.01M668.1 623.7h.01M661.3 611h.01M702 590.9h.01M671 611.2h.01M715.1 602.3h.01M725.7 569.5h.01M692.1 579.9h.01M686.3 616.6h.01M686.1 574.6h.01M647.3 615.6h.01M656.6 578h.01M730.5 606.5h.01M653.3 605.5h.01M646.1 607.4h.01M678 611.1h.01M678.7 614.1h.01M671 605h.01M703.2 602.3h.01M653.6 615.4h.01M707.9 569.1h.01M669.8 596.8h.01M690.1 584.1h.01M717 607.1h.01M715.9 571.7h.01M724.5 579.2h.01M675.7 601h.01M696.5 588.9h.01M721.8 590.2h.01M666.7 576.9h.01M640.9 596.8h.01M701.1 606.2h.01M690.9 601.3h.01M713.2 594.9h.01M674.7 583.1h.01M717.3 576.2h.01M715.3 581.1h.01M641.3 595.6h.01M690.7 591.3h.01M709.9 580.7h.01M751.1 576.2h.01M656.6 603.6h.01M684.6 627.4h.01M686 624.6h.01M693 619.9h.01M650.8 605.4h.01M700.2 590h.01M698 589.9h.01M665.7 625.8h.01M683.6 567h.01M664.4 586.5h.01M673.4 590.8h.01M696.9 572.1h.01M693.8 604.8h.01M692.6 583.2h.01M731.7 587.4h.01M698.6 598.5h.01M691.7 615.9h.01M642 592.9h.01M647.9 608.6h.01M712.4 584.8h.01M705 599.5h.01M660.6 604.2h.01M690.5 587.8h.01M626.9 600.6h.01M707.1 601.8h.01M626.7 616.3h.01M696.7 597.5h.01M685.3 608.8h.01M695.4 605.1h.01M667.1 598.2h.01M742.4 597.6h.01M704.6 609.1h.01M711.8 588.3h.01M727.7 600h.01M732.1 574.1h.01M696.5 585.8h.01M691.8 594.4h.01M701.7 608.8h.01M684.4 623.5h.01M701 595.4h.01M698.4 575.5h.01M659.8 591.4h.01M713.8 607.5h.01M708.1 590.9h.01M649.8 598.8h.01M651.1 594h.01M699.3 617.6h.01M670.5 585.9h.01M678 590.7h.01M653.7 606.4h.01M709.9 574.4h.01M630.1 596.7h.01M697.2 578.6h.01M704 593.7h.01M650.9 591.8h.01M673.8 627h.01M664.5 575.2h.01M652.4 590.9h.01M633.8 596.2h.01M722.2 576.9h.01M708.3 596.7h.01M660.2 591.4h.01M683.1 617.3h.01M634.3 620.8h.01M746.4 586.4h.01M698.1 612.9h.01M657.6 607.8h.01M661.1 620.8h.01M675.6 610.9h.01M666.3 591.5h.01M671.9 612.5h.01M656.9 619h.01M656.1 591.3h.01M702.1 570.9h.01M641.8 626.4h.01M672 622.3h.01M712.5 597.9h.01M691.6 627.1h.01M711.2 591.5h.01M718.4 584.4h.01M695.3 598h.01M677.7 587.7h.01M696.5 589.1h.01M734.6 605.5h.01M680.2 576.2h.01M693.2 612.7h.01M625.8 608.6h.01M661.8 594.8h.01M672.1 580.2h.01M708.7 601.5h.01M717.9 608.9h.01M665.6 576h.01M717.4 583.6h.01M670.2 619.5h.01M646.5 615h.01M636.7 597.7h.01M729.8 576.7h.01M712.1 568.9h.01M676.6 619.1h.01M706.2 611h.01M628.3 617.4h.01M716.2 583.9h.01M670.9 630h.01M656.2 617h.01M646.5 606.1h.01M687.4 612.3h.01M672.8 580.7h.01M727.4 608.1h.01M726.1 598.4h.01M755.4 588.7h.01M669.8 588.3h.01M703.5 606.9h.01M714.7 602h.01M645.1 598h.01M689.5 582h.01M656.6 595.4h.01M686.8 581.1h.01M723.6 593.4h.01M697.9 592.7h.01M697 573.2h.01M700.5 570.5h.01M670.2 604.3h.01M628.7 618.2h.01M728.6 587.7h.01M678.6 623.7h.01M725.7 580.8h.01M664.2 605.7h.01M685.3 572.5h.01M662.9 621h.01M667.4 600.7h.01M736.2 571.2h.01M630.1 604.2h.01M668.3 578.6h.01M641.6 603.5h.01M676.9 616.7h.01M712.4 584.9h.01M702.4 615h.01M670.4 614.4h.01M695.4 606.9h.01M654.9 582.8h.01M747 586.4h.01M717.2 589.6h.01M655.5 619.2h.01M662.6 595.7h.01M705.3 586.5h.01M709.2 608.2h.01M662.8 619h.01M662 590.1h.01M715.6 596.6h.01M642.4 589.1h.01M733.9 582.3h.01M661.6 581.5h.01M658.7 582.6h.01M693.3 613.9h.01M686.6 587.6h.01M691.7 624.4h.01M708.2 582.8h.01M653.9 616.7h.01M717.8 595.9h.01M670.7 595h.01M716.1 601.5h.01M707.8 588.4h.01M655.1 602.1h.01M701.4 615.9h.01M712.1 564.9h.01M657.8 613.9h.01M747.9 586h.01M688 584.1h.01M708.5 615.3h.01M715 594.6h.01M682.5 573.3h.01M673.6 613.3h.01M745.2 582.6h.01M699.1 610h.01M671.3 631.6h.01M697.6 617h.01M733.8 577.8h.01M750.3 589.9h.01M685 608.7h.01M632 595.7h.01M720.1 607h.01M729.7 574.2h.01M662.4 588.5h.01M696.4 577.9h.01M670.3 615.8h.01M634.3 607.4h.01M662 607.1h.01M691.6 573h.01M728.1 588.6h.01M647.9 603.1h.01M663.9 624.1h.01M657.6 622.3h.01M692 607.6h.01M731.5 604h.01M687.5 584.8h.01M680.6 618.1h.01M725.6 584.9h.01M757.3 570.1h.01M629.1 610.6h.01M649.8 577.5h.01M697.8 579.9h.01M647.1 609.9h.01M740.7 606.5h.01M670 590.5h.01M743.1 586.5h.01M737.2 595.7h.01M654.7 587.5h.01M660.5 600h.01M638.3 619.6h.01M650.5 592.6h.01M744.8 600.4h.01M675.3 614.4h.01M668.7 615.4h.01M691.5 592.5h.01M709.3 579.1h.01M718.7 603.3h.01M708 571.9h.01M749.7 589.7h.01M733.4 583.5h.01M670.1 627.9h.01M650.8 582.8h.01M667 604.4h.01M703.2 623.8h.01M653.5 594.2h.01M678.9 587.2h.01M668.3 616.6h.01M648.5 587.1h.01M648 593h.01M654 600.7h.01M657.3 618.2h.01M747.4 578.3h.01M710.9 611.9h.01M638.5 619.6h.01M725.8 598.6h.01M705.4 577.8h.01M683.1 620.7h.01M654.1 622.1h.01M739.9 594.1h.01M742 598.3h.01M707.2 607.2h.01M690.7 622.8h.01M729.5 579.9h.01M649.1 580.5h.01M723.4 594.7h.01M736.5 595.7h.01M717.8 592.6h.01M694.3 576.5h.01M657.8 615.6h.01M638.4 599.8h.01M720.7 603.4h.01M642 593.6h.01M735.6 590.4h.01M635.8 600.7h.01M718.9 599.7h.01M676.4 624.6h.01M685.8 603.4h.01M693.1 575.3h.01M686.6 580.2h.01M679.4 584.2h.01M746.3 605.6h.01M650.5 615.1h.01M701.5 579h.01M715.6 588h.01M637.3 610.1h.01M654.7 611.8h.01M662.5 596.9h.01M660.2 582.5h.01M739.6 578.8h.01M692.2 624.2h.01M678.3 575.8h.01M629.9 617h.01M676.2 581.7h.01M646.3 617h.01M749.5 573.4h.01M718.6 578.4h.01M668.2 616.2h.01M656.1 624.8h.01M685 569.9h.01M667.2 603.8h.01M732.3 570.4h.01M687.3 584.6h.01M720.3 587.7h.01M752.8 592.9h.01M663.3 624h.01M661 589.3h.01M728 599.6h.01M632.2 608.1h.01M663 602.5h.01M678.3 579.5h.01M691.3 611h.01M626.8 604.9h.01M651.5 613h.01M658.5 587.4h.01M634.1 609.3h.01M751.8 592.2h.01M681.5 581h.01M662.2 617.8h.01M647.6 620.9h.01M643.2 618.9h.01M688.8 608.8h.01M709.3 603.1h.01M638.1 624.8h.01M717.9 610.9h.01M630.2 615.1h.01M663.9 573.2h.01M705.4 615.7h.01M674 615h.01M746.3 592.8h.01M640.3 592.7h.01M745.1 594.3h.01M738.9 592.4h.01M718.6 582.1h.01M626.3 613.5h.01M686.7 584.3h.01M648.3 607.9h.01M649 590.5h.01M745.9 579.8h.01M685.6 587.2h.01M725.2 595.7h.01M682.6 623.7h.01M724.1 583.2h.01M631.1 626.7h.01M647.5 620.4h.01M639.7 590.8h.01M740.1 607.3h.01M625.1 614.8h.01M651.1 617h.01M721.7 574.2h.01M750.6 593.2h.01M645.3 588.4h.01M741.2 583.9h.01M706.6 622.7h.01M730.8 601.6h.01M673.5 627.7h.01M733.6 598.1h.01M737 571h.01M654.5 574.6h.01M685.2 575.6h.01M692.4 574.4h.01M655.3 609.5h.01M652.2 608.4h.01M627.4 628.4h.01M734.6 580.7h.01M749.8 588.7h.01M744.6 578h.01M708 572.6h.01M757.4 589.9h.01M691.1 626.3h.01M644.5 606.2h.01M662.2 624.8h.01M663.3 573.9h.01M703.1 615.6h.01M724.1 590.4h.01M673.7 575.3h.01M729.4 582.4h.01M749.4 587.3h.01M645.2 612.7h.01M703.1 622.4h.01M724.6 606.3h.01M712.6 612h.01M635.3 595.4h.01M700.5 572.7h.01M682.9 587.6h.01M757.7 583.3h.01M750.2 581h.01M700.4 577.5h.01M741.8 603.8h.01M667.3 579.5h.01M664.3 612.4h.01M734.9 602.2h.01M727 592.8h.01M733.7 569h.01M735.7 603.8h.01M690 576.6h.01M747.8 594.2h.01M638.9 615h.01M701.8 617.1h.01M685.7 585h.01M694.6 571.3h.01M665.9 574.1h.01M699.1 619.6h.01M722.5 604.8h.01M654 624.2h.01M740.6 575.7h.01M701.7 574.8h.01M675.8 576.3h.01M709.9 567.2h.01M704.8 576.2h.01M641.5 607h.01M756.9 583.4h.01M641.5 622.6h.01M655.5 627.2h.01M696.1 623.5h.01M631.7 613.1h.01M643.1 621.3h.01M655.2 576.7h.01M738.6 598h.01M719.8 600.1h.01M658.5 623.8h.01M647.2 621.2h.01M635.7 619.8h.01M654.2 576.7h.01M694.2 571.3h.01M621.5 616h.01M628.1 624.8h.01M648.8 624h.01M657.9 630.9h.01M662.1 629.7h.01M732.7 611.9h.01M735.2 610.6h.01M760.1 586.8h.01M758.8 575.6h.01M765.9 568.1h.01M760.3 566.7h.01M746.4 573.4h.01M741.3 570.5h.01M720.6 567h.01M668 573.9h.01M660.1 572.4h.01M648.3 571h.01M641.7 577.9h.01M645.5 580.5h.01M633.3 589.2h.01M628 588.5h.01M619.5 615h.01M620.4 589.5h.01M622.2 586.6h.01M630.6 588h.01M645.1 583.4h.01M646.5 575.8h.01M683.7 564.3h.01M705.5 566.4h.01M728.1 568.2h.01M736.3 569.1h.01M754.8 571.3h.01M755.9 594.9h.01M746.7 598.2h.01M743.7 608.8h.01M724.3 610.3h.01M710 618.4h.01M710.4 623.1h.01M702.4 628.7h.01M687.8 629.1h.01M681 627.7h.01M674.3 632.4h.01M665.8 630.9h.01M631.1 629.4h.01M626.2 632.6h.01M623.8 633h.01M624.8 628.2h.01M629.1 621.2h.01" stroke="#000" stroke-width="6.6" stroke-linecap="round" fill="none"/>
</g>
<rect x="784.3" y="541.9" width="178.9" height="120.3" fill="#ebebeb"/>
<g clip-path="url(#c44)">
<path d="M814.4 541.9v120.3M856.7 541.9v120.3M898.9 541.9v120.3M941.2 541.9v120.3M784.3 645.8h178.9M784.3 623.9h178.9M784.3 602h178.9M784.3 580.2h178.9M784.3 558.3h178.9" stroke="#fff" stroke-width="0.8"/>
<path d="M793.3 541.9v120.3M835.6 541.9v120.3M877.8 541.9v120.3M920 541.9v120.3M962.3 541.9v120.3M784.3 656.7h178.9M784.3 634.8h178.9M784.3 613h178.9M784.3 591.1h178.9M784.3 569.3h178.9M784.3 547.4h178.9" stroke="#fff" stroke-width="1.5"/>
<path d="M791.3 656.1C792.9 656.1 797.8 656.5 800.7 656.4C803.7 656.3 806.5 655.6 809 655.3C811.5 654.9 813.7 654.8 815.6 654.4C817.5 654 818.9 653.7 820.5 652.8C822.2 651.8 823.8 650.3 825.5 648.7C827.1 647 828.8 645.2 830.4 642.9C832.1 640.5 833.7 637.5 835.4 634.6C837 631.7 838.7 628.6 840.3 625.6C842 622.5 843.6 619.9 845.3 616.5C846.9 613.1 848.6 608.7 850.2 604.9C851.9 601.2 853.5 597.5 855.2 594.2C856.8 590.9 858.5 588.9 860.1 585.1C861.8 581.4 863.6 576.2 865.1 571.9C866.6 567.7 867.8 563 869.2 559.6C870.6 556.1 872.1 553.2 873.3 551.3C874.6 549.4 875.7 548.8 876.6 548C877.6 547.3 878.3 546.9 879.1 546.9C879.9 546.8 880.6 547 881.6 547.7C882.5 548.4 883.5 549.1 884.9 551.3C886.3 553.6 888.2 557.5 889.8 561.2C891.5 564.9 893.1 568.6 894.8 573.6C896.4 578.5 898.2 585.8 899.7 590.9C901.2 596 902.5 600.7 903.9 604.1C905.2 607.6 906.6 609.2 908 611.5C909.4 613.9 910.7 615.4 912.1 618.1C913.5 620.9 914.7 624.9 916.2 628C917.7 631.2 919.3 634.2 921.2 637.1C923.1 640 925.6 643.1 927.8 645.4C930 647.6 932.2 649.4 934.4 650.8C936.6 652.2 938.8 652.9 941 653.6C943.2 654.3 945.2 654.8 947.6 655.3C950 655.7 954 655.9 955.3 656.1" fill="none" stroke="#141414" stroke-width="1.7" stroke-linejoin="round"/>
</g>
<rect x="971.4" y="541.9" width="178.9" height="120.3" fill="#fff" stroke="#f0f0f0" stroke-width="1.1"/>
<g font-size="15.2" fill="#7d7d7d" text-anchor="middle"><text transform="translate(1060.9 597.1) scale(1 1.04)">Corr:</text><text transform="translate(1060.9 619) scale(1 1.04)">0.953</text></g>
<rect x="36" y="669.7" width="178.9" height="120.3" fill="#ebebeb"/>
<g clip-path="url(#c50)">
<path d="M61.2 669.7v120.3M108.5 669.7v120.3M155.7 669.7v120.3M203 669.7v120.3M36 783.5h178.9M36 747.1h178.9M36 710.7h178.9M36 674.3h178.9" stroke="#fff" stroke-width="0.8"/>
<path d="M37.6 669.7v120.3M84.8 669.7v120.3M132.1 669.7v120.3M179.3 669.7v120.3M36 765.3h178.9M36 728.9h178.9M36 692.5h178.9" stroke="#fff" stroke-width="1.5"/>
<path d="M43.7 778.3h.01M58.5 784.4h.01M55.7 764h.01M61 760.7h.01M149.3 750.8h.01M158.7 693h.01M200.9 687.1h.01M201.6 682.3h.01M207.3 674.9h.01M130.6 752.7h.01M88.7 744.8h.01M129.7 728.3h.01M115.3 744.6h.01M91.8 749.4h.01M169.4 715.8h.01M118.8 732.5h.01M111.5 744.7h.01M161 720.1h.01M97.6 742.7h.01M96.2 757.5h.01M134 728.1h.01M155.3 728.1h.01M122.2 728h.01M106 739.6h.01M173.6 711.6h.01M158.7 716.6h.01M133.9 729.4h.01M151.9 708.4h.01M120.7 722.2h.01M134.6 730.5h.01M120.3 746h.01M126.4 733.1h.01M134.3 716.9h.01M138.6 708.6h.01M123.5 729.8h.01M176.1 702.5h.01M126.7 743.9h.01M150.4 725.9h.01M161.6 719.7h.01M167.7 712.3h.01M94.9 749.8h.01M144.5 711.4h.01M152.2 713.6h.01M140.9 718.2h.01M122.6 736.7h.01M168.5 706.9h.01M115.2 735.3h.01M141.3 723.1h.01M125.4 736h.01M151.9 715.3h.01M155.1 716.9h.01M90.5 744.7h.01M85.2 750.5h.01M125 730.4h.01M121.6 733.4h.01M141.3 723.7h.01M150.2 707h.01M101.1 743.2h.01M111.2 735.7h.01M129.5 729.6h.01M91 745.6h.01M133.1 719.7h.01M145.6 717.8h.01M154 715.1h.01M131.9 721.1h.01M126.3 725.1h.01M138.4 717.6h.01M132.9 731.7h.01M131.4 739.5h.01M152 714.1h.01M107.4 743.4h.01M162 714.7h.01M131.6 728.7h.01M125.1 739.2h.01M108.7 749h.01M123.7 742.2h.01M136.7 724h.01M137.6 733h.01M150.9 727.3h.01M144.7 719.4h.01M170.8 703.8h.01M116.2 739h.01M183.5 695.3h.01M161.4 703.6h.01M153.7 726.6h.01M87.8 740.9h.01M165.1 716.1h.01M66.5 769h.01M129.7 714.4h.01M125.5 724.9h.01M140.5 714.4h.01M129.1 737h.01M115 742.1h.01M134.3 714h.01M113 730h.01M151.5 714.6h.01M174.1 712.4h.01M171.9 693.3h.01M96.9 744.3h.01M108.8 743.8h.01M130.7 721h.01M155.4 718.8h.01M117.3 739.7h.01M124 739.7h.01M131.8 724.9h.01M119.9 731.8h.01M127.4 739.4h.01M126.2 719.3h.01M125.5 720.6h.01M138.9 714.2h.01M112 735.6h.01M64.9 769.9h.01M117.5 735.7h.01M154.7 725.8h.01M97.6 751.3h.01M136.1 742h.01M154.9 723.4h.01M83.7 756.4h.01M87.9 741.4h.01M103.1 757.1h.01M101.4 745.3h.01M178.2 702.5h.01M102.8 738.2h.01M155.5 730.1h.01M151 712.8h.01M139.5 721.4h.01M111.5 736.6h.01M117.3 740.8h.01M107.6 733.4h.01M129.8 739.6h.01M114.8 723.8h.01M163.4 718.1h.01M127 718.4h.01M88.2 746.3h.01M168.7 699.2h.01M153.1 731.4h.01M99.6 753h.01M135 736.1h.01M107.9 745.9h.01M165.9 717.5h.01M174.4 707.3h.01M140 726.3h.01M122.4 722.5h.01M121 742.8h.01M113.1 730.9h.01M149.5 726.4h.01M109.9 747.8h.01M128.5 718h.01M171.9 720.8h.01M109.1 751h.01M139.9 713.8h.01M117.1 725.6h.01M78.6 757.6h.01M113.8 729.1h.01M110.2 736.8h.01M155.9 704.1h.01M130.3 736.3h.01M98.2 757.1h.01M91.1 754.5h.01M93.1 763.2h.01M87.5 751.3h.01M134.8 741.1h.01M119.9 722.2h.01M131 712.4h.01M97.3 753.9h.01M94.3 755.2h.01M107.7 738.5h.01M128.8 712.5h.01M128.3 735.8h.01M177.4 712.8h.01M106.8 746.9h.01M168.5 712h.01M116.6 729.1h.01M146.8 711.3h.01M137.3 731.9h.01M144.5 714h.01M121.5 744.8h.01M144.6 731.6h.01M148.8 720.3h.01M153.6 713.1h.01M92.9 745.2h.01M98 750.7h.01M143.1 720.7h.01M154.6 712h.01M176.7 697.5h.01M161.5 708.8h.01M164.9 709.5h.01M144.1 710.4h.01M92.1 740.3h.01M146.8 721.1h.01M102.9 757.5h.01M146.8 717.1h.01M151.1 728.4h.01M166.3 719.7h.01M159.1 712.3h.01M112.5 744.3h.01M84.6 753.9h.01M170.5 713.3h.01M140.6 733.2h.01M142.2 725.3h.01M152.4 722.3h.01M106.3 734.5h.01M92.9 754.8h.01M90.3 755.5h.01M109 742h.01M80.8 752.6h.01M179 690.9h.01M156.2 706.7h.01M147.2 733.2h.01M148.8 732.5h.01M119.4 720.7h.01M150.4 718.7h.01M142 726.5h.01M188.6 697.1h.01M155.4 719.7h.01M102.9 749.6h.01M149 728.2h.01M154.8 722.4h.01M110.8 742.8h.01M76.6 756.5h.01M156.9 719.4h.01M76.7 756.2h.01M103.6 736.3h.01M163 706.4h.01M75.1 756.9h.01M112.8 741.8h.01M101 733.9h.01M101.3 751.7h.01M81.3 751h.01M137.8 733.6h.01M178.5 699.5h.01M147.6 727.8h.01M99.8 738h.01M110.6 730.4h.01M170 720.8h.01M147.1 722.1h.01M81.6 760.7h.01M121.6 744.9h.01M124.8 743.6h.01M100.3 734.5h.01M173.7 695h.01M141.7 728.2h.01M165.8 700.9h.01M117.9 746h.01M96.7 744.6h.01M111.5 724.2h.01M170.1 698.2h.01M88.2 739.1h.01M174.3 710.6h.01M96.9 742.7h.01M113.7 748.3h.01M108.2 731.8h.01M86.7 744.9h.01M96.9 739h.01M160 701.7h.01M124.2 746h.01M156.9 726.8h.01M80 748.2h.01M71.7 761.9h.01M169.2 705.9h.01M111 750.9h.01M78.4 759.4h.01M155.7 722.2h.01M123.7 721.3h.01M141.9 739.6h.01M109.3 730.9h.01M141.5 734.7h.01M145 710.4h.01M105.6 756.1h.01M177.4 703.1h.01M173.9 703.3h.01M107.9 752.5h.01M141.6 709.2h.01M163.4 703.6h.01M149.2 733.2h.01M74.2 752.2h.01M96.6 736.1h.01M152.4 705.7h.01M91.5 760.7h.01M157.5 703.4h.01M140.5 736.6h.01M122.5 721.1h.01M130.2 742.9h.01M150.9 706.4h.01M120.7 721.2h.01M174.9 709.8h.01M176.8 691.5h.01M169.5 706.6h.01M111.7 755.6h.01M75.1 752.4h.01M70.3 754h.01M86.2 748.4h.01M116.9 746.2h.01M82.2 748.2h.01M141.3 708.7h.01M90.4 740.1h.01M144.5 707.8h.01M137.1 741.4h.01M142.8 737.5h.01M169.7 715.3h.01M117.5 721h.01M105.7 730.4h.01M82 746.8h.01M175.7 698.5h.01M165.3 720.7h.01M119.9 747.7h.01M101.9 747.2h.01M186 693.5h.01M93.2 760.2h.01M158.8 722.4h.01M177.2 711h.01M101.9 751.3h.01M187.3 700.3h.01M125.2 720.2h.01M120.1 719.5h.01M98.7 744.5h.01M156.1 728.7h.01M174.8 706.6h.01M75.3 751.3h.01M114.9 748.8h.01M147.8 705.8h.01M131.3 744.5h.01M78 750.1h.01M115.9 748.4h.01M111.2 753.4h.01M176.5 713.8h.01M186.6 697.4h.01M176.8 705.8h.01M163 722.3h.01M181.6 697.6h.01M77.4 760.6h.01M186.1 700.8h.01M177.1 691.1h.01M83.7 744.7h.01M165.4 721.1h.01M162.6 722.7h.01M182 701.7h.01M91.2 740.1h.01M110.3 727.8h.01M177.4 706.8h.01M80 765.2h.01M89.9 761h.01M86.2 761.1h.01M170.7 716.6h.01M177.6 695.9h.01M89.9 762.5h.01M91.3 739.5h.01M73.2 757h.01M183.9 693.6h.01M74.6 761h.01M95.5 736.6h.01M133.5 712.7h.01M161.7 702.3h.01M178.2 707.5h.01M122.7 719.3h.01M112.1 757h.01M115.1 750.5h.01M98.5 762.1h.01M149.6 732.7h.01M184.1 701.2h.01M106.7 729.9h.01M185 688.5h.01M98.7 762.4h.01M101.6 757.5h.01M146.4 733.6h.01M153.3 703.9h.01M178.1 707.9h.01M81.9 744.5h.01M128.9 714.9h.01M111.9 753.8h.01M157.7 723.7h.01M104.3 733.2h.01M72.5 756.2h.01M79.2 747.1h.01M92.4 737h.01M179.6 707.5h.01M189.9 700.9h.01M170.6 717.5h.01M71 769.8h.01M130.2 748.9h.01M146.9 736.8h.01M187.2 702.4h.01M191.9 696.5h.01M166 695.6h.01M124.3 713.8h.01M118.1 715.7h.01M113.7 720.1h.01M99.9 730.2h.01M69.3 763.1h.01M62.5 769.7h.01M76.5 747.7h.01M108.5 723.9h.01M115.1 717.3h.01M136 708.5h.01M166.9 693.5h.01M174.7 690.4h.01M186 704.8h.01M176.9 720h.01M170 723.5h.01M142.6 742.4h.01M125.2 749.1h.01M115.9 753.5h.01M103.1 759.9h.01M95.3 764.5h.01M76.4 767.4h.01" stroke="#000" stroke-width="6.6" stroke-linecap="round" fill="none"/>
</g>
<rect x="223.1" y="669.7" width="178.9" height="120.3" fill="#ebebeb"/>
<g clip-path="url(#c51)">
<path d="M250.3 669.7v120.3M293 669.7v120.3M335.6 669.7v120.3M378.3 669.7v120.3M223.1 783.5h178.9M223.1 747.1h178.9M223.1 710.7h178.9M223.1 674.3h178.9" stroke="#fff" stroke-width="0.8"/>
<path d="M229 669.7v120.3M271.7 669.7v120.3M314.3 669.7v120.3M356.9 669.7v120.3M399.6 669.7v120.3M223.1 765.3h178.9M223.1 728.9h178.9M223.1 692.5h178.9" stroke="#fff" stroke-width="1.5"/>
<path d="M231 769.2h.01M239.7 767.6h.01M239.7 778.6h.01M230.7 784.6h.01M294.7 720.9h.01M350.6 688.9h.01M372.9 682.1h.01M394 674.9h.01M387.9 691.7h.01M391.2 687.6h.01M382 686.7h.01M307 732h.01M317.1 728.9h.01M348.8 713.9h.01M278.2 753.3h.01M316.8 732.2h.01M313.1 726.6h.01M305.4 732.6h.01M286 744.3h.01M305.5 734.3h.01M301.6 739h.01M299.6 731.6h.01M280.8 756.5h.01M333.9 711.9h.01M300.3 731.8h.01M311.5 727.3h.01M283.2 747.9h.01M288.2 743.5h.01M296.8 738.2h.01M312.1 729.7h.01M336.1 708.2h.01M338.8 721.2h.01M361.3 704.2h.01M327.7 713.3h.01M364.5 698.2h.01M343.9 714.6h.01M323.8 727.9h.01M321.9 720.6h.01M279 747h.01M269.5 759.6h.01M350.9 714.7h.01M325.1 721.9h.01M333.1 713.9h.01M341.5 722.4h.01M309.2 737.2h.01M313.5 723.4h.01M304.9 740.7h.01M322.4 725.8h.01M323.6 727h.01M300.2 740.3h.01M306.7 728h.01M322.6 722.1h.01M323.6 715.9h.01M278.8 746.9h.01M344.3 713.7h.01M283.5 741.1h.01M306.8 737.5h.01M300.3 739.2h.01M325.8 728.6h.01M306.8 726.6h.01M296.8 736.6h.01M309.2 736.6h.01M315.1 736h.01M332.6 712.8h.01M288.5 747.9h.01M294.4 744.6h.01M310.7 724.6h.01M280.2 749.1h.01M328.7 715.4h.01M320.9 733.2h.01M259.1 760.6h.01M323.8 724.2h.01M295.7 730.1h.01M316.5 725.6h.01M324 731.1h.01M320.8 724.9h.01M309.6 730.4h.01M285.4 744.5h.01M316.9 722.6h.01M351 699h.01M344.6 717.7h.01M281.7 752.8h.01M331.4 719.9h.01M379.2 689.7h.01M289.1 742.1h.01M331.5 730.3h.01M310.8 730.9h.01M322.8 716h.01M331.8 704.1h.01M306.4 728h.01M334.6 713.2h.01M323.3 720.1h.01M306.1 728.6h.01M287.7 751.6h.01M289.4 739.3h.01M258.2 760.5h.01M323.4 713.7h.01M371.7 700.5h.01M283.1 746.1h.01M295 734.4h.01M309.1 735.1h.01M335 704.6h.01M295.3 748.4h.01M331.6 717.9h.01M252.1 761.9h.01M323.7 729.5h.01M347.3 707.6h.01M339.1 705.8h.01M308.8 724h.01M288.5 750.2h.01M314.5 735.1h.01M337.9 718.8h.01M339.9 707.7h.01M313.6 719.5h.01M314.5 736.8h.01M331.2 705.9h.01M320.9 719.9h.01M332.4 723.4h.01M302 736.1h.01M341.3 717h.01M303.4 743.1h.01M332.4 725.3h.01M357.2 706.1h.01M324.4 720.1h.01M268.1 750.7h.01M357 707.3h.01M326.7 722.7h.01M301.1 745.7h.01M304.7 731.5h.01M322 734h.01M292.4 739.4h.01M353.3 699.1h.01M344.1 700.9h.01M332.2 719.4h.01M321.6 734.6h.01M286.5 740.5h.01M327.9 729.1h.01M272.9 756.1h.01M291.2 736h.01M336 719.9h.01M319.3 736.6h.01M275.2 760.6h.01M345.1 716.8h.01M276.8 751.2h.01M300.4 729.2h.01M342.3 706.2h.01M342.9 713.1h.01M334.6 718.3h.01M346.9 709.6h.01M261.8 759.6h.01M349.9 701.4h.01M321.4 718.5h.01M273.9 747.6h.01M282.3 746.5h.01M352.3 708.1h.01M344.3 712.2h.01M251.6 770.8h.01M303.4 728.6h.01M333.3 726.1h.01M252.6 771.2h.01M297.8 740.3h.01M293.1 743.6h.01M305.7 739.1h.01M329.1 724.7h.01M340.5 701.5h.01M288.3 733.5h.01M268.5 753.9h.01M282.1 756.7h.01M340 717.6h.01M370 700h.01M298.2 742.2h.01M366.9 707.8h.01M336.5 720.2h.01M334.7 712.1h.01M296.8 727h.01M310.7 738.2h.01M267.7 750.3h.01M308.1 725.1h.01M269.9 755.4h.01M326.3 709.3h.01M350.8 710.2h.01M352 715.2h.01M308 721.9h.01M305.2 746.1h.01M310.6 739.6h.01M283.5 736.6h.01M353.5 697.5h.01M291.4 749.9h.01M326.8 718.3h.01M256 768.4h.01M332 707.3h.01M274.3 752.9h.01M353.2 706.5h.01M276.1 742.6h.01M339.4 710.7h.01M349.3 700.6h.01M308.6 739.7h.01M379.6 693.8h.01M278.4 745h.01M292.7 734.4h.01M304.4 746.7h.01M347.8 704.3h.01M379.5 692.8h.01M315.3 720.3h.01M322.4 712.3h.01M330.6 712.3h.01M262.9 753.8h.01M339 716.2h.01M299.5 728.2h.01M307.7 742.1h.01M352.1 708.3h.01M306 725.9h.01M343.2 722.3h.01M364.2 708.1h.01M249.3 765.5h.01M258.2 764.6h.01M260.4 757.2h.01M373.8 692.8h.01M343.2 719.6h.01M296.1 743.2h.01M267.6 759.9h.01M318.7 719.9h.01M267.2 753.9h.01M288.6 734.3h.01M375 690.4h.01M310.9 720.6h.01M321.7 715.3h.01M258.6 767.3h.01M274.6 752h.01M316.6 715.7h.01M291.7 751.9h.01M359.1 705.4h.01M350.8 701.5h.01M266.4 747.7h.01M369.2 697.2h.01M296 746.5h.01M311.2 739h.01M355.2 696.5h.01M279.6 758.5h.01M351.7 702.7h.01M365.1 696.3h.01M357.8 699.7h.01M279.2 742.2h.01M270.4 759.2h.01M371.3 701h.01M361.4 707.3h.01M292.2 751.2h.01M353.8 713.7h.01M352.6 708.8h.01M271 750.2h.01M363 696.8h.01M285.8 737.9h.01M354.6 702h.01M288.1 752.4h.01M335.4 723.4h.01M256.3 766.8h.01M363.6 704.7h.01M277.8 755.5h.01M299.7 748.5h.01M320.9 736.6h.01M290.8 731.5h.01M265.7 762.3h.01M332.6 728.2h.01M362 708.7h.01M275.3 744.6h.01M312.7 715.3h.01M368 695.4h.01M327.6 731.2h.01M343.6 719.1h.01M375.8 690.4h.01M302.5 727.6h.01M356.9 707.5h.01M347.4 719.8h.01M257.1 768.9h.01M289 752.2h.01M357.9 701.7h.01M373 699.6h.01M307.1 724.8h.01M334.1 727.3h.01M363.2 698.4h.01M301.8 726.1h.01M263.8 758.7h.01M367.9 703.8h.01M359.9 696.7h.01M283.2 753.6h.01M364.2 702.7h.01M354.2 712.1h.01M287.8 753h.01M312.6 719h.01M365.5 695.3h.01M261.6 752.7h.01M312.2 744.4h.01M258.1 753.1h.01M252.7 760h.01M334.8 724.2h.01M361.2 709.1h.01M280.5 740h.01M306.6 743.8h.01M255.7 764.6h.01M346.9 720.3h.01M349.2 716.2h.01M340.6 701.2h.01M256 757.6h.01M251.3 770.8h.01M306.9 744.9h.01M255.6 764.4h.01M339.5 724.3h.01M313.5 738.8h.01M306.2 725.1h.01M357.5 709.2h.01M370.5 695.2h.01M260.4 763.6h.01M267.9 762.6h.01M269.8 746.8h.01M261.9 762.4h.01M272.3 746.9h.01M281.7 739.4h.01M372.3 692.2h.01M252.2 763.2h.01M279.6 737.7h.01M324.5 732.6h.01M254.7 764.1h.01M269 762.7h.01M326.2 709.3h.01M370.8 696.5h.01M372.3 693.6h.01M325.6 731.9h.01M305.7 723.9h.01M285.8 754.3h.01M373.5 699.7h.01M326.6 731.6h.01M250.8 759.7h.01M273.2 745.9h.01M248.4 769.2h.01M360.2 709.3h.01M320 713.3h.01M278.7 741.6h.01M319.8 740.9h.01M373.6 703.3h.01M379 696.9h.01M260.4 750.9h.01M246.2 771.3h.01M246.8 767.2h.01M256.2 755.5h.01M257.3 748.9h.01M277.4 738.7h.01M285.3 734h.01M296.3 723.4h.01M310.7 716.1h.01M314.2 711.2h.01M337.8 702.7h.01M358.1 692.5h.01M363.5 694.5h.01M381 688.2h.01M382.6 689.8h.01M376.8 701.8h.01M372.2 705.6h.01M353.8 717.3h.01M337.5 725.5h.01M325.8 734.6h.01M321.6 739.7h.01M314.7 745.1h.01M306.7 747.4h.01" stroke="#000" stroke-width="6.6" stroke-linecap="round" fill="none"/>
</g>
<rect x="410.2" y="669.7" width="178.9" height="120.3" fill="#ebebeb"/>
<g clip-path="url(#c52)">
<path d="M428.4 669.7v120.3M459.9 669.7v120.3M491.4 669.7v120.3M523 669.7v120.3M554.5 669.7v120.3M586 669.7v120.3M410.2 783.5h178.9M410.2 747.1h178.9M410.2 710.7h178.9M410.2 674.3h178.9" stroke="#fff" stroke-width="0.8"/>
<path d="M412.7 669.7v120.3M444.2 669.7v120.3M475.7 669.7v120.3M507.2 669.7v120.3M538.7 669.7v120.3M570.2 669.7v120.3M410.2 765.3h178.9M410.2 728.9h178.9M410.2 692.5h178.9" stroke="#fff" stroke-width="1.5"/>
<path d="M417.7 784.6h.01M434.5 760.5h.01M438.3 735.4h.01M458.9 695h.01M486.1 691.7h.01M493.6 692.5h.01M496.4 691.4h.01M563.3 674.9h.01M581.3 682.1h.01M561.7 736.2h.01M553 748.9h.01M526.1 760.7h.01M513 770.9h.01M506.3 769.2h.01M463.9 772h.01M452.6 771.7h.01M453.5 778.6h.01M444.4 757.7h.01M543.9 687.2h.01M520.2 717.8h.01M473.1 739.2h.01M485.3 712.2h.01M507.4 722.5h.01M516.9 727h.01M541.6 717.8h.01M523.9 712h.01M494.8 710.8h.01M495.8 741h.01M546.6 698h.01M512.4 733.8h.01M519.9 725.6h.01M532.8 716.8h.01M497.5 713.9h.01M485.7 725.3h.01M500.9 740.8h.01M484.1 744.6h.01M460.3 730.3h.01M528 714.9h.01M540.5 715.4h.01M521.2 734.1h.01M492.4 754.7h.01M494 746.9h.01M542.7 733.6h.01M546.1 722.5h.01M508.3 714.2h.01M550.9 726.8h.01M506.4 732.8h.01M484.7 736.4h.01M465.3 745h.01M496.3 740.1h.01M490.5 731.2h.01M505.3 726.5h.01M538 714.6h.01M506.8 739.4h.01M524.8 748.7h.01M499.5 730.3h.01M523.3 738.2h.01M536.9 736.2h.01M514.9 745h.01M554.6 720.6h.01M531.6 724.7h.01M505.3 723.4h.01M519.8 699.3h.01M488.9 722h.01M554.1 712.9h.01M538.7 714.8h.01M553.6 710.7h.01M528.9 736.9h.01M504.6 726.6h.01M511.8 725.3h.01M509.7 728.9h.01M525.1 716.8h.01M497.2 727.1h.01M510.9 706h.01M523.6 734h.01M483.5 720h.01M484.6 713.9h.01M534.2 720.3h.01M477 741h.01M492 739.1h.01M526.2 726.9h.01M504.2 724.8h.01M492.2 735.3h.01M462.4 734.6h.01M538.2 724.7h.01M504.1 719.3h.01M506.6 731h.01M515.8 746.5h.01M547.2 728.9h.01M511.8 709.7h.01M497.9 727h.01M514.7 737.4h.01M542.1 737.8h.01M479.1 741.2h.01M502 733h.01M471 731.3h.01M551.7 704.4h.01M486.2 729.1h.01M520.2 729.3h.01M517.5 726.2h.01M542 722.6h.01M495.3 732.1h.01M489.9 720.7h.01M487.2 718.9h.01M511.5 712.1h.01M498.2 716.8h.01M502 721h.01M482.9 760.2h.01M510.3 717.8h.01M501.9 754.6h.01M518.2 745.3h.01M493.7 748.3h.01M521 745h.01M536.2 743.7h.01M512.2 739.4h.01M479.3 746.3h.01M480.8 741.4h.01M483.1 749.6h.01M549 695.8h.01M544.8 739.5h.01M474.2 736.8h.01M458.2 736.8h.01M476.4 739.2h.01M495.3 726.2h.01M493.1 714.3h.01M493.9 736h.01M534.8 707.5h.01M496.5 751.1h.01M482.8 714.5h.01M519.8 707.4h.01M504.1 752.2h.01M481.7 735.7h.01M553.4 701h.01M536.7 733.8h.01M488.8 746.5h.01M494.5 731.7h.01M495.6 750.6h.01M513.8 751.5h.01M489.9 716.9h.01M539.3 708.8h.01M512.8 745.8h.01M533.5 705.3h.01M485.4 733.9h.01M466.4 754.6h.01M509.6 731.8h.01M487.9 716.3h.01M519.3 723.7h.01M507.3 745.3h.01M509.6 730.3h.01M511.6 714.4h.01M462.7 735.8h.01M469.1 748.1h.01M497.9 746h.01M523.2 702.6h.01M491.1 739h.01M506.3 730.7h.01M494.5 733.1h.01M479.3 737.2h.01M483.7 717h.01M495.4 753.5h.01M507.8 737.9h.01M518 709h.01M498.3 734.1h.01M490.8 709.8h.01M557.2 698.6h.01M517.8 724.9h.01M514.3 731.4h.01M484.9 739.8h.01M477.7 729.9h.01M499.3 701.4h.01M511.1 721.9h.01M480.2 713.2h.01M499.7 718.2h.01M508.7 743.1h.01M508.4 745.3h.01M544.2 709.2h.01M500.8 705h.01M540.7 717h.01M537.8 710.7h.01M550.8 714h.01M500.9 734.4h.01M498.7 734.4h.01M522.8 741.3h.01M521.1 726.4h.01M482.9 733.5h.01M472.8 743.1h.01M551.1 695.1h.01M480.5 708h.01M458.5 732.7h.01M523.8 711.8h.01M535 711.2h.01M533 722.8h.01M557 714h.01M475.1 760.5h.01M539.2 714.3h.01M544.6 698.9h.01M519.5 706.9h.01M523 733.7h.01M532.3 703.1h.01M494.4 742.5h.01M484.2 720.4h.01M525.7 719.7h.01M487 727.7h.01M499.7 725.1h.01M467.4 731h.01M487.2 738.1h.01M503.5 713.5h.01M481.5 717.1h.01M472.6 741.1h.01M484.5 724.9h.01M464.4 731.4h.01M524.1 712.9h.01M534.5 713.8h.01M491.3 741.2h.01M466 724.3h.01M551.6 727.6h.01M535.6 727.7h.01M542.6 705.3h.01M541.9 703.6h.01M494.4 730.6h.01M520.6 728.2h.01M537.5 721.2h.01M516.8 723.2h.01M483.4 754.4h.01M516.2 740.7h.01M510.8 748.5h.01M457.6 733.9h.01M481.5 733h.01M542.1 715.2h.01M452.8 737.3h.01M543.3 722.6h.01M507.3 735.2h.01M507.3 742.1h.01M489.6 753.6h.01M542.9 717.2h.01M542.6 731.3h.01M521.4 699.2h.01M510.4 705.2h.01M468.1 720.8h.01M498.8 744.8h.01M539.7 716.5h.01M489.3 740.6h.01M513.7 723.4h.01M519.2 749.5h.01M536.7 728.3h.01M537.6 728.2h.01M522.7 717.8h.01M458.7 745.3h.01M523.5 729h.01M526.6 709.8h.01M479 753.3h.01M503.5 748.2h.01M490.5 730.6h.01M533.9 734.3h.01M498.9 717.5h.01M505.3 759h.01M527.4 712.8h.01M521.6 749.8h.01M474.1 732.4h.01M546.2 725.3h.01M523.8 737.7h.01M513.1 734.8h.01M492.5 720.2h.01M487.4 752.2h.01M510.8 704.3h.01M552.9 726.3h.01M497.7 724.3h.01M532.6 702.3h.01M523.1 732.1h.01M520.4 725.2h.01M547.6 706.7h.01M478.3 755.7h.01M481.6 752.1h.01M485.2 760.7h.01M469.7 721h.01M523.9 712.5h.01M475.5 717.9h.01M550.8 730.2h.01M488.3 715.4h.01M474.8 736.5h.01M541.5 710.1h.01M522.8 719h.01M476.5 748.4h.01M482.2 722.2h.01M552.5 718.5h.01M476.8 715.8h.01M498.7 721.5h.01M540.3 706.9h.01M539.4 743.3h.01M511.5 730.7h.01M506 749.8h.01M525.9 709.3h.01M489.4 731.4h.01M543.3 732.1h.01M506 735.7h.01M533.9 705h.01M511.9 705.4h.01M561.9 712.5h.01M545.2 727.1h.01M500.3 699.5h.01M489.8 752.1h.01M471.4 735.5h.01M537.1 714.6h.01M516.6 730.3h.01M493.2 729.8h.01M502.8 710h.01M539.5 737.8h.01M528.7 707.9h.01M531.1 727h.01M546.9 738.3h.01M499.5 703.9h.01M527.7 697.1h.01M537.6 731.9h.01M517.1 735.1h.01M518.9 742.2h.01M526.9 708.3h.01M545.7 736.1h.01M490.3 725.3h.01M547.4 703.1h.01M509.9 709.8h.01M478.4 749.6h.01M484.6 727.9h.01M511.5 722.1h.01M522.1 708.3h.01M493.8 718.3h.01M526.1 698.4h.01M536.5 696.8h.01M476.6 736.8h.01M482.4 730.8h.01M497.6 739.8h.01M529.6 739.5h.01M467.4 749.4h.01M500.4 739.9h.01M518.8 722.8h.01M545.4 713.9h.01M500.7 730.2h.01M510 699.2h.01M517 720.2h.01M467.4 741.3h.01M525.6 699.9h.01M527.6 737.3h.01M503.8 753.4h.01M524.8 731h.01M505.5 752.9h.01M486.4 747.2h.01M460.5 738h.01M507.3 713.4h.01M524.4 752.7h.01M501.6 740.6h.01M509.1 719h.01M501.7 742.4h.01M498.1 752.5h.01M492.5 720.2h.01M470.6 734.1h.01M534.3 727.6h.01M529.2 714.1h.01M529.1 750.1h.01M514 717.8h.01M537.8 737.9h.01M477.2 741.6h.01M497.5 749.6h.01M509.4 700.4h.01M494.9 708.5h.01M548.3 729.1h.01M484.5 711.7h.01M485.3 745.9h.01M477.2 719.3h.01M521.8 717.4h.01M482.8 704.9h.01M514.8 716.7h.01M543.9 724.2h.01M489.1 760.1h.01M479.2 722.3h.01M467.8 736h.01M526.3 723.4h.01M517.9 697h.01M475.2 730.8h.01M455.5 748.1h.01M530.8 738.2h.01M470.5 727.9h.01M485 758.2h.01M522.4 722.6h.01M466.7 749.2h.01M480.8 734.7h.01M521.5 738h.01M528.5 725.2h.01M493.9 755.6h.01M490.3 731.8h.01M487.7 738.1h.01M495.9 725h.01M519.8 717.2h.01M463.3 748.1h.01M526.7 745.4h.01M466.7 725.7h.01M557 717.5h.01M530.6 719.7h.01M509.2 753h.01M505 737.5h.01M529.5 703.7h.01M503 752.9h.01M477.2 729.2h.01M551.4 708.2h.01M463.2 746.7h.01M479.7 726.7h.01M471.1 728.5h.01M527.2 743h.01M479 726.8h.01M469.9 724.6h.01M506.6 706.3h.01M530.7 706.5h.01M463.5 754.6h.01M474.4 723.6h.01M533 698.7h.01M459.7 738.7h.01M527.6 709.3h.01M527 744.7h.01M515 694.2h.01M485.6 733.9h.01M478.6 736.1h.01M550.6 730.5h.01M522.7 701.4h.01M512.8 714.2h.01M560.3 704.9h.01M530.3 727.5h.01M526.9 706h.01M504.6 755.6h.01M476.9 742.4h.01M504.8 760.7h.01M521.9 710.7h.01M456.4 753.8h.01M492.5 700.8h.01M480 711.1h.01M518.9 702.8h.01M474.4 716.7h.01M502.2 705h.01M541.4 723.7h.01M517.7 713h.01M463.7 742.2h.01M464 740.1h.01M502.9 757.3h.01M491.3 736.6h.01M502.4 707h.01M540.8 725.3h.01M544.1 733.8h.01M475.2 730.1h.01M461.8 753.3h.01M559.9 719.7h.01M475.5 727.5h.01M545.2 741.3h.01M512.6 754h.01M547.2 697.8h.01M526.2 729h.01M501.4 710.7h.01M529.9 734.3h.01M521.2 712.5h.01M535.7 715.7h.01M528.6 708.7h.01M469.1 742.9h.01M472 759.6h.01M531.4 745h.01M517.4 709.6h.01M535.6 728.2h.01M531.7 734.6h.01M454.7 744.2h.01M454.5 752.2h.01M452.6 727.5h.01M545.1 729.9h.01M466.6 722.3h.01M509.6 704.9h.01M474.7 717.5h.01M539.2 705.3h.01M469.8 756.1h.01M543.9 701.9h.01M505.6 711.9h.01M474 749.5h.01M522.5 752.9h.01M467.2 751.2h.01M558.6 709.9h.01M570.5 713.3h.01M462.7 751.5h.01M531 730.1h.01M547.8 707.9h.01M559.5 717.2h.01M542.6 742.6h.01M459.7 746.3h.01M528.4 703h.01M556.3 722h.01M486.7 743.4h.01M500.4 705.6h.01M466.2 729.3h.01M478.4 762.1h.01M472.5 746h.01M513.5 707.2h.01M481 758.1h.01M538.2 740.2h.01M534.5 745.9h.01M489.4 762.2h.01M477.1 749.8h.01M514.7 702.9h.01M523.7 755.9h.01M460.1 741.3h.01M561.8 701.7h.01M530.6 743.9h.01M451.4 732h.01M544.8 722.1h.01M509 758.7h.01M489.4 710h.01M475.2 754h.01M505.3 705.1h.01M546 709.2h.01M486.8 711.5h.01M562.5 692.7h.01M482.8 762.5h.01M531.1 739.4h.01M533.2 738.5h.01M533.8 711h.01M546.5 721h.01M557 710.2h.01M534.7 701.3h.01M447.9 751.8h.01M463.5 725.3h.01M561 703.2h.01M543.5 744.7h.01M547.4 732.9h.01M471.4 759h.01M456.2 760.1h.01M457.5 750.5h.01M454.9 741.9h.01M547.6 713.6h.01M551.3 730.3h.01M454.5 731.8h.01M561.9 716h.01M474.2 765.1h.01M551.4 705.6h.01M556.6 704.9h.01M490.5 704h.01M547.3 725h.01M534.8 695.5h.01M460.1 760.2h.01M492.5 764.9h.01M470.2 760.7h.01M544 698.8h.01M538.7 704.3h.01M465.6 723.7h.01M462.5 726.2h.01M476.3 715.5h.01M452.9 739.8h.01M446.3 743.7h.01M443.3 751.8h.01M466.6 760h.01M497.2 763.4h.01M505.9 764.5h.01M512.8 755.9h.01M519.6 754.6h.01M574 718.8h.01M567 712.5h.01M567.7 700.7h.01M570.6 698.5h.01M572.8 693.6h.01M557.5 690.5h.01M546.2 690.2h.01M518.7 693.5h.01M514.7 696.4h.01M476.3 712h.01M470.9 713.9h.01M466.8 716.5h.01M448.8 733.8h.01M449.3 726.1h.01M461.2 723.7h.01M479.4 704.3h.01M488.8 702.5h.01M501.7 696.4h.01M516.6 691.4h.01M518 690h.01M523.5 696.8h.01M539.4 695.9h.01M550.2 691.3h.01M565.6 689h.01M569.2 691.9h.01M566 702.2h.01M560.6 707.4h.01M575.9 717.1h.01M567 715.4h.01M549.3 735.6h.01M547.6 743h.01M549 745.9h.01M531.2 750.1h.01M507.7 761.3h.01M499.2 762.5h.01M493.7 767h.01M479 767h.01M457.9 761.4h.01M454.3 761.9h.01M451.8 751.1h.01M445.2 754.6h.01M448.1 748.2h.01" stroke="#000" stroke-width="6.6" stroke-linecap="round" fill="none"/>
</g>
<rect x="597.2" y="669.7" width="178.9" height="120.3" fill="#ebebeb"/>
<g clip-path="url(#c53)">
<path d="M609.6 669.7v120.3M640.9 669.7v120.3M672.2 669.7v120.3M703.4 669.7v120.3M734.7 669.7v120.3M766 669.7v120.3M597.2 783.5h178.9M597.2 747.1h178.9M597.2 710.7h178.9M597.2 674.3h178.9" stroke="#fff" stroke-width="0.8"/>
<path d="M625.3 669.7v120.3M656.5 669.7v120.3M687.8 669.7v120.3M719.1 669.7v120.3M750.3 669.7v120.3M597.2 765.3h178.9M597.2 728.9h178.9M597.2 692.5h178.9" stroke="#fff" stroke-width="1.5"/>
<path d="M604.7 740.9h.01M610 740h.01M611.6 718.9h.01M607.1 751.9h.01M613.7 763.1h.01M621.2 765.4h.01M626.1 766.8h.01M627.4 772.2h.01M635.7 784.4h.01M691.6 778.6h.01M689.3 768.1h.01M718.8 763h.01M755.1 682.1h.01M709.9 674.9h.01M625 705.7h.01M652.2 687.6h.01M653.7 693.3h.01M646.7 695h.01M690.5 692.5h.01M728.1 694.5h.01M693 715.6h.01M721.7 736.6h.01M667.5 726.1h.01M715.3 741.6h.01M758.6 716.2h.01M670 740.5h.01M707.9 721.1h.01M677 714.4h.01M674.1 745.6h.01M668.1 727.4h.01M682.8 715.9h.01M670.4 709.6h.01M712.6 723.9h.01M743.6 725.9h.01M655.8 721.6h.01M745.7 732.5h.01M758.6 713.6h.01M702.2 750.8h.01M678 756.4h.01M719 705.2h.01M681 749.7h.01M679.6 737.7h.01M696.4 720.7h.01M699.4 714h.01M684.6 755.9h.01M711.2 723.5h.01M662.6 739h.01M672.5 718.4h.01M709.9 731.7h.01M657.7 731.5h.01M704.6 722.1h.01M674.1 714.2h.01M664.8 729.2h.01M665.7 753.3h.01M671.7 739.1h.01M661.1 730h.01M707.3 726.4h.01M669.3 758h.01M699.6 734.6h.01M682 711.1h.01M668 705.2h.01M667.8 730.2h.01M698.1 744.4h.01M674 733.5h.01M682.8 713.5h.01M731.1 732.8h.01M709.5 732.9h.01M711.7 728.4h.01M701.1 727.6h.01M698.5 729.6h.01M709.3 689.9h.01M694.9 706.7h.01M696.5 734.8h.01M712.4 697.7h.01M692 717.6h.01M673.9 722.1h.01M746.7 711.7h.01M705.8 708.3h.01M658.3 733.9h.01M695.7 725.8h.01M705.6 697h.01M692.3 742.8h.01M646.1 733.4h.01M693.1 732h.01M715.9 747.9h.01M704.9 734.2h.01M701.6 751.7h.01M657.8 723.7h.01M684.9 743.6h.01M719.1 726.4h.01M700.3 707.7h.01M682 727.7h.01M658.3 713.4h.01M718 717.5h.01M704.2 701h.01M701.1 759h.01M639.1 733.1h.01M704.9 713.9h.01M679 728.7h.01M654.5 733.8h.01M669.4 758.2h.01M687.5 740.2h.01M694.2 707.7h.01M732.6 724h.01M673.8 713h.01M691.2 733.1h.01M702.5 748.5h.01M738.1 717.4h.01M663.5 732.4h.01M691.9 716.7h.01M726.4 712.2h.01M694.3 731.3h.01M625.4 743.1h.01M666.1 725.9h.01M753.9 706.9h.01M649.8 727.6h.01M704.3 726.4h.01M693.1 748.2h.01M699.7 715.2h.01M734.2 727.5h.01M737.4 720.9h.01M716.4 710.1h.01M755.5 696.3h.01M694.5 718.7h.01M706 738.8h.01M699.3 744.8h.01M634.9 738.5h.01M749.5 715.5h.01M681.3 754.8h.01M657.7 755.1h.01M723.8 728.3h.01M691.2 744h.01M706.2 710.3h.01M679.1 758.9h.01M710 712.6h.01M648.2 752h.01M638.3 729.6h.01M683.3 756.6h.01M744.9 738.9h.01M683.1 709.3h.01M677.7 725.4h.01M672.6 749.3h.01M698.4 738.1h.01M646.9 733.9h.01M694.5 736.2h.01M661 741.6h.01M666.1 759.5h.01M695.1 737.4h.01M713.5 733.6h.01M661.1 734.2h.01M688.5 731.9h.01M650.7 712.8h.01M662.1 724.6h.01M714.2 730.4h.01M681.6 735.2h.01M643.1 720.8h.01M719.1 721.5h.01M700.9 727.9h.01M684.3 705.5h.01M671 723.7h.01M694.3 722.2h.01M696.6 721.9h.01M683 739h.01M700.8 710.1h.01M696 741.5h.01M737.3 725.6h.01M661.7 749.4h.01M739.3 713.9h.01M627.9 738.1h.01M736.3 704.8h.01M664.3 732.4h.01M693.5 703.9h.01M692.5 710.8h.01M744.7 726.4h.01M702.7 718.1h.01M684.7 739.9h.01M686.4 728.6h.01M700.7 743h.01M701.9 740.7h.01M696.4 710.6h.01M635.1 721.3h.01M702.3 720.4h.01M663.4 739.1h.01M692.1 748.6h.01M674.9 736.3h.01M713.8 705.9h.01M652 709.8h.01M658.4 740.3h.01M690 711h.01M666.5 740.2h.01M706.2 730.8h.01M662.5 718h.01M678.1 726.2h.01M699.3 745.5h.01M726.8 721.3h.01M700.2 744.3h.01M733 721.3h.01M673.5 740.9h.01M715.2 719h.01M754.3 720.3h.01M715.6 701.2h.01M626 743.3h.01M685.8 739.7h.01M669.7 725.7h.01M646.5 748.5h.01M693.4 721.7h.01M679.3 736.5h.01M671.7 736.8h.01M647.7 742.9h.01M687.5 749.3h.01M690.9 754.7h.01M737.3 705.7h.01M686.4 735.2h.01M681.9 739.1h.01M664.4 761.6h.01M665.7 724.4h.01M655.7 758h.01M679.3 705.2h.01M631.4 720.5h.01M684.8 751.2h.01M699.7 717.9h.01M649.3 732.3h.01M631.4 725.3h.01M660.4 720.9h.01M699.4 727.1h.01M743 729.1h.01M662.4 736.3h.01M674.3 730.7h.01M703.7 716.6h.01M658.6 736.3h.01M722.1 718.8h.01M690.6 727.2h.01M671.5 726.4h.01M711.3 747.7h.01M656.6 727.6h.01M638.9 729h.01M687.5 714h.01M687.4 722.1h.01M677.1 718.8h.01M670.1 733.1h.01M672.2 719.9h.01M720.5 708.6h.01M722.1 708.1h.01M653.5 747.7h.01M641.6 735.8h.01M662 706.2h.01M687 717.1h.01M713.3 744.2h.01M638.9 740.1h.01M660.9 752.1h.01M693.1 721.7h.01M696 747.2h.01M670.3 733.6h.01M670 705.1h.01M739.8 701.6h.01M711.8 741.8h.01M738 713.6h.01M726.2 710.4h.01M735.5 720h.01M653.4 728.7h.01M677.9 732.7h.01M689.4 736.6h.01M715.3 713.5h.01M723.3 727.7h.01M717.5 730.2h.01M668.5 740.9h.01M691.3 709.1h.01M696 718.6h.01M651.4 740.6h.01M665.9 737.3h.01M698.3 720.8h.01M677.6 711.5h.01M672.7 746.1h.01M734.2 720.4h.01M674.6 730h.01M681.2 722.6h.01M628 721.3h.01M729.9 729.9h.01M646.7 723.5h.01M661.8 722h.01M659.4 747.6h.01M682.5 718.4h.01M741.8 717.8h.01M740.8 709.9h.01M730.7 710h.01M653.6 710.1h.01M722.9 718.3h.01M680 739.7h.01M635.7 742.2h.01M664.2 752.3h.01M666.3 755.3h.01M682.6 729.8h.01M672.4 744.2h.01M713.3 719.7h.01M711.2 714.6h.01M705.3 741.9h.01M708.3 742.8h.01M723.6 700.6h.01M641.9 737.3h.01M641.4 756.9h.01M699.7 699.7h.01M689 727h.01M660.7 764h.01M670.4 748.2h.01M699.4 725.4h.01M711.1 710.9h.01M650.7 739.8h.01M683.8 757.4h.01M709.5 752.4h.01M658.5 716.9h.01M712.4 709.5h.01M684.7 727h.01M734.1 737.7h.01M692.8 751.2h.01M709.3 741.2h.01M637 724.6h.01M681.5 734.3h.01M711.3 716.6h.01M716 741.4h.01M685.1 701.3h.01M745.8 713.2h.01M636.4 731.9h.01M703 731.3h.01M728.5 708.7h.01M694.4 714.6h.01M685 746.7h.01M743.4 727.7h.01M642 730.7h.01M678 748h.01M690.5 722.1h.01M656.1 748.2h.01M640.6 739.1h.01M738.6 737.4h.01M711.4 738.5h.01M640.7 735.8h.01M636.2 739.2h.01M752.4 715.9h.01M737.3 734.8h.01M647.7 746.1h.01M738.2 734h.01M650.6 727.7h.01M658 758.4h.01M694.8 758.3h.01M736.4 703.7h.01M669.4 721.1h.01M690.5 746.2h.01M757.1 714.5h.01M679 740.1h.01M743.8 711.7h.01M637.5 730.2h.01M635.2 728.7h.01M655.3 726.8h.01M650 755.4h.01M684.3 733.5h.01M649.6 724.5h.01M673.9 715.6h.01M674.4 744h.01M684.3 712h.01M655.9 725.8h.01M731.9 709.9h.01M673.4 754.8h.01M629.2 737.7h.01M646.2 726.3h.01M695.6 702.9h.01M637.3 743.2h.01M712.4 727.6h.01M653.4 733.9h.01M664.9 739.8h.01M742.3 720.6h.01M676.2 746.9h.01M657.9 753.8h.01M657.5 741.7h.01M706.7 721.2h.01M659.6 756.8h.01M714.4 740.2h.01M680.2 705.8h.01M724.5 724.5h.01M709.2 696.6h.01M716.3 735.1h.01M688.2 740.3h.01M715.8 730.5h.01M675.2 761.1h.01M706.3 713.5h.01M706.1 737.7h.01M655.2 722h.01M712.9 704.7h.01M734.2 728.6h.01M642.5 750.8h.01M743.5 715.2h.01M644.8 722.5h.01M664.7 740.9h.01M680.3 744.6h.01M665.5 752.8h.01M663.9 742.3h.01M709.1 719.4h.01M703.9 739h.01M695.3 737.9h.01M632.3 736.4h.01M717.8 728.2h.01M729.8 712.5h.01M673.6 716.7h.01M668.1 746.8h.01M752.4 704.7h.01M691 703.4h.01M746.4 703.6h.01M666.5 753.9h.01M746 722.9h.01M643.1 738.4h.01M730.7 737.8h.01M676.5 712.1h.01M685.7 755.2h.01M677.9 762h.01M726.5 734.6h.01M658.9 739h.01M738.3 731.3h.01M720.3 730.9h.01M701.8 744h.01M666.5 744.6h.01M662.4 741.8h.01M680.5 750.8h.01M638.7 715.2h.01M686.4 705.4h.01M695.1 739.2h.01M627.1 719.6h.01M651.1 757.1h.01M717.9 709.1h.01M651.6 747.2h.01M719.6 718.4h.01M710.6 698.6h.01M642 728.8h.01M733.2 700.5h.01M690.5 736.3h.01M645.3 747.6h.01M646.4 713.5h.01M707.2 751.1h.01M727 728.8h.01M672 703.5h.01M724 702.1h.01M735.7 729.3h.01M686.9 711.3h.01M725.3 736.9h.01M692.3 737.6h.01M630.5 733.8h.01M656.5 738.8h.01M663.3 713.5h.01M663.5 713.4h.01M669.3 750.6h.01M743.3 704.3h.01M643.3 729.7h.01M653.8 751.3h.01M753 715.7h.01M657.9 718.4h.01M722.2 715.7h.01M665.6 721.8h.01M656.1 747h.01M711.2 709.2h.01M661.7 754.6h.01M666.6 708.5h.01M666.8 712.9h.01M634.4 716h.01M651.4 756.4h.01M696.4 758.6h.01M739.4 698h.01M726.3 700.8h.01M733.3 702.8h.01M750.9 710.7h.01M724.2 708.2h.01M723.1 734.1h.01M671.8 719.5h.01M699 707.2h.01M719.3 746.5h.01M647.1 736.6h.01M717.3 716.9h.01M677.4 708.5h.01M718.1 741.1h.01M674.3 755h.01M669.7 719.8h.01M647.3 720.7h.01M717.8 744h.01M637 758.1h.01M733.1 733.4h.01M646.9 743.8h.01M644.3 755.4h.01M701.8 707.7h.01M715.8 725.3h.01M652.5 709.6h.01M719.4 741.2h.01M696.5 705.7h.01M736.9 739.8h.01M642.4 725.8h.01M678.3 702.6h.01M687.7 703.9h.01M675 710.8h.01M732.9 717.5h.01M719.5 715.3h.01M719.1 743.3h.01M706.8 708.3h.01M711.2 702h.01M644.8 731.7h.01M718.8 711.2h.01M669.7 705.9h.01M736.8 709.9h.01M661 707.5h.01M700.9 756.1h.01M713.7 747.5h.01M645.8 746.7h.01M730.1 707h.01M705.3 750.9h.01M743.2 733.1h.01M634.8 731.2h.01M675 709.5h.01M703.5 701.4h.01M728.4 740.8h.01M703.4 744.1h.01M662.5 746.1h.01M675 707.1h.01M664.2 749h.01M655.5 741.6h.01M736.5 713.9h.01M664.1 759.2h.01M650.4 745.4h.01M670.6 717.8h.01M700.7 749.7h.01M704.1 755.1h.01M647.6 735.6h.01M732.8 701h.01M629.3 745.7h.01M723.1 707h.01M741.9 729.5h.01M729.4 704.5h.01M696.4 754.3h.01M645.3 738.6h.01M667.9 711.5h.01M651.8 722.4h.01M725.3 715.5h.01M724.5 718.1h.01M733.3 709.4h.01M653.7 740h.01M729.6 719.9h.01M710.2 689.1h.01M649.1 720.1h.01M732.3 714.5h.01M664.4 711.3h.01M686.7 753.8h.01M725.5 738.1h.01M665.9 716.6h.01M642.3 752.6h.01M645.6 744.9h.01M697.6 747.7h.01M645.2 742.2h.01M637.1 715.7h.01M724.5 709.4h.01M650.1 737.1h.01M718.8 703.2h.01M718.9 747.9h.01M675 747.9h.01M662.3 760.5h.01M746.4 721.6h.01M651 754.4h.01M656.2 712.9h.01M694.8 751.6h.01M670.6 704.5h.01M724.6 745.1h.01M671.4 758.3h.01M705.4 705h.01M673.4 754.8h.01M724.4 702.3h.01M660.4 713.8h.01M728.5 742.4h.01M751.2 721.9h.01M654.1 708.3h.01M703.4 706h.01M739.9 705.8h.01M643 722.2h.01M637.7 724.9h.01M700.3 700.9h.01M746.2 703.3h.01M740.3 724.1h.01M730 718.5h.01M659.2 763.4h.01M748.2 701.6h.01M633.5 734.8h.01M724.8 700.1h.01M627 740.4h.01M621.8 751.3h.01M627 748.2h.01M643.5 744.7h.01M659.9 767.4h.01M676.6 765.9h.01M689 757.6h.01M740.6 742.8h.01M750 733.1h.01M749.9 727.7h.01M759.8 708.2h.01M759.8 703.2h.01M761.3 697.7h.01M742.2 692.1h.01M738.1 694.6h.01M711.9 694.2h.01M705.7 691.2h.01M702.4 698.1h.01M676.2 701.8h.01M671 700.7h.01M664.2 702.5h.01M659 704.7h.01M646.3 704.9h.01M642.7 711.4h.01M624 716.9h.01M624.6 744.9h.01M631.3 729.5h.01M622 715.8h.01M630.7 715.2h.01M682.4 700.4h.01M704.6 692.9h.01M707.3 688.8h.01M720.9 701h.01M728.4 696.7h.01M739 692.6h.01M746.6 696.5h.01M757.5 694.6h.01M763.7 695.1h.01M760.9 714.4h.01M756.5 723.3h.01M752.4 736.3h.01M744.7 742.6h.01M735.4 745.7h.01M694.7 760.5h.01M674 764.1h.01M657.8 767.8h.01M644.6 759h.01M637.8 762.6h.01M634.9 760.5h.01M638.6 755.6h.01M633 743.4h.01M684.2 696.4h.01" stroke="#000" stroke-width="6.6" stroke-linecap="round" fill="none"/>
</g>
<rect x="784.3" y="669.7" width="178.9" height="120.3" fill="#ebebeb"/>
<g clip-path="url(#c54)">
<path d="M814.4 669.7v120.3M856.7 669.7v120.3M898.9 669.7v120.3M941.2 669.7v120.3M784.3 783.5h178.9M784.3 747.1h178.9M784.3 710.7h178.9M784.3 674.3h178.9" stroke="#fff" stroke-width="0.8"/>
<path d="M793.3 669.7v120.3M835.6 669.7v120.3M877.8 669.7v120.3M920 669.7v120.3M962.3 669.7v120.3M784.3 765.3h178.9M784.3 728.9h178.9M784.3 692.5h178.9" stroke="#fff" stroke-width="1.5"/>
<path d="M791.7 784.6h.01M810.1 778.6h.01M809 769.2h.01M848.1 764.3h.01M875 747.8h.01M931.4 710.2h.01M955 674.9h.01M942.1 682.1h.01M944.3 690.4h.01M830.4 746.1h.01M887.9 705.7h.01M834.7 753.3h.01M852.4 739.5h.01M880.2 732.1h.01M845.8 742.9h.01M892.6 713.8h.01M895 726h.01M843.1 745.2h.01M838.5 756.2h.01M891.6 719.8h.01M862.5 743.9h.01M893.7 720.9h.01M882.6 723.1h.01M850.5 749.1h.01M858.9 739.4h.01M856.8 735.5h.01M866.2 729.9h.01M869.9 737.2h.01M870.2 731.7h.01M859.9 739.4h.01M937.2 693.4h.01M841 745.5h.01M873.1 737.5h.01M905.3 711.3h.01M892.5 721.2h.01M857 742.3h.01M875.6 738h.01M909.9 704.1h.01M869.1 732.7h.01M839.4 756.7h.01M875.3 728.7h.01M843.3 742.8h.01M864.5 730.9h.01M867.5 737.5h.01M865.9 737.2h.01M868.1 741.5h.01M881.7 729.7h.01M890.4 721.9h.01M892.2 709.9h.01M886.8 722.5h.01M892.9 726.1h.01M905.2 715.2h.01M885.8 722.7h.01M897 714.2h.01M881.1 728.3h.01M869.6 740.6h.01M920.4 705.2h.01M892.3 717.1h.01M895.7 708.9h.01M853.3 742.9h.01M833.2 761.3h.01M854.7 740.6h.01M890.2 729.3h.01M841.5 751.8h.01M915.8 703.9h.01M890.7 717.9h.01M897.4 715.4h.01M876.3 739.8h.01M835.9 753.7h.01M873.1 736.3h.01M870.6 730.6h.01M872.2 732.8h.01M854.9 743.9h.01M880.4 723.9h.01M878.8 729.2h.01M862.3 736.8h.01M894.2 716.1h.01M899.5 721.1h.01M860.2 742h.01M855.5 738.3h.01M863.2 733.6h.01M869.3 728h.01M879.6 732h.01M856.8 751.3h.01M878.8 732.1h.01M928.8 695.7h.01M904.8 710.8h.01M841.3 752.3h.01M880.6 734.7h.01M880.9 730.8h.01M862.2 740.7h.01M861.8 735h.01M915.1 706.7h.01M910.4 705.6h.01M846.5 749.2h.01M909.3 702.3h.01M885.8 725.3h.01M877.7 723.9h.01M874.2 736.3h.01M867.4 741.7h.01M913 712.5h.01M897.8 716.4h.01M897.8 713.5h.01M873.6 729.7h.01M897.9 714.3h.01M886.5 714.6h.01M918.8 702.8h.01M840.5 745.9h.01M881 721.6h.01M872.9 734h.01M888.8 728.2h.01M904.7 713.7h.01M855.7 744.8h.01M850.9 755.3h.01M883.2 719.9h.01M877.7 737h.01M833 758.1h.01M888.9 713.7h.01M911.8 714.4h.01M923.5 701.8h.01M866.8 727.4h.01M885.3 729h.01M912.3 705.6h.01M832 757.1h.01M870.1 741.1h.01M932 690.1h.01M847.8 745.6h.01M901.9 709.2h.01M849.6 738.2h.01M898.6 724.7h.01M900.1 721h.01M909.1 709.1h.01M840.2 754.5h.01M821.6 767.2h.01M852.3 746.5h.01M867.5 742.6h.01M918.2 706.8h.01M857.9 745.1h.01M851.1 747.8h.01M875.6 725.4h.01M886 730.8h.01M899.9 715.8h.01M907.2 708.9h.01M863.5 732.5h.01M885.5 722h.01M909.1 707.4h.01M918 707.3h.01M905.6 706.1h.01M899.6 713.4h.01M848.8 749.9h.01M924.7 698.5h.01M830.4 762.4h.01M853.7 748.6h.01M894.1 726.1h.01M851.2 752h.01M874.6 726.3h.01M904 715.3h.01M868.2 745.7h.01M905.9 704.8h.01M847.1 750.7h.01M900.9 717.6h.01M882.3 730.9h.01M848.4 741.3h.01M924.1 704.5h.01M839.6 748.7h.01M859.9 748.8h.01M862.3 732.8h.01M830.7 759.3h.01M942.4 689.7h.01M844.7 755h.01M843.8 758h.01M873.9 723.9h.01M910 707.2h.01M891.3 728.6h.01M890.6 718.3h.01M872.9 741.3h.01M879.9 735.1h.01M907.9 710.5h.01M895.7 726.4h.01M920.8 701.2h.01M840.3 744h.01M884.3 737h.01M913.9 702.8h.01M864.4 745.7h.01M880.8 717.6h.01M843.2 746.8h.01M926.5 694.3h.01M884.1 732.3h.01M916.9 701h.01M847.6 754.7h.01M872.8 741.6h.01M836.2 759.6h.01M834 752.3h.01M912.7 713h.01M883.8 720h.01M890.4 718.7h.01M917.9 700.6h.01M850.6 738.1h.01M899.8 710.8h.01M877.3 738h.01M935.3 695h.01M906.3 711.5h.01M912.4 709.5h.01M875.8 740.1h.01M918 697.7h.01M882.5 739.2h.01M854.8 738.5h.01M845.3 760.6h.01M857 735.5h.01M875.5 721.3h.01M847.8 740.9h.01M878.1 721.2h.01M823.2 770.6h.01M886.5 719.4h.01M911.9 698.1h.01M827.7 763.6h.01M853.9 737.9h.01M860 734.8h.01M899.5 708.1h.01M829.5 758.4h.01M924.3 697.5h.01M918 697.5h.01M922.5 695.4h.01M854.4 751.1h.01M845.8 760.2h.01M898.6 707.6h.01M926.5 698.4h.01M879.6 737.9h.01M838.8 759.9h.01M878.1 720.7h.01M878.5 738.4h.01M863.2 748.7h.01M930.6 698.3h.01M841 758.8h.01M886.3 710.2h.01M855.3 752.8h.01M878.5 739h.01M874 742h.01M927.8 691.8h.01M893.2 708.1h.01M908.7 714.2h.01M888.4 729.8h.01M920.4 697.1h.01M848.4 755.3h.01M829.1 765.8h.01M869.9 727.5h.01M872.1 744.1h.01M900.3 708.1h.01M839.1 744.3h.01M837.9 752.6h.01M928.8 698.1h.01M929 690.1h.01M904.2 706.8h.01M894.6 726.6h.01M902.4 718h.01M930.4 696.8h.01M906.3 718h.01M835.1 760.3h.01M880.7 717.5h.01M861.3 729.5h.01M831.9 762h.01M859.1 734h.01M907.8 717.5h.01M877.8 720.7h.01M868.5 727.1h.01M915.3 709.6h.01M874.8 721.4h.01M913.5 711.5h.01M932.7 693.1h.01M926.9 693h.01M857.9 734.6h.01M885.9 733.3h.01M874.6 742.2h.01M899.2 707.2h.01M870.8 725.4h.01M861 748.8h.01M903.8 705.3h.01M907.4 702.2h.01M865.7 728.1h.01M866 746.2h.01M853.9 736.7h.01M882 717.3h.01M886.7 735.4h.01M930 689.3h.01M827.7 769h.01M893.1 728.7h.01M905.8 718.3h.01M839.5 746.7h.01M872.6 723.7h.01M926 703h.01M909.8 701.7h.01M901.2 721.4h.01M873.3 722.8h.01M846 740.7h.01M924.6 693h.01M828.7 760.6h.01M901.8 721.4h.01M904.5 719h.01M838.5 750.6h.01M828.4 757.7h.01M879.7 739.8h.01M860.6 732.7h.01M899.1 724.1h.01M927.1 691.5h.01M834.9 762.6h.01M833.3 763.8h.01M904.2 704.7h.01M868.8 746.5h.01M892.3 734.4h.01M825.6 760.7h.01M818.2 768.9h.01M814 769.9h.01M822 763.3h.01M831.5 747.1h.01M876.2 718.3h.01M883.8 716.1h.01M888.6 707.1h.01M903.3 702.6h.01M919.1 694.2h.01M926 688.8h.01M938.9 691.6h.01M942.4 686.9h.01M932.9 698.4h.01M900.5 725.9h.01M896.5 730.7h.01M890.3 736.9h.01M877.9 742h.01M874 746.5h.01M860.9 750.8h.01M832.5 766.7h.01M809 769.6h.01" stroke="#000" stroke-width="6.6" stroke-linecap="round" fill="none"/>
</g>
<rect x="971.4" y="669.7" width="178.9" height="120.3" fill="#ebebeb"/>
<g clip-path="url(#c55)">
<path d="M980.3 669.7v120.3M1034.6 669.7v120.3M1089 669.7v120.3M1143.3 669.7v120.3M971.4 773h178.9M971.4 749.9h178.9M971.4 726.8h178.9M971.4 703.8h178.9M971.4 680.7h178.9" stroke="#fff" stroke-width="0.8"/>
<path d="M1007.4 669.7v120.3M1061.8 669.7v120.3M1116.2 669.7v120.3M971.4 784.5h178.9M971.4 761.4h178.9M971.4 738.4h178.9M971.4 715.3h178.9M971.4 692.2h178.9" stroke="#fff" stroke-width="1.5"/>
<path d="M978.3 783.8C979.9 783.7 985.4 783.8 987.7 783.6C990.1 783.4 991 783 992.7 782.4C994.3 781.8 995.7 781 997.6 780C999.6 778.9 1002 777.6 1004.2 776.3C1006.4 775.1 1008.9 773.9 1010.8 772.5C1012.8 771.2 1014.1 770.2 1015.8 768.4C1017.4 766.6 1019.1 764.7 1020.7 761.8C1022.4 758.9 1024 754.9 1025.7 751.1C1027.3 747.2 1029 742.8 1030.6 738.7C1032.3 734.6 1033.9 730.5 1035.6 726.3C1037.2 722.2 1038.9 718.2 1040.5 714C1042.2 709.7 1043.8 705 1045.5 700.8C1047.1 696.5 1048.9 691.8 1050.4 688.4C1051.9 685 1053.3 682.3 1054.6 680.1C1055.8 678 1056.9 676.6 1057.9 675.7C1058.8 674.8 1059.4 674.6 1060.3 674.7C1061.3 674.8 1062.4 675 1063.6 676C1064.9 677.1 1066.4 678.6 1067.8 681C1069.1 683.3 1070.4 686.5 1071.9 690C1073.4 693.6 1075.2 698.7 1076.8 702.4C1078.5 706.1 1080.1 709.2 1081.8 712.3C1083.4 715.5 1085.1 718 1086.7 721.4C1088.4 724.8 1090 729.1 1091.7 732.9C1093.3 736.8 1095 740.8 1096.6 744.5C1098.3 748.2 1099.9 751.9 1101.6 755.2C1103.2 758.5 1104.9 761.7 1106.5 764.3C1108.2 766.9 1109.6 768.9 1111.5 770.9C1113.4 772.9 1115.9 774.6 1118.1 776.2C1120.3 777.8 1122.5 779.3 1124.7 780.5C1126.9 781.6 1129.1 782.4 1131.3 782.9C1133.5 783.5 1136 783.6 1137.9 783.8C1139.7 783.9 1141.6 783.8 1142.3 783.8" fill="none" stroke="#141414" stroke-width="1.7" stroke-linejoin="round"/>
</g>
<path d="M32.3 145.6h3.7M32.3 109.5h3.7M32.3 73.3h3.7M32.3 37.1h3.7M32.3 275.2h3.7M32.3 246.5h3.7M32.3 217.8h3.7M32.3 189.1h3.7M32.3 160.5h3.7M32.3 404.6h3.7M32.3 383.5h3.7M32.3 362.4h3.7M32.3 341.3h3.7M32.3 320.2h3.7M32.3 299.1h3.7M32.3 515.1h3.7M32.3 494.1h3.7M32.3 473.2h3.7M32.3 452.2h3.7M32.3 431.3h3.7M32.3 655.4h3.7M32.3 627.3h3.7M32.3 599.1h3.7M32.3 570.9h3.7M32.3 542.8h3.7M32.3 765.3h3.7M32.3 728.9h3.7M32.3 692.5h3.7" stroke="#333" stroke-width="1.42"/>
<g font-size="11.9" fill="#4d4d4d" text-anchor="end"><text transform="translate(28.4 150) scale(1 1.04)">0.0</text><text transform="translate(28.4 113.9) scale(1 1.04)">0.1</text><text transform="translate(28.4 77.7) scale(1 1.04)">0.2</text><text transform="translate(28.4 41.5) scale(1 1.04)">0.3</text><text transform="translate(28.4 279.6) scale(1 1.04)">-5.0</text><text transform="translate(28.4 250.9) scale(1 1.04)">-2.5</text><text transform="translate(28.4 222.2) scale(1 1.04)">0.0</text><text transform="translate(28.4 193.5) scale(1 1.04)">2.5</text><text transform="translate(28.4 164.9) scale(1 1.04)">5.0</text><text transform="translate(28.4 409) scale(1 1.04)">-3</text><text transform="translate(28.4 387.9) scale(1 1.04)">-2</text><text transform="translate(28.4 366.8) scale(1 1.04)">-1</text><text transform="translate(28.4 345.7) scale(1 1.04)">0</text><text transform="translate(28.4 324.6) scale(1 1.04)">1</text><text transform="translate(28.4 303.5) scale(1 1.04)">2</text><text transform="translate(28.4 519.5) scale(1 1.04)">-2</text><text transform="translate(28.4 498.5) scale(1 1.04)">-1</text><text transform="translate(28.4 477.6) scale(1 1.04)">0</text><text transform="translate(28.4 456.6) scale(1 1.04)">1</text><text transform="translate(28.4 435.7) scale(1 1.04)">2</text><text transform="translate(28.4 659.8) scale(1 1.04)">-6</text><text transform="translate(28.4 631.7) scale(1 1.04)">-3</text><text transform="translate(28.4 603.5) scale(1 1.04)">0</text><text transform="translate(28.4 575.3) scale(1 1.04)">3</text><text transform="translate(28.4 547.2) scale(1 1.04)">6</text><text transform="translate(28.4 769.7) scale(1 1.04)">-2</text><text transform="translate(28.4 733.3) scale(1 1.04)">0</text><text transform="translate(28.4 696.9) scale(1 1.04)">2</text></g>
<path d="M37.6 790v3.7M84.8 790v3.7M132.1 790v3.7M179.3 790v3.7M229 790v3.7M271.7 790v3.7M314.3 790v3.7M356.9 790v3.7M399.6 790v3.7M412.7 790v3.7M444.2 790v3.7M475.7 790v3.7M507.2 790v3.7M538.7 790v3.7M570.2 790v3.7M625.3 790v3.7M656.5 790v3.7M687.8 790v3.7M719.1 790v3.7M750.3 790v3.7M793.3 790v3.7M835.6 790v3.7M877.8 790v3.7M920 790v3.7M962.3 790v3.7M1007.4 790v3.7M1061.8 790v3.7M1116.2 790v3.7" stroke="#333" stroke-width="1.42"/>
<g font-size="11.85" fill="#4d4d4d" text-anchor="middle"><text transform="translate(37.6 805.8) scale(1 1.04)">-5.0</text><text transform="translate(84.8 805.8) scale(1 1.04)">-2.5</text><text transform="translate(132.1 805.8) scale(1 1.04)">0.0</text><text transform="translate(179.3 805.8) scale(1 1.04)">2.5</text><text transform="translate(229 805.8) scale(1 1.04)">-5.0</text><text transform="translate(271.7 805.8) scale(1 1.04)">-2.5</text><text transform="translate(314.3 805.8) scale(1 1.04)">0.0</text><text transform="translate(356.9 805.8) scale(1 1.04)">2.5</text><text transform="translate(399.6 805.8) scale(1 1.04)">5.0</text><text transform="translate(412.7 805.8) scale(1 1.04)">-3</text><text transform="translate(444.2 805.8) scale(1 1.04)">-2</text><text transform="translate(475.7 805.8) scale(1 1.04)">-1</text><text transform="translate(507.2 805.8) scale(1 1.04)">0</text><text transform="translate(538.7 805.8) scale(1 1.04)">1</text><text transform="translate(570.2 805.8) scale(1 1.04)">2</text><text transform="translate(625.3 805.8) scale(1 1.04)">-2</text><text transform="translate(656.5 805.8) scale(1 1.04)">-1</text><text transform="translate(687.8 805.8) scale(1 1.04)">0</text><text transform="translate(719.1 805.8) scale(1 1.04)">1</text><text transform="translate(750.3 805.8) scale(1 1.04)">2</text><text transform="translate(793.3 805.8) scale(1 1.04)">-6</text><text transform="translate(835.6 805.8) scale(1 1.04)">-3</text><text transform="translate(877.8 805.8) scale(1 1.04)">0</text><text transform="translate(920 805.8) scale(1 1.04)">3</text><text transform="translate(962.3 805.8) scale(1 1.04)">6</text><text transform="translate(1007.4 805.8) scale(1 1.04)">-2</text><text transform="translate(1061.8 805.8) scale(1 1.04)">0</text><text transform="translate(1116.2 805.8) scale(1 1.04)">2</text></g>
</g>
<rect x="1182" y="0" width="3" height="818" fill="#000"/>
<rect x="0" y="815.7" width="1185" height="2.3" fill="#000"/>
</svg>
</body></html>
